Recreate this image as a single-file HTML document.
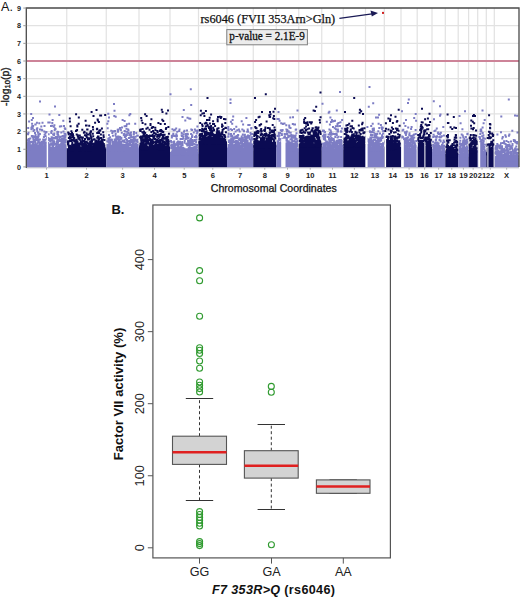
<!DOCTYPE html>
<html><head><meta charset="utf-8"><style>
html,body{margin:0;padding:0;background:#fff;}
svg{display:block;}
text{font-family:"Liberation Sans",sans-serif;}
.ty{font-size:7.2px;font-weight:bold;text-anchor:middle;fill:#222;}
.tx{font-size:7.6px;font-weight:bold;text-anchor:middle;fill:#222;}
.ser{font-family:"Liberation Serif",serif;}
</style></head><body>
<svg width="520" height="598" viewBox="0 0 520 598">
<rect width="520" height="598" fill="#fff"/>
<text x="1.0" y="10.9" style="font-size:12.6px;fill:#111">A.</text>
<text transform="translate(9,106) rotate(-90)" style="font-size:10.5px;fill:#222;stroke:#222;stroke-width:0.35">-log<tspan font-size="7.6px" dy="0.6">10</tspan><tspan dy="-0.6">(p)</tspan></text>
<path d="M26.3 149.25H519.0M26.3 131.60H519.0M26.3 113.95H519.0M26.3 96.30H519.0M26.3 78.65H519.0M26.3 61.00H519.0M26.3 43.35H519.0M26.3 25.70H519.0M66.75 8.0V166.9M106.25 8.0V166.9M139.00 8.0V166.9M170.00 8.0V166.9M198.50 8.0V166.9M227.00 8.0V166.9M253.25 8.0V166.9M276.25 8.0V166.9M298.75 8.0V166.9M321.75 8.0V166.9M343.25 8.0V166.9M365.50 8.0V166.9M384.30 8.0V166.9M401.00 8.0V166.9M417.20 8.0V166.9M432.00 8.0V166.9M445.30 8.0V166.9M458.20 8.0V166.9M468.60 8.0V166.9M477.70 8.0V166.9M486.30 8.0V166.9M494.30 8.0V166.9" stroke="#e2e2e2" stroke-width="1.2" fill="none"/>
<rect x="26.30" y="147.49" width="40.45" height="19.91" fill="#7d7dc4"/>
<rect x="66.75" y="148.37" width="39.50" height="19.03" fill="#0b0b53"/>
<rect x="106.25" y="148.37" width="32.75" height="19.03" fill="#7d7dc4"/>
<rect x="139.00" y="146.60" width="31.00" height="20.80" fill="#0b0b53"/>
<rect x="170.00" y="151.90" width="28.50" height="15.50" fill="#7d7dc4"/>
<rect x="198.50" y="141.31" width="28.50" height="26.09" fill="#0b0b53"/>
<rect x="227.00" y="148.37" width="26.25" height="19.03" fill="#7d7dc4"/>
<rect x="253.25" y="144.84" width="23.00" height="22.56" fill="#0b0b53"/>
<rect x="276.25" y="148.37" width="22.50" height="19.03" fill="#7d7dc4"/>
<rect x="298.75" y="143.96" width="23.00" height="23.44" fill="#0b0b53"/>
<rect x="321.75" y="148.37" width="21.50" height="19.03" fill="#7d7dc4"/>
<rect x="343.25" y="143.96" width="22.25" height="23.44" fill="#0b0b53"/>
<rect x="365.50" y="148.37" width="18.80" height="19.03" fill="#7d7dc4"/>
<rect x="384.30" y="146.60" width="16.70" height="20.80" fill="#0b0b53"/>
<rect x="401.00" y="150.13" width="16.20" height="17.27" fill="#7d7dc4"/>
<rect x="417.20" y="146.60" width="14.80" height="20.80" fill="#0b0b53"/>
<rect x="432.00" y="151.90" width="13.30" height="15.50" fill="#7d7dc4"/>
<rect x="445.30" y="153.66" width="12.90" height="13.74" fill="#0b0b53"/>
<rect x="458.20" y="153.66" width="10.40" height="13.74" fill="#7d7dc4"/>
<rect x="468.60" y="150.13" width="9.10" height="17.27" fill="#0b0b53"/>
<rect x="477.70" y="151.90" width="8.60" height="15.50" fill="#7d7dc4"/>
<rect x="486.30" y="151.90" width="8.00" height="15.50" fill="#0b0b53"/>
<rect x="494.30" y="158.08" width="24.70" height="9.32" fill="#7d7dc4"/>
<path d="M32.1 146.1h2v2h-2zM29.1 141.1h2v2h-2zM40.4 143.2h2v2h-2zM45.8 148.7h2v2h-2zM43.0 148.8h2v2h-2zM29.8 148.6h2v2h-2zM58.1 144.9h2v2h-2zM34.9 148.1h2v2h-2zM62.7 141.6h2v2h-2zM41.6 142.5h2v2h-2zM28.1 120.5h2v2h-2zM37.4 134.1h2v2h-2zM30.8 147.9h2v2h-2zM57.7 146.3h2v2h-2zM48.7 147.6h2v2h-2zM40.6 141.3h2v2h-2zM28.7 143.1h2v2h-2zM34.2 148.7h2v2h-2zM42.7 140.4h2v2h-2zM48.8 146.2h2v2h-2zM37.8 144.5h2v2h-2zM53.2 137.0h2v2h-2zM48.4 147.0h2v2h-2zM59.9 143.4h2v2h-2zM37.4 139.1h2v2h-2zM30.8 119.1h2v2h-2zM55.4 145.0h2v2h-2zM45.1 147.9h2v2h-2zM52.0 148.8h2v2h-2zM48.3 138.0h2v2h-2zM38.4 133.2h2v2h-2zM49.2 140.0h2v2h-2zM43.8 142.5h2v2h-2zM62.6 135.1h2v2h-2zM51.8 144.2h2v2h-2zM53.3 148.7h2v2h-2zM64.5 141.1h2v2h-2zM37.2 135.9h2v2h-2zM52.0 145.4h2v2h-2zM44.1 149.0h2v2h-2zM30.8 147.7h2v2h-2zM55.8 148.7h2v2h-2zM35.8 148.1h2v2h-2zM59.8 145.3h2v2h-2zM43.6 148.5h2v2h-2zM60.3 143.0h2v2h-2zM59.5 136.0h2v2h-2zM42.3 146.6h2v2h-2zM60.3 145.7h2v2h-2zM32.1 124.9h2v2h-2zM35.2 147.6h2v2h-2zM44.9 147.1h2v2h-2zM36.4 142.3h2v2h-2zM42.4 149.1h2v2h-2zM48.1 145.6h2v2h-2zM52.8 125.7h2v2h-2zM50.0 143.6h2v2h-2zM28.4 140.5h2v2h-2zM56.3 131.5h2v2h-2zM57.0 133.2h2v2h-2zM41.6 145.3h2v2h-2zM50.7 148.3h2v2h-2zM28.9 148.6h2v2h-2zM32.5 147.3h2v2h-2zM28.3 145.9h2v2h-2zM32.1 149.1h2v2h-2zM40.3 148.3h2v2h-2zM59.9 148.9h2v2h-2zM32.0 141.8h2v2h-2zM39.7 146.9h2v2h-2zM31.0 145.7h2v2h-2zM64.5 134.6h2v2h-2zM44.9 144.3h2v2h-2zM30.2 148.4h2v2h-2zM36.5 145.9h2v2h-2zM32.5 135.6h2v2h-2zM62.9 149.0h2v2h-2zM31.9 143.4h2v2h-2zM27.3 143.1h2v2h-2zM63.9 143.4h2v2h-2zM53.1 133.9h2v2h-2zM40.4 146.8h2v2h-2zM56.0 147.7h2v2h-2zM56.3 143.3h2v2h-2zM34.9 146.1h2v2h-2zM64.2 136.3h2v2h-2zM57.3 134.5h2v2h-2zM54.7 136.1h2v2h-2zM46.2 147.2h2v2h-2zM27.4 145.8h2v2h-2zM37.0 148.9h2v2h-2zM52.9 146.8h2v2h-2zM43.5 125.1h2v2h-2zM64.3 127.9h2v2h-2zM40.3 125.4h2v2h-2zM35.0 147.2h2v2h-2zM34.2 147.5h2v2h-2zM60.9 141.6h2v2h-2zM44.7 135.1h2v2h-2zM57.0 141.0h2v2h-2zM51.7 148.5h2v2h-2zM56.4 130.7h2v2h-2zM44.7 138.5h2v2h-2zM56.6 147.6h2v2h-2zM57.1 146.0h2v2h-2zM41.5 121.8h2v2h-2zM62.7 145.2h2v2h-2zM32.8 139.2h2v2h-2zM32.1 148.1h2v2h-2zM57.3 131.1h2v2h-2zM58.1 147.9h2v2h-2zM51.6 119.0h2v2h-2zM47.4 145.8h2v2h-2zM26.8 148.1h2v2h-2zM51.3 122.0h2v2h-2zM62.2 143.4h2v2h-2zM59.8 144.8h2v2h-2zM34.4 135.7h2v2h-2zM37.6 146.9h2v2h-2zM48.8 147.0h2v2h-2zM42.4 146.8h2v2h-2zM61.3 148.1h2v2h-2zM43.9 145.8h2v2h-2zM61.1 142.4h2v2h-2zM61.6 144.9h2v2h-2zM46.7 143.8h2v2h-2zM27.0 143.5h2v2h-2zM33.3 144.7h2v2h-2zM57.0 149.1h2v2h-2zM44.5 147.7h2v2h-2zM47.7 139.2h2v2h-2zM46.2 146.1h2v2h-2zM56.5 142.9h2v2h-2zM47.8 148.3h2v2h-2zM36.9 146.9h2v2h-2zM45.8 137.8h2v2h-2zM55.5 142.8h2v2h-2zM43.3 130.5h2v2h-2zM45.7 141.9h2v2h-2zM52.9 143.6h2v2h-2zM46.8 144.5h2v2h-2zM62.5 144.1h2v2h-2zM60.0 139.9h2v2h-2zM36.3 127.3h2v2h-2zM62.6 142.8h2v2h-2zM31.6 135.1h2v2h-2zM43.3 148.1h2v2h-2zM35.6 148.6h2v2h-2zM52.0 148.6h2v2h-2zM60.8 137.4h2v2h-2zM53.8 147.8h2v2h-2zM31.8 140.9h2v2h-2zM63.5 132.7h2v2h-2zM62.9 147.2h2v2h-2zM45.0 145.2h2v2h-2zM58.3 113.9h2v2h-2zM42.9 147.8h2v2h-2zM39.3 143.6h2v2h-2zM38.5 147.5h2v2h-2zM27.0 139.3h2v2h-2zM43.2 142.9h2v2h-2zM39.0 149.0h2v2h-2zM46.0 141.6h2v2h-2zM64.2 148.6h2v2h-2zM63.7 137.2h2v2h-2zM36.5 148.3h2v2h-2zM56.3 148.8h2v2h-2zM31.3 146.7h2v2h-2zM61.3 144.9h2v2h-2zM36.2 136.0h2v2h-2zM61.6 147.9h2v2h-2zM53.2 142.7h2v2h-2zM28.5 148.4h2v2h-2zM42.7 140.2h2v2h-2zM62.4 148.6h2v2h-2zM57.1 141.4h2v2h-2zM59.2 148.5h2v2h-2zM59.5 148.6h2v2h-2zM39.3 144.5h2v2h-2zM61.9 143.0h2v2h-2zM31.3 146.7h2v2h-2zM35.5 143.4h2v2h-2zM32.5 148.2h2v2h-2zM34.1 148.7h2v2h-2zM38.0 146.3h2v2h-2zM37.4 138.2h2v2h-2zM33.1 143.8h2v2h-2zM27.0 145.9h2v2h-2zM26.9 146.9h2v2h-2zM47.5 139.0h2v2h-2zM44.6 147.5h2v2h-2zM30.4 128.2h2v2h-2zM42.9 136.0h2v2h-2zM58.4 143.9h2v2h-2zM45.8 145.3h2v2h-2zM64.1 140.2h2v2h-2zM58.3 145.9h2v2h-2zM50.8 139.7h2v2h-2zM39.7 145.2h2v2h-2zM31.3 148.7h2v2h-2zM54.8 148.6h2v2h-2zM32.6 146.9h2v2h-2zM58.6 148.5h2v2h-2zM52.1 133.5h2v2h-2zM35.6 146.6h2v2h-2zM44.0 146.5h2v2h-2zM43.4 147.8h2v2h-2zM63.3 146.8h2v2h-2zM47.3 121.6h2v2h-2zM63.4 147.0h2v2h-2zM40.0 146.3h2v2h-2zM41.0 149.1h2v2h-2zM45.6 144.2h2v2h-2zM45.7 147.4h2v2h-2zM36.5 149.1h2v2h-2zM41.7 148.4h2v2h-2zM27.2 148.8h2v2h-2zM35.3 146.4h2v2h-2zM46.6 142.4h2v2h-2zM51.6 138.5h2v2h-2zM60.1 139.5h2v2h-2zM38.8 145.3h2v2h-2zM32.0 117.1h2v2h-2zM51.0 139.3h2v2h-2zM58.4 148.8h2v2h-2zM50.4 132.1h2v2h-2zM57.5 139.0h2v2h-2zM46.4 148.0h2v2h-2zM58.4 143.8h2v2h-2zM58.1 136.6h2v2h-2zM60.6 142.4h2v2h-2zM53.0 140.3h2v2h-2zM27.5 147.1h2v2h-2zM40.2 148.0h2v2h-2zM58.4 148.3h2v2h-2zM50.4 142.9h2v2h-2zM52.5 141.6h2v2h-2zM26.4 144.0h2v2h-2zM55.1 136.9h2v2h-2zM46.9 143.8h2v2h-2zM28.8 140.9h2v2h-2zM36.0 138.9h2v2h-2zM36.5 148.5h2v2h-2zM34.2 139.1h2v2h-2zM63.8 138.8h2v2h-2zM41.0 143.9h2v2h-2zM52.6 144.1h2v2h-2zM50.0 138.0h2v2h-2zM29.3 141.2h2v2h-2zM36.1 147.9h2v2h-2zM38.0 138.7h2v2h-2zM26.8 142.7h2v2h-2zM36.6 148.7h2v2h-2zM52.9 140.6h2v2h-2zM37.5 140.5h2v2h-2zM44.2 143.6h2v2h-2zM30.9 144.3h2v2h-2zM34.0 132.0h2v2h-2zM62.3 119.8h2v2h-2zM43.9 149.0h2v2h-2zM63.5 136.0h2v2h-2zM36.6 144.6h2v2h-2zM62.7 147.3h2v2h-2zM48.7 147.3h2v2h-2zM46.5 148.0h2v2h-2zM31.4 125.7h2v2h-2zM45.9 136.0h2v2h-2zM53.3 132.4h2v2h-2zM60.8 147.1h2v2h-2zM27.3 144.0h2v2h-2zM45.2 149.1h2v2h-2zM37.9 144.5h2v2h-2zM39.5 148.0h2v2h-2zM58.6 146.2h2v2h-2zM55.2 149.1h2v2h-2zM30.9 135.1h2v2h-2zM53.7 129.1h2v2h-2zM37.4 131.4h2v2h-2zM41.4 145.6h2v2h-2zM40.2 142.3h2v2h-2zM36.9 144.8h2v2h-2zM30.2 148.8h2v2h-2zM37.3 135.3h2v2h-2zM35.9 128.1h2v2h-2zM45.9 146.8h2v2h-2zM40.7 147.5h2v2h-2zM60.3 125.2h2v2h-2zM50.6 136.3h2v2h-2zM62.5 130.4h2v2h-2zM54.0 143.0h2v2h-2zM54.5 148.7h2v2h-2zM55.2 144.5h2v2h-2zM37.3 141.2h2v2h-2zM61.9 148.7h2v2h-2zM44.5 148.1h2v2h-2zM37.7 145.9h2v2h-2zM63.8 138.8h2v2h-2zM51.5 146.8h2v2h-2zM47.7 146.4h2v2h-2zM32.7 145.3h2v2h-2zM34.3 147.8h2v2h-2zM45.4 131.0h2v2h-2zM61.1 147.2h2v2h-2zM31.7 144.6h2v2h-2zM29.8 147.5h2v2h-2zM29.8 145.9h2v2h-2zM36.2 147.0h2v2h-2zM60.4 142.7h2v2h-2zM42.2 138.5h2v2h-2zM46.5 145.0h2v2h-2zM39.3 145.5h2v2h-2zM37.0 148.6h2v2h-2zM31.1 122.8h2v2h-2zM50.5 143.8h2v2h-2zM34.6 133.9h2v2h-2zM35.9 146.7h2v2h-2zM43.4 145.2h2v2h-2zM58.9 125.5h2v2h-2zM27.1 133.3h2v2h-2zM53.6 148.9h2v2h-2zM44.5 131.8h2v2h-2zM26.3 142.4h2v2h-2zM61.9 145.3h2v2h-2zM59.2 135.7h2v2h-2zM35.9 121.7h2v2h-2zM32.2 148.2h2v2h-2zM52.5 143.5h2v2h-2zM54.1 127.4h2v2h-2zM55.7 141.1h2v2h-2zM47.5 144.4h2v2h-2zM56.4 148.8h2v2h-2zM61.7 147.1h2v2h-2zM38.0 141.2h2v2h-2zM36.0 148.1h2v2h-2zM53.2 141.4h2v2h-2zM29.0 148.2h2v2h-2zM48.7 143.4h2v2h-2zM34.9 145.4h2v2h-2zM26.7 142.1h2v2h-2zM44.0 146.4h2v2h-2zM51.1 124.7h2v2h-2zM44.6 132.6h2v2h-2zM35.8 147.1h2v2h-2zM53.4 124.3h2v2h-2zM27.1 146.3h2v2h-2zM52.2 143.8h2v2h-2zM36.2 145.0h2v2h-2zM61.9 140.7h2v2h-2zM27.6 147.2h2v2h-2zM42.5 146.0h2v2h-2zM33.9 140.3h2v2h-2zM54.7 136.9h2v2h-2zM34.2 143.7h2v2h-2zM38.3 122.3h2v2h-2zM35.2 136.0h2v2h-2zM55.5 147.2h2v2h-2zM62.9 146.5h2v2h-2zM33.5 143.9h2v2h-2zM42.3 147.2h2v2h-2zM62.8 140.7h2v2h-2zM41.4 147.9h2v2h-2zM63.8 147.3h2v2h-2zM28.3 148.0h2v2h-2zM41.4 148.7h2v2h-2zM60.3 131.6h2v2h-2zM64.7 139.0h2v2h-2zM39.0 128.6h2v2h-2zM62.3 147.6h2v2h-2zM27.5 138.6h2v2h-2zM40.9 140.8h2v2h-2zM39.1 145.5h2v2h-2zM26.4 147.7h2v2h-2zM39.8 146.6h2v2h-2zM31.1 125.3h2v2h-2zM34.3 123.6h2v2h-2zM57.9 145.8h2v2h-2zM42.9 135.9h2v2h-2zM44.5 148.7h2v2h-2zM61.7 145.6h2v2h-2zM40.3 147.5h2v2h-2zM27.5 131.7h2v2h-2zM57.5 145.1h2v2h-2zM27.9 138.0h2v2h-2zM28.7 148.9h2v2h-2zM36.2 129.8h2v2h-2zM60.8 138.6h2v2h-2zM36.8 146.0h2v2h-2zM50.0 124.9h2v2h-2zM53.9 146.8h2v2h-2zM36.9 146.2h2v2h-2zM55.4 149.1h2v2h-2zM50.7 130.1h2v2h-2zM27.2 127.1h2v2h-2zM44.6 147.1h2v2h-2zM63.0 125.1h2v2h-2zM36.0 145.4h2v2h-2zM45.3 144.8h2v2h-2zM33.3 129.0h2v2h-2zM54.7 136.7h2v2h-2zM56.0 135.9h2v2h-2zM38.9 142.0h2v2h-2zM40.2 146.2h2v2h-2zM29.3 137.4h2v2h-2zM55.2 147.4h2v2h-2zM28.8 147.0h2v2h-2zM47.5 148.9h2v2h-2zM64.0 146.1h2v2h-2zM64.3 132.7h2v2h-2zM29.5 146.8h2v2h-2zM45.5 148.4h2v2h-2zM43.5 139.6h2v2h-2zM42.3 147.1h2v2h-2zM52.2 141.7h2v2h-2zM58.9 138.6h2v2h-2zM31.0 140.8h2v2h-2zM37.6 135.0h2v2h-2zM40.6 142.7h2v2h-2zM34.0 138.9h2v2h-2zM35.7 147.0h2v2h-2zM60.3 147.9h2v2h-2zM38.8 142.5h2v2h-2zM64.5 145.3h2v2h-2zM35.2 143.7h2v2h-2zM51.4 136.5h2v2h-2zM30.2 113.1h2v2h-2zM57.8 144.2h2v2h-2zM61.5 135.1h2v2h-2zM37.6 148.8h2v2h-2zM33.6 148.2h2v2h-2zM48.7 121.5h2v2h-2zM40.6 128.7h2v2h-2zM43.6 133.7h2v2h-2zM56.2 146.8h2v2h-2zM30.4 126.8h2v2h-2zM50.1 142.2h2v2h-2zM40.5 147.3h2v2h-2zM34.1 148.0h2v2h-2zM49.3 146.9h2v2h-2zM34.1 141.0h2v2h-2zM38.9 149.0h2v2h-2zM33.4 140.4h2v2h-2zM34.1 146.3h2v2h-2zM47.4 137.0h2v2h-2zM30.2 148.6h2v2h-2zM47.5 145.3h2v2h-2zM29.8 141.3h2v2h-2zM53.0 147.8h2v2h-2zM37.2 145.1h2v2h-2zM63.0 146.3h2v2h-2zM48.1 146.3h2v2h-2zM42.3 145.7h2v2h-2zM64.6 133.8h2v2h-2zM33.9 145.7h2v2h-2zM34.1 139.2h2v2h-2zM61.0 149.1h2v2h-2zM57.8 144.9h2v2h-2zM60.2 145.1h2v2h-2zM32.5 144.4h2v2h-2zM47.5 149.0h2v2h-2zM61.3 141.3h2v2h-2zM50.2 148.4h2v2h-2zM45.7 145.6h2v2h-2zM37.2 147.9h2v2h-2zM61.9 143.5h2v2h-2zM45.2 148.2h2v2h-2zM63.5 136.6h2v2h-2zM31.2 147.4h2v2h-2zM63.8 127.2h2v2h-2zM28.4 144.1h2v2h-2zM41.2 129.2h2v2h-2zM50.2 131.2h2v2h-2zM32.5 135.8h2v2h-2zM34.8 137.3h2v2h-2zM58.8 145.2h2v2h-2zM33.3 135.6h2v2h-2zM41.7 147.2h2v2h-2zM41.0 143.5h2v2h-2zM35.8 148.1h2v2h-2zM60.8 139.2h2v2h-2zM47.9 148.8h2v2h-2zM27.8 138.3h2v2h-2zM30.8 135.2h2v2h-2zM47.4 142.1h2v2h-2zM38.1 141.6h2v2h-2zM48.7 145.0h2v2h-2zM51.6 144.9h2v2h-2zM43.2 144.6h2v2h-2zM50.1 149.0h2v2h-2zM35.3 144.0h2v2h-2zM56.3 138.1h2v2h-2zM33.2 144.4h2v2h-2zM30.4 144.2h2v2h-2zM42.9 148.1h2v2h-2zM43.3 148.4h2v2h-2zM27.9 143.7h2v2h-2zM29.5 141.4h2v2h-2zM56.2 139.0h2v2h-2zM28.4 143.6h2v2h-2zM40.8 143.8h2v2h-2zM31.5 126.0h2v2h-2zM64.6 134.2h2v2h-2zM57.6 139.0h2v2h-2zM64.0 147.5h2v2h-2zM63.1 143.9h2v2h-2zM32.6 130.1h2v2h-2zM62.1 137.2h2v2h-2zM39.8 148.6h2v2h-2zM32.4 138.3h2v2h-2zM36.9 131.7h2v2h-2zM31.8 136.2h2v2h-2zM61.7 143.8h2v2h-2zM36.4 147.3h2v2h-2zM38.6 143.7h2v2h-2zM33.3 148.8h2v2h-2zM62.3 147.8h2v2h-2zM60.7 140.4h2v2h-2zM56.5 147.7h2v2h-2zM46.7 148.2h2v2h-2zM40.1 141.4h2v2h-2zM47.6 133.3h2v2h-2zM60.2 142.5h2v2h-2zM64.5 148.3h2v2h-2zM41.5 141.5h2v2h-2zM36.5 136.9h2v2h-2zM48.5 113.4h2v2h-2zM55.7 145.7h2v2h-2zM33.1 144.7h2v2h-2zM28.2 138.7h2v2h-2zM36.1 136.0h2v2h-2zM64.1 141.3h2v2h-2zM51.8 142.4h2v2h-2zM26.4 146.3h2v2h-2zM32.0 148.9h2v2h-2zM42.9 141.8h2v2h-2zM60.7 143.6h2v2h-2zM35.0 148.0h2v2h-2zM27.2 141.0h2v2h-2zM39.9 149.1h2v2h-2zM40.0 148.3h2v2h-2zM48.7 147.2h2v2h-2zM34.2 142.3h2v2h-2zM44.6 141.6h2v2h-2zM62.3 148.0h2v2h-2zM32.0 147.0h2v2h-2zM50.8 148.4h2v2h-2zM56.4 133.4h2v2h-2zM36.5 145.2h2v2h-2zM51.1 149.0h2v2h-2zM39.8 142.8h2v2h-2zM43.4 141.2h2v2h-2zM54.5 127.9h2v2h-2zM61.0 146.9h2v2h-2zM46.7 148.8h2v2h-2zM35.4 145.1h2v2h-2zM56.2 148.7h2v2h-2zM47.5 149.0h2v2h-2zM31.8 127.4h2v2h-2zM49.7 147.4h2v2h-2zM51.0 143.7h2v2h-2zM33.0 136.3h2v2h-2zM37.8 146.3h2v2h-2zM60.5 148.8h2v2h-2zM53.8 137.4h2v2h-2zM58.8 149.1h2v2h-2zM44.2 138.7h2v2h-2zM43.7 138.8h2v2h-2zM30.3 147.2h2v2h-2zM27.8 147.1h2v2h-2zM55.1 146.0h2v2h-2zM58.8 140.0h2v2h-2zM36.5 139.6h2v2h-2zM43.1 142.9h2v2h-2zM46.4 137.2h2v2h-2zM51.0 146.8h2v2h-2zM34.6 123.4h2v2h-2zM26.9 132.9h2v2h-2zM35.4 146.8h2v2h-2zM62.6 138.7h2v2h-2zM38.9 138.6h2v2h-2zM38.9 132.9h2v2h-2zM61.2 147.0h2v2h-2zM52.9 141.5h2v2h-2zM63.9 140.7h2v2h-2zM108.9 146.2h2v2h-2zM132.4 148.5h2v2h-2zM126.6 147.0h2v2h-2zM123.5 149.1h2v2h-2zM121.6 146.6h2v2h-2zM108.3 147.3h2v2h-2zM113.2 147.2h2v2h-2zM128.3 149.0h2v2h-2zM118.7 147.5h2v2h-2zM130.1 131.6h2v2h-2zM132.7 133.6h2v2h-2zM114.8 148.9h2v2h-2zM127.1 149.8h2v2h-2zM117.1 141.7h2v2h-2zM126.5 145.9h2v2h-2zM113.9 140.8h2v2h-2zM117.1 135.6h2v2h-2zM111.8 142.4h2v2h-2zM134.3 149.1h2v2h-2zM128.2 139.9h2v2h-2zM107.5 149.7h2v2h-2zM112.3 148.7h2v2h-2zM118.0 147.2h2v2h-2zM115.8 149.7h2v2h-2zM111.8 142.2h2v2h-2zM123.8 136.0h2v2h-2zM114.1 140.3h2v2h-2zM127.3 145.6h2v2h-2zM106.3 146.7h2v2h-2zM130.1 136.2h2v2h-2zM107.6 147.4h2v2h-2zM124.9 135.3h2v2h-2zM113.8 149.6h2v2h-2zM130.6 149.1h2v2h-2zM134.4 148.2h2v2h-2zM108.9 139.4h2v2h-2zM118.4 140.9h2v2h-2zM131.7 139.5h2v2h-2zM109.0 147.5h2v2h-2zM119.3 127.6h2v2h-2zM127.5 129.6h2v2h-2zM131.8 139.7h2v2h-2zM120.2 142.4h2v2h-2zM127.7 149.6h2v2h-2zM122.0 145.7h2v2h-2zM110.2 129.8h2v2h-2zM107.6 139.0h2v2h-2zM131.0 140.7h2v2h-2zM123.1 147.7h2v2h-2zM125.9 123.3h2v2h-2zM113.9 144.0h2v2h-2zM117.3 149.5h2v2h-2zM112.4 145.9h2v2h-2zM110.4 147.2h2v2h-2zM126.9 140.6h2v2h-2zM113.7 147.9h2v2h-2zM119.9 144.5h2v2h-2zM117.1 129.0h2v2h-2zM133.5 147.3h2v2h-2zM123.6 148.8h2v2h-2zM131.3 146.9h2v2h-2zM129.6 143.9h2v2h-2zM126.7 148.6h2v2h-2zM120.4 143.0h2v2h-2zM131.8 138.9h2v2h-2zM115.1 149.1h2v2h-2zM112.6 146.6h2v2h-2zM114.9 149.5h2v2h-2zM127.8 148.3h2v2h-2zM109.7 145.5h2v2h-2zM120.7 147.0h2v2h-2zM111.4 146.6h2v2h-2zM106.6 149.4h2v2h-2zM129.3 112.9h2v2h-2zM128.3 149.3h2v2h-2zM123.6 119.9h2v2h-2zM121.3 149.1h2v2h-2zM112.1 145.6h2v2h-2zM106.5 144.0h2v2h-2zM126.1 130.7h2v2h-2zM135.0 142.4h2v2h-2zM114.0 141.9h2v2h-2zM110.5 147.9h2v2h-2zM130.1 149.8h2v2h-2zM115.4 136.0h2v2h-2zM125.9 148.4h2v2h-2zM134.7 135.7h2v2h-2zM130.4 148.6h2v2h-2zM129.1 136.4h2v2h-2zM111.9 147.0h2v2h-2zM116.1 136.6h2v2h-2zM123.2 146.5h2v2h-2zM131.8 146.5h2v2h-2zM107.5 147.9h2v2h-2zM125.6 143.6h2v2h-2zM127.9 136.9h2v2h-2zM135.3 132.0h2v2h-2zM121.6 144.8h2v2h-2zM115.5 148.7h2v2h-2zM108.7 143.3h2v2h-2zM111.3 141.1h2v2h-2zM136.1 145.5h2v2h-2zM107.5 149.3h2v2h-2zM112.1 145.6h2v2h-2zM106.3 140.2h2v2h-2zM132.6 135.9h2v2h-2zM119.3 138.2h2v2h-2zM126.6 147.5h2v2h-2zM119.2 144.5h2v2h-2zM119.7 146.8h2v2h-2zM131.7 141.6h2v2h-2zM111.3 132.1h2v2h-2zM119.9 147.3h2v2h-2zM117.0 143.7h2v2h-2zM108.9 148.3h2v2h-2zM120.4 147.0h2v2h-2zM134.2 122.8h2v2h-2zM136.2 134.6h2v2h-2zM125.3 125.0h2v2h-2zM108.1 137.2h2v2h-2zM125.0 141.4h2v2h-2zM123.8 147.3h2v2h-2zM121.0 126.6h2v2h-2zM115.5 142.0h2v2h-2zM133.5 146.8h2v2h-2zM112.1 149.8h2v2h-2zM120.0 141.3h2v2h-2zM126.6 149.3h2v2h-2zM124.1 146.4h2v2h-2zM122.5 145.9h2v2h-2zM118.4 143.6h2v2h-2zM111.8 149.1h2v2h-2zM123.1 133.1h2v2h-2zM132.8 149.1h2v2h-2zM109.2 147.8h2v2h-2zM114.0 144.2h2v2h-2zM123.3 144.9h2v2h-2zM123.9 148.0h2v2h-2zM122.0 149.1h2v2h-2zM108.7 143.2h2v2h-2zM108.5 146.0h2v2h-2zM132.8 145.6h2v2h-2zM128.2 143.9h2v2h-2zM109.8 139.2h2v2h-2zM128.4 114.2h2v2h-2zM131.8 149.2h2v2h-2zM111.5 146.2h2v2h-2zM123.6 125.3h2v2h-2zM110.5 138.6h2v2h-2zM108.0 138.5h2v2h-2zM117.7 147.9h2v2h-2zM124.5 149.9h2v2h-2zM115.5 148.2h2v2h-2zM119.3 140.6h2v2h-2zM125.4 133.2h2v2h-2zM123.6 134.2h2v2h-2zM133.0 130.9h2v2h-2zM129.2 148.6h2v2h-2zM129.7 146.8h2v2h-2zM131.6 141.3h2v2h-2zM117.7 149.0h2v2h-2zM135.4 139.8h2v2h-2zM107.6 140.2h2v2h-2zM109.3 142.9h2v2h-2zM130.9 143.9h2v2h-2zM134.7 149.1h2v2h-2zM114.1 141.4h2v2h-2zM120.0 148.4h2v2h-2zM124.1 136.1h2v2h-2zM106.9 149.1h2v2h-2zM130.9 149.1h2v2h-2zM123.3 148.4h2v2h-2zM127.4 147.4h2v2h-2zM110.7 146.3h2v2h-2zM122.8 134.1h2v2h-2zM131.1 141.0h2v2h-2zM106.7 127.2h2v2h-2zM110.9 146.8h2v2h-2zM133.1 144.7h2v2h-2zM107.3 137.7h2v2h-2zM131.4 148.5h2v2h-2zM118.3 141.3h2v2h-2zM111.1 145.1h2v2h-2zM118.3 135.7h2v2h-2zM125.0 134.2h2v2h-2zM116.4 149.4h2v2h-2zM133.7 148.1h2v2h-2zM107.6 143.2h2v2h-2zM117.4 148.6h2v2h-2zM124.0 145.2h2v2h-2zM117.1 146.3h2v2h-2zM124.1 150.0h2v2h-2zM106.9 146.9h2v2h-2zM136.6 145.3h2v2h-2zM110.7 149.7h2v2h-2zM114.6 141.5h2v2h-2zM121.6 147.6h2v2h-2zM123.7 147.7h2v2h-2zM135.7 144.3h2v2h-2zM107.3 112.8h2v2h-2zM130.0 143.7h2v2h-2zM130.1 134.2h2v2h-2zM125.8 142.3h2v2h-2zM114.9 146.6h2v2h-2zM133.1 137.9h2v2h-2zM127.2 128.6h2v2h-2zM129.7 147.2h2v2h-2zM121.9 139.7h2v2h-2zM117.0 142.3h2v2h-2zM118.7 143.9h2v2h-2zM116.6 149.5h2v2h-2zM136.6 147.0h2v2h-2zM117.5 145.0h2v2h-2zM113.5 147.9h2v2h-2zM110.4 146.7h2v2h-2zM133.0 150.0h2v2h-2zM119.9 145.4h2v2h-2zM115.5 143.6h2v2h-2zM108.3 148.6h2v2h-2zM115.7 147.3h2v2h-2zM123.2 140.1h2v2h-2zM116.7 128.8h2v2h-2zM124.2 130.5h2v2h-2zM111.7 149.4h2v2h-2zM136.6 143.4h2v2h-2zM130.1 146.6h2v2h-2zM133.0 145.7h2v2h-2zM121.1 149.5h2v2h-2zM114.7 132.4h2v2h-2zM107.0 147.7h2v2h-2zM114.5 148.6h2v2h-2zM113.0 140.7h2v2h-2zM112.4 146.1h2v2h-2zM132.8 142.9h2v2h-2zM112.3 142.0h2v2h-2zM135.9 139.9h2v2h-2zM108.7 143.0h2v2h-2zM133.2 137.3h2v2h-2zM110.5 146.8h2v2h-2zM122.8 148.4h2v2h-2zM125.9 134.0h2v2h-2zM112.8 130.4h2v2h-2zM129.3 147.0h2v2h-2zM118.7 142.0h2v2h-2zM116.6 141.3h2v2h-2zM119.0 149.6h2v2h-2zM125.5 149.7h2v2h-2zM121.5 146.9h2v2h-2zM114.2 143.0h2v2h-2zM106.7 145.2h2v2h-2zM123.6 130.1h2v2h-2zM108.0 116.4h2v2h-2zM128.5 142.7h2v2h-2zM109.1 147.0h2v2h-2zM110.6 148.7h2v2h-2zM109.0 138.8h2v2h-2zM119.3 137.1h2v2h-2zM124.3 144.1h2v2h-2zM126.5 143.8h2v2h-2zM116.4 143.0h2v2h-2zM114.2 139.7h2v2h-2zM129.7 140.5h2v2h-2zM115.8 138.5h2v2h-2zM136.3 138.7h2v2h-2zM114.8 145.4h2v2h-2zM135.2 144.3h2v2h-2zM106.5 148.9h2v2h-2zM126.4 145.1h2v2h-2zM117.4 138.6h2v2h-2zM113.3 115.1h2v2h-2zM109.0 139.2h2v2h-2zM110.4 149.8h2v2h-2zM121.7 149.5h2v2h-2zM111.8 143.8h2v2h-2zM117.5 128.5h2v2h-2zM111.7 148.8h2v2h-2zM134.6 139.8h2v2h-2zM107.1 148.7h2v2h-2zM113.7 138.5h2v2h-2zM121.6 119.1h2v2h-2zM116.8 142.3h2v2h-2zM120.4 137.7h2v2h-2zM134.0 147.0h2v2h-2zM128.8 149.1h2v2h-2zM126.1 149.5h2v2h-2zM132.8 146.1h2v2h-2zM123.6 149.5h2v2h-2zM134.5 146.0h2v2h-2zM125.5 127.8h2v2h-2zM114.0 148.1h2v2h-2zM119.6 147.7h2v2h-2zM112.5 148.0h2v2h-2zM126.0 139.1h2v2h-2zM136.8 147.3h2v2h-2zM123.8 148.1h2v2h-2zM132.8 148.7h2v2h-2zM114.5 134.4h2v2h-2zM131.6 139.3h2v2h-2zM116.4 147.5h2v2h-2zM133.6 144.9h2v2h-2zM127.2 148.7h2v2h-2zM120.2 143.0h2v2h-2zM133.4 143.4h2v2h-2zM133.4 148.2h2v2h-2zM130.2 146.6h2v2h-2zM111.9 134.8h2v2h-2zM136.8 134.7h2v2h-2zM107.0 147.3h2v2h-2zM136.2 149.1h2v2h-2zM134.3 149.9h2v2h-2zM128.9 148.8h2v2h-2zM111.4 149.2h2v2h-2zM109.0 141.2h2v2h-2zM134.5 146.8h2v2h-2zM133.4 140.4h2v2h-2zM107.3 120.2h2v2h-2zM130.6 148.0h2v2h-2zM107.4 141.1h2v2h-2zM113.4 144.6h2v2h-2zM109.5 145.7h2v2h-2zM136.7 149.9h2v2h-2zM133.3 147.1h2v2h-2zM121.2 149.0h2v2h-2zM119.4 148.9h2v2h-2zM127.3 148.5h2v2h-2zM128.9 148.8h2v2h-2zM109.7 144.7h2v2h-2zM121.5 146.7h2v2h-2zM117.0 130.8h2v2h-2zM136.0 148.2h2v2h-2zM128.7 133.6h2v2h-2zM111.7 147.6h2v2h-2zM108.4 147.7h2v2h-2zM121.9 149.7h2v2h-2zM123.4 146.0h2v2h-2zM106.6 146.6h2v2h-2zM126.3 141.1h2v2h-2zM123.1 144.0h2v2h-2zM136.5 141.0h2v2h-2zM128.3 134.1h2v2h-2zM116.0 146.1h2v2h-2zM136.2 145.9h2v2h-2zM118.1 146.3h2v2h-2zM110.6 146.0h2v2h-2zM124.9 150.0h2v2h-2zM114.1 130.0h2v2h-2zM117.8 142.8h2v2h-2zM112.4 147.9h2v2h-2zM132.2 149.1h2v2h-2zM134.2 138.3h2v2h-2zM127.6 149.6h2v2h-2zM126.1 147.0h2v2h-2zM116.0 143.9h2v2h-2zM106.3 122.7h2v2h-2zM132.5 139.5h2v2h-2zM124.5 144.5h2v2h-2zM113.5 109.8h2v2h-2zM129.1 142.4h2v2h-2zM128.1 146.4h2v2h-2zM122.4 146.2h2v2h-2zM127.1 142.7h2v2h-2zM125.6 147.0h2v2h-2zM113.1 144.0h2v2h-2zM114.4 142.7h2v2h-2zM120.8 131.7h2v2h-2zM122.3 140.2h2v2h-2zM113.1 145.1h2v2h-2zM134.8 148.8h2v2h-2zM122.4 144.2h2v2h-2zM131.3 144.3h2v2h-2zM111.5 147.9h2v2h-2zM120.4 136.8h2v2h-2zM131.7 142.2h2v2h-2zM132.9 132.8h2v2h-2zM118.0 149.7h2v2h-2zM131.4 136.3h2v2h-2zM111.0 149.0h2v2h-2zM109.4 147.8h2v2h-2zM130.9 146.6h2v2h-2zM120.2 144.4h2v2h-2zM118.4 149.3h2v2h-2zM120.1 140.9h2v2h-2zM130.8 145.0h2v2h-2zM110.9 139.1h2v2h-2zM117.5 141.3h2v2h-2zM113.6 144.4h2v2h-2zM116.7 146.5h2v2h-2zM106.8 146.3h2v2h-2zM123.8 148.3h2v2h-2zM111.7 149.6h2v2h-2zM114.7 140.3h2v2h-2zM113.7 147.0h2v2h-2zM109.1 136.2h2v2h-2zM132.7 142.3h2v2h-2zM119.3 148.3h2v2h-2zM125.2 138.0h2v2h-2zM107.6 146.5h2v2h-2zM117.5 145.5h2v2h-2zM115.3 140.5h2v2h-2zM126.2 146.0h2v2h-2zM117.1 137.3h2v2h-2zM124.0 146.3h2v2h-2zM112.1 130.2h2v2h-2zM128.1 122.8h2v2h-2zM126.7 146.4h2v2h-2zM108.4 147.0h2v2h-2zM117.9 139.2h2v2h-2zM121.5 144.3h2v2h-2zM129.5 132.3h2v2h-2zM124.5 149.8h2v2h-2zM120.5 145.3h2v2h-2zM119.0 136.0h2v2h-2zM133.6 145.1h2v2h-2zM121.4 145.6h2v2h-2zM131.6 144.5h2v2h-2zM129.0 141.5h2v2h-2zM107.5 146.1h2v2h-2zM123.3 141.3h2v2h-2zM129.9 138.8h2v2h-2zM113.0 149.1h2v2h-2zM131.4 149.4h2v2h-2zM109.0 149.2h2v2h-2zM123.6 139.3h2v2h-2zM127.2 149.6h2v2h-2zM121.1 140.5h2v2h-2zM127.5 149.6h2v2h-2zM124.2 145.9h2v2h-2zM133.1 137.0h2v2h-2zM116.5 148.8h2v2h-2zM106.4 144.4h2v2h-2zM114.7 115.7h2v2h-2zM115.9 147.7h2v2h-2zM132.7 147.8h2v2h-2zM122.0 143.8h2v2h-2zM107.8 145.8h2v2h-2zM132.9 147.2h2v2h-2zM132.6 137.6h2v2h-2zM112.5 147.7h2v2h-2zM122.8 149.6h2v2h-2zM120.5 146.4h2v2h-2zM124.2 144.9h2v2h-2zM130.9 146.5h2v2h-2zM134.5 148.3h2v2h-2zM107.8 143.8h2v2h-2zM122.6 147.1h2v2h-2zM123.6 146.0h2v2h-2zM114.7 147.0h2v2h-2zM115.2 137.8h2v2h-2zM130.9 140.5h2v2h-2zM120.2 143.1h2v2h-2zM119.9 129.1h2v2h-2zM108.0 133.9h2v2h-2zM125.9 145.7h2v2h-2zM132.8 149.6h2v2h-2zM124.6 149.4h2v2h-2zM134.6 148.5h2v2h-2zM130.9 143.7h2v2h-2zM127.0 144.7h2v2h-2zM115.3 141.4h2v2h-2zM132.0 148.2h2v2h-2zM134.5 148.8h2v2h-2zM109.4 148.2h2v2h-2zM130.4 149.2h2v2h-2zM119.0 126.9h2v2h-2zM114.2 141.8h2v2h-2zM127.3 131.9h2v2h-2zM108.0 148.7h2v2h-2zM107.5 140.9h2v2h-2zM115.3 136.2h2v2h-2zM124.1 148.0h2v2h-2zM123.5 147.1h2v2h-2zM176.2 147.6h2v2h-2zM186.0 148.2h2v2h-2zM173.8 145.5h2v2h-2zM195.1 141.1h2v2h-2zM192.7 143.2h2v2h-2zM193.9 150.0h2v2h-2zM176.0 152.0h2v2h-2zM193.9 146.6h2v2h-2zM175.7 152.9h2v2h-2zM181.6 153.3h2v2h-2zM175.1 152.4h2v2h-2zM185.5 143.0h2v2h-2zM180.7 132.1h2v2h-2zM170.3 144.8h2v2h-2zM176.2 130.8h2v2h-2zM183.6 148.6h2v2h-2zM183.0 130.8h2v2h-2zM186.5 116.7h2v2h-2zM192.1 151.7h2v2h-2zM196.5 151.8h2v2h-2zM176.0 148.9h2v2h-2zM178.5 128.6h2v2h-2zM179.1 149.5h2v2h-2zM170.6 145.1h2v2h-2zM174.3 150.0h2v2h-2zM170.0 140.1h2v2h-2zM176.8 146.4h2v2h-2zM184.9 148.9h2v2h-2zM173.6 144.0h2v2h-2zM173.2 151.4h2v2h-2zM174.0 128.8h2v2h-2zM183.8 152.4h2v2h-2zM193.5 146.9h2v2h-2zM176.2 153.1h2v2h-2zM185.5 152.1h2v2h-2zM180.8 148.9h2v2h-2zM187.5 136.7h2v2h-2zM195.4 138.5h2v2h-2zM195.0 151.1h2v2h-2zM171.4 149.5h2v2h-2zM172.8 134.7h2v2h-2zM177.7 153.4h2v2h-2zM195.6 150.9h2v2h-2zM181.1 137.9h2v2h-2zM192.5 147.8h2v2h-2zM187.3 140.9h2v2h-2zM173.1 148.0h2v2h-2zM187.4 151.4h2v2h-2zM191.2 146.8h2v2h-2zM195.5 136.0h2v2h-2zM172.0 151.9h2v2h-2zM185.1 136.1h2v2h-2zM188.3 152.0h2v2h-2zM176.3 151.3h2v2h-2zM183.9 150.0h2v2h-2zM171.9 144.9h2v2h-2zM186.5 143.2h2v2h-2zM187.8 148.7h2v2h-2zM170.3 141.2h2v2h-2zM188.0 148.6h2v2h-2zM187.2 144.1h2v2h-2zM195.4 152.0h2v2h-2zM176.2 141.7h2v2h-2zM195.4 149.2h2v2h-2zM180.8 151.8h2v2h-2zM193.9 128.6h2v2h-2zM189.5 151.5h2v2h-2zM187.6 150.1h2v2h-2zM173.4 142.4h2v2h-2zM175.7 151.6h2v2h-2zM170.9 151.2h2v2h-2zM180.8 152.4h2v2h-2zM172.1 149.4h2v2h-2zM195.0 146.9h2v2h-2zM179.4 147.0h2v2h-2zM181.6 144.2h2v2h-2zM182.8 152.1h2v2h-2zM187.9 153.4h2v2h-2zM179.8 152.2h2v2h-2zM190.3 128.4h2v2h-2zM187.0 139.7h2v2h-2zM188.7 145.8h2v2h-2zM175.2 127.6h2v2h-2zM178.0 142.4h2v2h-2zM191.8 151.3h2v2h-2zM192.5 146.5h2v2h-2zM185.6 137.6h2v2h-2zM170.4 151.9h2v2h-2zM189.2 147.7h2v2h-2zM171.9 151.1h2v2h-2zM174.6 153.5h2v2h-2zM170.1 144.4h2v2h-2zM177.0 151.5h2v2h-2zM196.2 144.0h2v2h-2zM173.0 153.4h2v2h-2zM195.7 132.6h2v2h-2zM178.9 152.3h2v2h-2zM178.5 147.9h2v2h-2zM182.7 149.4h2v2h-2zM171.5 151.3h2v2h-2zM174.3 152.9h2v2h-2zM186.5 152.8h2v2h-2zM177.0 144.4h2v2h-2zM189.3 141.5h2v2h-2zM183.0 150.3h2v2h-2zM194.6 151.9h2v2h-2zM171.4 147.2h2v2h-2zM188.4 152.3h2v2h-2zM189.0 149.8h2v2h-2zM191.1 151.5h2v2h-2zM172.5 141.1h2v2h-2zM175.1 146.8h2v2h-2zM191.3 144.1h2v2h-2zM176.1 141.5h2v2h-2zM187.6 152.8h2v2h-2zM173.7 147.2h2v2h-2zM185.4 151.9h2v2h-2zM186.8 152.7h2v2h-2zM176.9 151.4h2v2h-2zM184.1 149.3h2v2h-2zM170.8 143.7h2v2h-2zM175.9 143.7h2v2h-2zM187.0 150.9h2v2h-2zM186.3 144.5h2v2h-2zM175.4 135.8h2v2h-2zM187.6 150.7h2v2h-2zM174.2 151.2h2v2h-2zM190.4 151.6h2v2h-2zM189.0 140.1h2v2h-2zM191.1 129.1h2v2h-2zM178.4 150.7h2v2h-2zM171.5 143.8h2v2h-2zM172.4 146.3h2v2h-2zM183.6 153.2h2v2h-2zM194.7 152.3h2v2h-2zM182.2 137.5h2v2h-2zM173.2 151.9h2v2h-2zM183.8 148.1h2v2h-2zM189.0 150.1h2v2h-2zM190.5 147.8h2v2h-2zM171.9 152.7h2v2h-2zM182.8 149.8h2v2h-2zM187.7 151.3h2v2h-2zM178.4 151.6h2v2h-2zM188.9 148.6h2v2h-2zM179.8 142.3h2v2h-2zM194.6 149.0h2v2h-2zM186.4 132.7h2v2h-2zM182.1 152.7h2v2h-2zM177.4 145.8h2v2h-2zM196.0 153.3h2v2h-2zM173.4 135.1h2v2h-2zM186.4 148.7h2v2h-2zM171.8 150.8h2v2h-2zM190.4 142.9h2v2h-2zM172.3 149.1h2v2h-2zM172.5 149.7h2v2h-2zM171.4 128.2h2v2h-2zM190.4 150.9h2v2h-2zM172.8 152.4h2v2h-2zM174.3 153.0h2v2h-2zM192.1 147.7h2v2h-2zM174.6 152.1h2v2h-2zM181.3 142.4h2v2h-2zM173.3 150.4h2v2h-2zM195.8 151.4h2v2h-2zM176.9 152.6h2v2h-2zM193.6 143.2h2v2h-2zM182.5 135.6h2v2h-2zM186.0 129.5h2v2h-2zM182.3 150.9h2v2h-2zM189.5 143.9h2v2h-2zM175.1 152.5h2v2h-2zM172.8 129.2h2v2h-2zM179.0 140.7h2v2h-2zM176.8 151.4h2v2h-2zM196.3 148.7h2v2h-2zM192.6 152.3h2v2h-2zM174.6 150.6h2v2h-2zM179.1 143.1h2v2h-2zM181.1 152.0h2v2h-2zM192.9 140.3h2v2h-2zM170.3 147.0h2v2h-2zM186.1 142.5h2v2h-2zM195.2 135.9h2v2h-2zM192.5 150.5h2v2h-2zM177.0 140.4h2v2h-2zM179.9 150.1h2v2h-2zM180.0 150.2h2v2h-2zM176.0 152.6h2v2h-2zM180.9 135.1h2v2h-2zM193.5 145.8h2v2h-2zM176.5 142.7h2v2h-2zM191.3 134.2h2v2h-2zM189.3 117.7h2v2h-2zM191.5 142.8h2v2h-2zM187.4 151.3h2v2h-2zM192.3 149.9h2v2h-2zM184.3 152.4h2v2h-2zM191.7 150.4h2v2h-2zM192.4 150.3h2v2h-2zM193.3 139.1h2v2h-2zM194.9 152.4h2v2h-2zM187.9 143.1h2v2h-2zM171.3 145.4h2v2h-2zM184.5 137.9h2v2h-2zM179.0 148.9h2v2h-2zM190.7 141.8h2v2h-2zM175.7 137.9h2v2h-2zM176.6 150.4h2v2h-2zM178.7 152.7h2v2h-2zM191.1 153.3h2v2h-2zM171.9 151.6h2v2h-2zM189.6 153.0h2v2h-2zM182.2 151.8h2v2h-2zM191.3 149.6h2v2h-2zM178.2 129.9h2v2h-2zM193.7 145.9h2v2h-2zM193.8 148.7h2v2h-2zM178.3 143.4h2v2h-2zM185.2 137.7h2v2h-2zM185.6 152.7h2v2h-2zM183.7 140.0h2v2h-2zM181.0 148.5h2v2h-2zM187.6 137.3h2v2h-2zM179.6 151.8h2v2h-2zM195.4 150.1h2v2h-2zM173.3 144.4h2v2h-2zM170.9 134.7h2v2h-2zM181.5 146.7h2v2h-2zM181.4 143.9h2v2h-2zM183.9 152.8h2v2h-2zM190.9 140.4h2v2h-2zM175.9 150.2h2v2h-2zM191.2 143.1h2v2h-2zM193.4 151.7h2v2h-2zM181.5 116.1h2v2h-2zM188.8 149.9h2v2h-2zM175.3 133.2h2v2h-2zM178.7 150.8h2v2h-2zM175.0 143.4h2v2h-2zM183.3 147.5h2v2h-2zM173.8 145.1h2v2h-2zM196.5 129.5h2v2h-2zM191.1 147.2h2v2h-2zM194.1 152.0h2v2h-2zM190.1 147.4h2v2h-2zM179.6 138.0h2v2h-2zM175.5 133.8h2v2h-2zM183.3 153.4h2v2h-2zM193.9 136.0h2v2h-2zM183.5 129.8h2v2h-2zM184.8 132.9h2v2h-2zM186.7 152.4h2v2h-2zM181.2 141.1h2v2h-2zM176.9 146.5h2v2h-2zM181.1 151.1h2v2h-2zM182.4 148.0h2v2h-2zM170.2 152.8h2v2h-2zM189.0 150.4h2v2h-2zM176.3 143.0h2v2h-2zM183.7 151.3h2v2h-2zM186.0 152.1h2v2h-2zM175.4 135.6h2v2h-2zM189.1 146.8h2v2h-2zM188.9 142.9h2v2h-2zM177.2 144.0h2v2h-2zM194.5 139.6h2v2h-2zM195.0 153.1h2v2h-2zM172.3 149.1h2v2h-2zM191.1 153.0h2v2h-2zM173.8 144.9h2v2h-2zM186.9 148.8h2v2h-2zM190.3 150.4h2v2h-2zM175.3 151.4h2v2h-2zM180.9 152.2h2v2h-2zM178.0 146.2h2v2h-2zM175.8 152.2h2v2h-2zM175.1 152.9h2v2h-2zM183.4 150.6h2v2h-2zM182.7 152.0h2v2h-2zM195.8 149.1h2v2h-2zM195.0 148.4h2v2h-2zM175.2 148.7h2v2h-2zM173.8 146.7h2v2h-2zM171.9 152.1h2v2h-2zM195.6 144.3h2v2h-2zM179.4 149.6h2v2h-2zM179.3 149.3h2v2h-2zM180.4 144.6h2v2h-2zM192.9 152.3h2v2h-2zM170.2 147.0h2v2h-2zM189.3 139.0h2v2h-2zM186.7 150.2h2v2h-2zM180.6 134.2h2v2h-2zM177.9 149.2h2v2h-2zM187.6 147.4h2v2h-2zM195.2 143.4h2v2h-2zM179.7 152.3h2v2h-2zM191.0 138.9h2v2h-2zM187.9 146.7h2v2h-2zM195.0 150.4h2v2h-2zM180.7 147.4h2v2h-2zM173.1 152.0h2v2h-2zM191.2 136.1h2v2h-2zM178.6 153.3h2v2h-2zM183.1 148.5h2v2h-2zM193.7 150.1h2v2h-2zM184.1 150.2h2v2h-2zM186.9 133.2h2v2h-2zM178.8 148.6h2v2h-2zM186.1 149.8h2v2h-2zM176.9 141.7h2v2h-2zM180.3 150.0h2v2h-2zM194.2 150.1h2v2h-2zM177.3 147.6h2v2h-2zM191.8 150.4h2v2h-2zM188.3 152.2h2v2h-2zM175.1 153.4h2v2h-2zM191.3 153.1h2v2h-2zM176.0 152.3h2v2h-2zM177.0 153.1h2v2h-2zM189.1 143.4h2v2h-2zM195.1 135.1h2v2h-2zM194.4 147.4h2v2h-2zM194.5 152.8h2v2h-2zM175.1 149.2h2v2h-2zM192.8 143.0h2v2h-2zM172.5 149.8h2v2h-2zM190.0 137.7h2v2h-2zM195.9 146.6h2v2h-2zM171.5 153.2h2v2h-2zM170.6 152.5h2v2h-2zM186.7 144.1h2v2h-2zM174.3 152.6h2v2h-2zM186.1 152.0h2v2h-2zM195.7 145.0h2v2h-2zM195.9 150.1h2v2h-2zM180.4 149.2h2v2h-2zM176.2 151.3h2v2h-2zM196.4 125.4h2v2h-2zM174.6 144.2h2v2h-2zM174.0 152.0h2v2h-2zM189.5 150.2h2v2h-2zM184.1 153.1h2v2h-2zM170.9 144.8h2v2h-2zM191.0 149.1h2v2h-2zM182.0 147.0h2v2h-2zM185.9 137.2h2v2h-2zM180.5 150.4h2v2h-2zM192.8 131.5h2v2h-2zM184.9 134.7h2v2h-2zM174.6 152.4h2v2h-2zM188.3 149.8h2v2h-2zM191.3 153.5h2v2h-2zM183.6 141.7h2v2h-2zM191.1 153.5h2v2h-2zM187.7 149.4h2v2h-2zM189.3 147.1h2v2h-2zM195.4 149.5h2v2h-2zM194.6 129.7h2v2h-2zM178.4 146.2h2v2h-2zM177.1 149.9h2v2h-2zM191.0 135.6h2v2h-2zM191.8 141.7h2v2h-2zM188.2 117.6h2v2h-2zM190.1 150.6h2v2h-2zM186.2 151.2h2v2h-2zM192.7 152.2h2v2h-2zM177.3 148.4h2v2h-2zM172.2 133.9h2v2h-2zM190.1 133.1h2v2h-2zM190.2 152.3h2v2h-2zM194.0 147.0h2v2h-2zM181.3 146.8h2v2h-2zM172.3 132.8h2v2h-2zM172.7 142.0h2v2h-2zM173.0 151.1h2v2h-2zM181.7 137.8h2v2h-2zM176.8 143.6h2v2h-2zM187.2 143.5h2v2h-2zM183.1 152.8h2v2h-2zM175.7 143.7h2v2h-2zM177.4 145.4h2v2h-2zM194.4 150.0h2v2h-2zM196.4 131.6h2v2h-2zM185.2 149.3h2v2h-2zM190.1 140.9h2v2h-2zM192.9 148.9h2v2h-2zM195.2 149.6h2v2h-2zM173.1 148.6h2v2h-2zM173.8 142.9h2v2h-2zM171.4 144.8h2v2h-2zM184.3 119.5h2v2h-2zM173.5 143.2h2v2h-2zM180.0 145.8h2v2h-2zM191.6 151.3h2v2h-2zM182.7 153.3h2v2h-2zM192.6 152.8h2v2h-2zM170.9 136.4h2v2h-2zM182.4 148.8h2v2h-2zM189.3 143.8h2v2h-2zM194.7 150.3h2v2h-2zM173.6 152.0h2v2h-2zM173.2 140.6h2v2h-2zM183.3 152.0h2v2h-2zM174.3 150.4h2v2h-2zM182.6 133.2h2v2h-2zM176.6 141.7h2v2h-2zM175.9 134.9h2v2h-2zM186.2 135.4h2v2h-2zM239.0 137.6h2v2h-2zM229.8 148.0h2v2h-2zM239.2 144.6h2v2h-2zM236.1 140.3h2v2h-2zM248.6 145.9h2v2h-2zM250.8 147.6h2v2h-2zM251.0 132.9h2v2h-2zM233.2 128.0h2v2h-2zM241.8 137.1h2v2h-2zM251.2 148.3h2v2h-2zM246.6 142.0h2v2h-2zM228.9 143.8h2v2h-2zM231.3 134.8h2v2h-2zM241.9 147.7h2v2h-2zM238.2 148.4h2v2h-2zM229.3 140.4h2v2h-2zM229.5 141.7h2v2h-2zM242.7 145.1h2v2h-2zM228.0 141.1h2v2h-2zM250.3 148.4h2v2h-2zM237.3 146.2h2v2h-2zM243.9 146.4h2v2h-2zM242.8 139.7h2v2h-2zM240.8 146.1h2v2h-2zM231.6 144.5h2v2h-2zM250.4 127.1h2v2h-2zM251.1 138.5h2v2h-2zM247.3 145.2h2v2h-2zM245.0 147.9h2v2h-2zM249.8 140.4h2v2h-2zM248.3 136.3h2v2h-2zM246.1 147.6h2v2h-2zM234.6 145.1h2v2h-2zM246.4 146.5h2v2h-2zM247.5 135.8h2v2h-2zM231.1 141.5h2v2h-2zM240.8 148.7h2v2h-2zM235.2 148.2h2v2h-2zM230.8 149.2h2v2h-2zM232.4 140.3h2v2h-2zM235.0 135.6h2v2h-2zM234.3 135.5h2v2h-2zM236.6 147.6h2v2h-2zM237.6 149.9h2v2h-2zM227.3 146.4h2v2h-2zM236.1 134.9h2v2h-2zM250.3 150.0h2v2h-2zM233.1 148.0h2v2h-2zM229.4 149.8h2v2h-2zM241.1 140.5h2v2h-2zM233.0 144.6h2v2h-2zM250.5 147.4h2v2h-2zM251.0 146.4h2v2h-2zM230.0 133.3h2v2h-2zM227.5 135.6h2v2h-2zM246.6 140.5h2v2h-2zM240.3 140.9h2v2h-2zM230.7 137.2h2v2h-2zM233.4 144.1h2v2h-2zM231.6 146.1h2v2h-2zM240.9 140.6h2v2h-2zM242.2 138.4h2v2h-2zM249.4 143.0h2v2h-2zM240.7 137.2h2v2h-2zM249.5 147.0h2v2h-2zM229.5 146.5h2v2h-2zM244.1 146.9h2v2h-2zM242.7 129.5h2v2h-2zM249.7 141.7h2v2h-2zM237.8 138.5h2v2h-2zM245.4 145.3h2v2h-2zM229.7 147.1h2v2h-2zM246.6 142.6h2v2h-2zM243.6 147.8h2v2h-2zM230.1 132.9h2v2h-2zM239.0 148.9h2v2h-2zM250.0 146.9h2v2h-2zM246.2 145.5h2v2h-2zM231.2 142.4h2v2h-2zM231.2 122.7h2v2h-2zM238.0 149.4h2v2h-2zM238.7 149.9h2v2h-2zM250.1 145.9h2v2h-2zM247.6 145.9h2v2h-2zM241.2 138.4h2v2h-2zM234.4 147.9h2v2h-2zM236.6 144.8h2v2h-2zM239.3 142.1h2v2h-2zM241.7 147.0h2v2h-2zM235.1 148.3h2v2h-2zM229.3 149.9h2v2h-2zM237.3 149.6h2v2h-2zM243.9 136.1h2v2h-2zM247.3 124.1h2v2h-2zM241.1 143.3h2v2h-2zM236.3 149.9h2v2h-2zM242.1 147.7h2v2h-2zM240.2 149.5h2v2h-2zM238.9 146.4h2v2h-2zM229.5 146.0h2v2h-2zM246.4 139.9h2v2h-2zM229.8 143.0h2v2h-2zM248.1 143.0h2v2h-2zM245.4 117.0h2v2h-2zM248.3 149.7h2v2h-2zM233.7 141.6h2v2h-2zM247.0 130.6h2v2h-2zM233.0 132.7h2v2h-2zM236.2 143.4h2v2h-2zM245.5 147.3h2v2h-2zM235.0 142.7h2v2h-2zM249.5 144.0h2v2h-2zM249.2 143.6h2v2h-2zM251.1 143.6h2v2h-2zM238.2 149.8h2v2h-2zM244.6 143.9h2v2h-2zM242.1 123.5h2v2h-2zM242.4 145.0h2v2h-2zM244.1 144.2h2v2h-2zM227.3 127.5h2v2h-2zM248.3 147.1h2v2h-2zM246.2 149.5h2v2h-2zM242.7 149.8h2v2h-2zM232.8 137.7h2v2h-2zM232.5 146.3h2v2h-2zM239.8 140.7h2v2h-2zM234.9 142.9h2v2h-2zM250.1 143.2h2v2h-2zM250.1 138.4h2v2h-2zM239.5 147.8h2v2h-2zM235.4 146.3h2v2h-2zM231.2 137.5h2v2h-2zM245.8 143.7h2v2h-2zM227.5 129.0h2v2h-2zM239.0 147.6h2v2h-2zM231.0 128.9h2v2h-2zM236.6 135.9h2v2h-2zM249.5 143.9h2v2h-2zM235.0 149.5h2v2h-2zM230.2 148.7h2v2h-2zM244.0 147.2h2v2h-2zM230.0 143.4h2v2h-2zM239.3 137.6h2v2h-2zM246.9 148.8h2v2h-2zM232.3 136.8h2v2h-2zM246.7 128.5h2v2h-2zM227.0 148.0h2v2h-2zM247.0 134.5h2v2h-2zM245.6 149.2h2v2h-2zM242.4 138.6h2v2h-2zM250.9 136.3h2v2h-2zM247.2 147.0h2v2h-2zM234.6 130.6h2v2h-2zM243.6 141.2h2v2h-2zM240.7 135.5h2v2h-2zM233.1 147.5h2v2h-2zM230.3 144.0h2v2h-2zM248.6 135.0h2v2h-2zM243.9 147.9h2v2h-2zM230.0 141.4h2v2h-2zM245.6 138.5h2v2h-2zM229.4 147.2h2v2h-2zM245.7 147.5h2v2h-2zM246.8 145.2h2v2h-2zM229.6 148.7h2v2h-2zM248.3 146.7h2v2h-2zM228.8 148.7h2v2h-2zM229.2 139.3h2v2h-2zM229.0 141.6h2v2h-2zM243.1 147.8h2v2h-2zM236.9 134.2h2v2h-2zM227.8 145.4h2v2h-2zM232.9 146.8h2v2h-2zM244.3 138.1h2v2h-2zM239.9 138.3h2v2h-2zM230.1 140.8h2v2h-2zM234.1 146.3h2v2h-2zM244.9 147.5h2v2h-2zM234.9 148.2h2v2h-2zM248.0 147.5h2v2h-2zM238.7 142.2h2v2h-2zM249.3 146.4h2v2h-2zM237.9 128.5h2v2h-2zM247.9 143.6h2v2h-2zM233.3 147.7h2v2h-2zM239.2 149.2h2v2h-2zM230.8 138.8h2v2h-2zM251.0 145.7h2v2h-2zM236.3 145.0h2v2h-2zM248.6 136.0h2v2h-2zM230.0 146.4h2v2h-2zM245.0 142.3h2v2h-2zM243.0 130.3h2v2h-2zM239.5 147.2h2v2h-2zM237.8 147.4h2v2h-2zM249.1 145.2h2v2h-2zM249.5 131.9h2v2h-2zM250.4 145.0h2v2h-2zM249.3 148.9h2v2h-2zM248.2 142.2h2v2h-2zM251.0 145.9h2v2h-2zM247.6 149.8h2v2h-2zM236.1 136.9h2v2h-2zM232.2 136.5h2v2h-2zM238.4 139.3h2v2h-2zM231.8 146.0h2v2h-2zM244.7 137.7h2v2h-2zM250.7 149.3h2v2h-2zM236.1 148.1h2v2h-2zM241.0 145.9h2v2h-2zM249.9 133.1h2v2h-2zM235.9 142.3h2v2h-2zM228.7 149.1h2v2h-2zM241.1 144.4h2v2h-2zM250.8 145.5h2v2h-2zM235.5 145.9h2v2h-2zM231.2 145.9h2v2h-2zM241.3 128.6h2v2h-2zM237.3 144.0h2v2h-2zM234.6 147.8h2v2h-2zM237.8 144.8h2v2h-2zM240.7 120.3h2v2h-2zM228.3 148.2h2v2h-2zM235.4 148.7h2v2h-2zM248.6 138.3h2v2h-2zM245.9 147.9h2v2h-2zM240.0 145.5h2v2h-2zM228.0 144.2h2v2h-2zM243.2 149.5h2v2h-2zM236.2 141.1h2v2h-2zM246.9 130.7h2v2h-2zM228.6 147.3h2v2h-2zM242.9 143.8h2v2h-2zM228.1 148.1h2v2h-2zM227.8 144.9h2v2h-2zM242.2 139.8h2v2h-2zM237.8 147.5h2v2h-2zM231.5 148.0h2v2h-2zM246.8 148.5h2v2h-2zM244.4 145.4h2v2h-2zM246.6 146.7h2v2h-2zM242.9 143.1h2v2h-2zM240.6 146.2h2v2h-2zM250.6 148.4h2v2h-2zM239.9 141.5h2v2h-2zM229.4 142.2h2v2h-2zM232.6 146.9h2v2h-2zM227.3 135.8h2v2h-2zM248.1 145.5h2v2h-2zM244.4 138.3h2v2h-2zM232.6 147.3h2v2h-2zM234.2 140.7h2v2h-2zM235.5 140.2h2v2h-2zM240.9 139.1h2v2h-2zM250.9 137.1h2v2h-2zM250.9 146.4h2v2h-2zM248.3 149.9h2v2h-2zM240.2 149.8h2v2h-2zM245.7 146.2h2v2h-2zM232.0 147.1h2v2h-2zM240.3 138.3h2v2h-2zM238.9 139.2h2v2h-2zM245.7 149.7h2v2h-2zM238.4 148.1h2v2h-2zM233.3 150.0h2v2h-2zM245.5 141.6h2v2h-2zM237.7 142.3h2v2h-2zM243.2 139.9h2v2h-2zM240.0 148.2h2v2h-2zM244.7 143.0h2v2h-2zM234.5 148.3h2v2h-2zM229.3 146.8h2v2h-2zM244.7 146.7h2v2h-2zM231.2 143.4h2v2h-2zM229.8 139.9h2v2h-2zM230.6 139.4h2v2h-2zM233.1 149.2h2v2h-2zM233.5 144.5h2v2h-2zM249.8 133.5h2v2h-2zM245.2 147.5h2v2h-2zM240.6 140.9h2v2h-2zM250.0 147.8h2v2h-2zM227.3 126.0h2v2h-2zM234.8 146.9h2v2h-2zM237.4 148.3h2v2h-2zM227.6 132.5h2v2h-2zM234.5 136.2h2v2h-2zM248.8 149.9h2v2h-2zM232.1 147.6h2v2h-2zM235.9 149.1h2v2h-2zM231.4 149.0h2v2h-2zM241.0 147.8h2v2h-2zM234.4 145.5h2v2h-2zM245.8 144.3h2v2h-2zM235.3 140.1h2v2h-2zM246.2 130.8h2v2h-2zM238.5 143.7h2v2h-2zM230.3 147.0h2v2h-2zM241.8 133.4h2v2h-2zM249.4 149.2h2v2h-2zM227.8 133.3h2v2h-2zM232.8 140.8h2v2h-2zM247.2 144.1h2v2h-2zM239.1 146.7h2v2h-2zM231.7 141.6h2v2h-2zM237.3 142.5h2v2h-2zM231.6 119.0h2v2h-2zM228.0 140.5h2v2h-2zM229.9 147.6h2v2h-2zM239.8 148.8h2v2h-2zM246.3 148.5h2v2h-2zM242.1 149.2h2v2h-2zM230.1 134.9h2v2h-2zM245.5 148.1h2v2h-2zM249.6 145.1h2v2h-2zM236.7 146.9h2v2h-2zM235.3 125.8h2v2h-2zM248.6 124.0h2v2h-2zM240.2 148.3h2v2h-2zM229.8 128.3h2v2h-2zM245.8 135.5h2v2h-2zM241.6 139.4h2v2h-2zM250.2 149.2h2v2h-2zM246.0 149.2h2v2h-2zM234.7 140.2h2v2h-2zM237.0 141.2h2v2h-2zM228.1 139.4h2v2h-2zM236.3 129.2h2v2h-2zM238.4 137.6h2v2h-2zM234.3 137.2h2v2h-2zM227.6 144.0h2v2h-2zM228.9 144.9h2v2h-2zM243.4 135.0h2v2h-2zM250.6 145.8h2v2h-2zM250.2 127.5h2v2h-2zM244.1 149.4h2v2h-2zM241.7 140.0h2v2h-2zM249.4 149.9h2v2h-2zM241.4 145.6h2v2h-2zM233.7 137.1h2v2h-2zM249.4 149.8h2v2h-2zM228.0 147.6h2v2h-2zM251.1 148.9h2v2h-2zM232.1 139.7h2v2h-2zM248.8 148.8h2v2h-2zM241.1 141.6h2v2h-2zM237.0 148.9h2v2h-2zM227.1 127.6h2v2h-2zM228.4 145.9h2v2h-2zM250.1 149.2h2v2h-2zM244.7 135.9h2v2h-2zM243.9 149.7h2v2h-2zM238.9 144.8h2v2h-2zM239.4 148.8h2v2h-2zM230.2 137.6h2v2h-2zM237.2 134.0h2v2h-2zM232.8 147.6h2v2h-2zM242.7 145.3h2v2h-2zM248.6 143.5h2v2h-2zM239.4 144.5h2v2h-2zM232.2 115.5h2v2h-2zM235.0 149.9h2v2h-2zM230.0 147.1h2v2h-2zM227.8 145.9h2v2h-2zM238.7 130.6h2v2h-2zM243.9 133.8h2v2h-2zM245.4 140.0h2v2h-2zM244.7 147.3h2v2h-2zM240.5 148.2h2v2h-2zM245.8 143.1h2v2h-2zM235.3 148.6h2v2h-2zM246.5 136.7h2v2h-2zM229.9 120.8h2v2h-2zM229.6 148.2h2v2h-2zM245.1 140.2h2v2h-2zM245.9 142.0h2v2h-2zM240.6 144.5h2v2h-2zM291.2 140.3h2v2h-2zM280.5 142.7h2v2h-2zM293.2 140.2h2v2h-2zM280.9 142.6h2v2h-2zM284.3 143.6h2v2h-2zM279.3 147.6h2v2h-2zM289.2 134.7h2v2h-2zM279.8 129.3h2v2h-2zM286.7 147.7h2v2h-2zM282.4 149.5h2v2h-2zM286.1 144.1h2v2h-2zM288.1 131.6h2v2h-2zM288.2 142.2h2v2h-2zM283.8 138.2h2v2h-2zM296.4 150.0h2v2h-2zM278.8 138.0h2v2h-2zM280.8 149.1h2v2h-2zM278.9 141.8h2v2h-2zM286.4 149.9h2v2h-2zM281.6 150.0h2v2h-2zM280.5 146.3h2v2h-2zM281.6 150.0h2v2h-2zM282.9 147.9h2v2h-2zM283.6 145.9h2v2h-2zM276.6 147.0h2v2h-2zM291.4 136.1h2v2h-2zM276.3 144.8h2v2h-2zM294.7 148.0h2v2h-2zM280.5 145.3h2v2h-2zM294.5 136.9h2v2h-2zM286.5 149.0h2v2h-2zM278.7 143.7h2v2h-2zM288.9 147.1h2v2h-2zM289.1 141.4h2v2h-2zM284.0 142.6h2v2h-2zM276.6 149.5h2v2h-2zM294.0 136.1h2v2h-2zM277.8 132.0h2v2h-2zM279.8 138.8h2v2h-2zM280.4 146.8h2v2h-2zM293.0 134.9h2v2h-2zM284.1 136.3h2v2h-2zM281.6 128.9h2v2h-2zM290.1 143.5h2v2h-2zM284.1 148.0h2v2h-2zM292.6 149.2h2v2h-2zM279.0 148.5h2v2h-2zM289.4 147.5h2v2h-2zM287.0 142.2h2v2h-2zM291.7 135.3h2v2h-2zM287.2 148.2h2v2h-2zM281.2 148.6h2v2h-2zM277.8 148.8h2v2h-2zM294.4 146.7h2v2h-2zM278.0 141.8h2v2h-2zM288.4 148.1h2v2h-2zM276.8 144.2h2v2h-2zM287.9 149.3h2v2h-2zM277.9 143.0h2v2h-2zM281.2 138.7h2v2h-2zM287.1 143.2h2v2h-2zM295.6 146.8h2v2h-2zM284.9 146.2h2v2h-2zM293.5 144.1h2v2h-2zM292.0 116.3h2v2h-2zM290.9 144.1h2v2h-2zM295.9 142.2h2v2h-2zM291.8 123.0h2v2h-2zM287.9 148.1h2v2h-2zM281.0 145.6h2v2h-2zM280.8 138.4h2v2h-2zM286.3 140.5h2v2h-2zM290.7 145.7h2v2h-2zM296.5 140.1h2v2h-2zM281.7 137.7h2v2h-2zM286.4 141.5h2v2h-2zM285.4 128.4h2v2h-2zM276.8 146.6h2v2h-2zM287.2 145.1h2v2h-2zM278.4 147.2h2v2h-2zM277.7 144.9h2v2h-2zM285.4 148.6h2v2h-2zM286.5 146.7h2v2h-2zM284.2 144.2h2v2h-2zM276.6 148.9h2v2h-2zM296.1 143.7h2v2h-2zM283.5 147.5h2v2h-2zM291.5 147.1h2v2h-2zM292.6 144.8h2v2h-2zM279.0 150.0h2v2h-2zM283.8 148.2h2v2h-2zM284.2 146.1h2v2h-2zM285.3 124.2h2v2h-2zM296.0 143.4h2v2h-2zM288.4 142.1h2v2h-2zM283.1 136.5h2v2h-2zM295.9 149.7h2v2h-2zM288.2 144.2h2v2h-2zM291.5 149.5h2v2h-2zM289.4 146.4h2v2h-2zM295.1 147.5h2v2h-2zM281.9 146.5h2v2h-2zM280.8 132.8h2v2h-2zM286.2 147.6h2v2h-2zM278.6 119.7h2v2h-2zM292.6 148.2h2v2h-2zM284.7 149.4h2v2h-2zM290.9 138.3h2v2h-2zM278.7 137.9h2v2h-2zM283.6 133.1h2v2h-2zM285.9 137.1h2v2h-2zM286.0 133.0h2v2h-2zM279.3 147.7h2v2h-2zM277.3 144.8h2v2h-2zM294.2 148.6h2v2h-2zM293.9 143.5h2v2h-2zM286.1 148.8h2v2h-2zM278.5 145.2h2v2h-2zM295.1 147.7h2v2h-2zM286.7 140.2h2v2h-2zM293.9 142.8h2v2h-2zM288.4 126.4h2v2h-2zM294.1 149.6h2v2h-2zM281.2 148.6h2v2h-2zM286.7 148.9h2v2h-2zM285.7 143.3h2v2h-2zM279.1 145.1h2v2h-2zM287.3 140.3h2v2h-2zM293.3 147.2h2v2h-2zM295.2 128.6h2v2h-2zM277.7 117.9h2v2h-2zM285.5 146.2h2v2h-2zM291.5 147.7h2v2h-2zM279.1 132.0h2v2h-2zM296.1 144.6h2v2h-2zM285.5 133.2h2v2h-2zM285.6 149.2h2v2h-2zM292.4 144.4h2v2h-2zM282.0 148.4h2v2h-2zM276.5 118.0h2v2h-2zM278.2 142.8h2v2h-2zM284.9 139.4h2v2h-2zM280.8 130.1h2v2h-2zM280.9 133.9h2v2h-2zM278.0 149.6h2v2h-2zM284.2 149.4h2v2h-2zM283.5 122.6h2v2h-2zM277.0 140.3h2v2h-2zM287.3 144.5h2v2h-2zM288.1 149.2h2v2h-2zM283.0 145.5h2v2h-2zM290.4 136.4h2v2h-2zM278.4 149.0h2v2h-2zM281.7 149.6h2v2h-2zM296.1 142.3h2v2h-2zM294.0 123.4h2v2h-2zM292.5 149.0h2v2h-2zM285.9 139.0h2v2h-2zM278.7 143.0h2v2h-2zM278.9 148.2h2v2h-2zM289.0 142.8h2v2h-2zM276.5 135.1h2v2h-2zM296.2 149.9h2v2h-2zM281.7 147.7h2v2h-2zM278.5 134.6h2v2h-2zM294.6 137.9h2v2h-2zM288.7 143.7h2v2h-2zM288.7 150.0h2v2h-2zM292.1 142.7h2v2h-2zM278.6 144.4h2v2h-2zM289.6 148.1h2v2h-2zM278.4 149.4h2v2h-2zM292.6 147.8h2v2h-2zM283.6 144.0h2v2h-2zM288.2 124.6h2v2h-2zM287.8 147.9h2v2h-2zM283.8 135.2h2v2h-2zM288.1 145.6h2v2h-2zM289.3 116.6h2v2h-2zM288.2 148.5h2v2h-2zM286.0 147.0h2v2h-2zM276.7 140.4h2v2h-2zM282.7 144.6h2v2h-2zM293.1 143.0h2v2h-2zM289.2 145.2h2v2h-2zM281.5 147.4h2v2h-2zM287.2 144.5h2v2h-2zM291.9 148.1h2v2h-2zM283.5 144.7h2v2h-2zM293.4 147.8h2v2h-2zM295.5 132.2h2v2h-2zM277.7 147.8h2v2h-2zM276.8 142.4h2v2h-2zM290.2 135.1h2v2h-2zM285.3 146.9h2v2h-2zM279.5 141.2h2v2h-2zM292.4 146.5h2v2h-2zM288.2 141.3h2v2h-2zM280.7 149.2h2v2h-2zM276.9 147.7h2v2h-2zM288.0 142.2h2v2h-2zM287.6 130.2h2v2h-2zM285.9 130.8h2v2h-2zM282.0 144.4h2v2h-2zM295.5 145.2h2v2h-2zM276.3 144.9h2v2h-2zM280.3 146.7h2v2h-2zM286.7 142.5h2v2h-2zM295.3 145.1h2v2h-2zM278.0 139.0h2v2h-2zM290.6 149.8h2v2h-2zM289.6 143.1h2v2h-2zM277.0 144.7h2v2h-2zM293.4 145.4h2v2h-2zM277.2 143.0h2v2h-2zM294.8 149.0h2v2h-2zM279.6 144.0h2v2h-2zM295.2 140.6h2v2h-2zM289.5 134.7h2v2h-2zM278.0 137.4h2v2h-2zM292.9 145.2h2v2h-2zM279.2 146.8h2v2h-2zM290.7 134.6h2v2h-2zM277.6 150.0h2v2h-2zM295.8 143.8h2v2h-2zM294.2 142.6h2v2h-2zM288.1 149.2h2v2h-2zM283.1 148.5h2v2h-2zM285.8 148.8h2v2h-2zM289.7 149.7h2v2h-2zM294.8 142.0h2v2h-2zM277.8 138.8h2v2h-2zM287.4 134.4h2v2h-2zM286.3 128.9h2v2h-2zM290.7 149.4h2v2h-2zM296.4 148.6h2v2h-2zM294.7 144.1h2v2h-2zM282.9 144.8h2v2h-2zM290.8 141.7h2v2h-2zM281.9 145.3h2v2h-2zM290.9 145.8h2v2h-2zM279.5 148.0h2v2h-2zM289.7 144.9h2v2h-2zM281.8 149.5h2v2h-2zM281.7 122.7h2v2h-2zM282.5 138.7h2v2h-2zM286.2 149.3h2v2h-2zM292.2 134.4h2v2h-2zM290.7 149.6h2v2h-2zM286.1 142.6h2v2h-2zM286.9 141.6h2v2h-2zM290.5 148.5h2v2h-2zM282.6 149.0h2v2h-2zM287.9 135.4h2v2h-2zM290.8 144.5h2v2h-2zM284.1 144.8h2v2h-2zM276.7 143.9h2v2h-2zM277.1 146.7h2v2h-2zM289.7 131.7h2v2h-2zM293.8 148.7h2v2h-2zM292.7 147.5h2v2h-2zM288.7 141.9h2v2h-2zM281.7 139.6h2v2h-2zM287.4 136.2h2v2h-2zM293.5 139.2h2v2h-2zM284.7 147.8h2v2h-2zM277.8 146.6h2v2h-2zM290.3 134.0h2v2h-2zM287.4 144.9h2v2h-2zM277.7 133.8h2v2h-2zM290.3 146.6h2v2h-2zM286.4 144.2h2v2h-2zM280.8 147.7h2v2h-2zM283.2 141.5h2v2h-2zM294.7 128.8h2v2h-2zM281.9 123.1h2v2h-2zM278.4 144.5h2v2h-2zM277.8 146.6h2v2h-2zM295.9 144.7h2v2h-2zM283.7 139.0h2v2h-2zM295.3 147.5h2v2h-2zM293.6 149.6h2v2h-2zM277.7 135.2h2v2h-2zM289.5 126.9h2v2h-2zM285.0 146.2h2v2h-2zM287.1 142.8h2v2h-2zM294.6 134.5h2v2h-2zM276.4 147.0h2v2h-2zM289.5 138.5h2v2h-2zM277.8 141.9h2v2h-2zM294.7 149.4h2v2h-2zM285.9 146.5h2v2h-2zM280.2 122.2h2v2h-2zM277.5 142.3h2v2h-2zM291.4 143.7h2v2h-2zM291.8 148.7h2v2h-2zM293.2 123.5h2v2h-2zM295.7 138.0h2v2h-2zM287.5 140.3h2v2h-2zM292.8 136.7h2v2h-2zM290.0 142.4h2v2h-2zM283.2 148.5h2v2h-2zM293.9 147.0h2v2h-2zM282.2 138.4h2v2h-2zM277.5 110.9h2v2h-2zM283.0 149.5h2v2h-2zM295.7 149.4h2v2h-2zM284.2 146.6h2v2h-2zM287.2 135.2h2v2h-2zM285.3 142.4h2v2h-2zM295.9 145.3h2v2h-2zM287.0 147.5h2v2h-2zM279.1 145.0h2v2h-2zM286.6 148.8h2v2h-2zM285.1 137.7h2v2h-2zM295.4 149.5h2v2h-2zM294.4 148.9h2v2h-2zM289.6 149.7h2v2h-2zM281.6 148.8h2v2h-2zM291.7 145.8h2v2h-2zM284.8 145.6h2v2h-2zM286.9 146.1h2v2h-2zM331.8 142.0h2v2h-2zM331.3 138.8h2v2h-2zM332.4 149.8h2v2h-2zM328.3 145.9h2v2h-2zM326.1 146.2h2v2h-2zM336.3 147.1h2v2h-2zM330.7 133.4h2v2h-2zM324.2 135.7h2v2h-2zM336.3 144.5h2v2h-2zM329.3 138.4h2v2h-2zM340.5 148.6h2v2h-2zM334.5 142.8h2v2h-2zM324.0 146.8h2v2h-2zM329.6 143.5h2v2h-2zM334.7 133.1h2v2h-2zM332.9 139.2h2v2h-2zM324.4 139.3h2v2h-2zM333.4 143.4h2v2h-2zM323.5 148.4h2v2h-2zM335.9 140.6h2v2h-2zM326.7 141.6h2v2h-2zM336.7 144.9h2v2h-2zM339.5 142.2h2v2h-2zM336.9 149.3h2v2h-2zM333.9 149.9h2v2h-2zM323.2 144.2h2v2h-2zM334.8 145.9h2v2h-2zM323.3 134.5h2v2h-2zM337.3 144.6h2v2h-2zM339.2 149.1h2v2h-2zM328.4 128.6h2v2h-2zM324.6 148.2h2v2h-2zM329.9 148.1h2v2h-2zM340.0 140.6h2v2h-2zM340.3 143.7h2v2h-2zM334.6 145.7h2v2h-2zM329.9 150.0h2v2h-2zM324.3 149.8h2v2h-2zM324.0 137.3h2v2h-2zM332.0 147.3h2v2h-2zM322.3 144.3h2v2h-2zM334.9 149.1h2v2h-2zM323.5 146.0h2v2h-2zM329.0 145.0h2v2h-2zM325.3 149.6h2v2h-2zM332.5 149.4h2v2h-2zM336.9 125.2h2v2h-2zM332.3 149.1h2v2h-2zM340.8 146.6h2v2h-2zM333.5 140.6h2v2h-2zM330.3 147.7h2v2h-2zM329.1 144.3h2v2h-2zM323.5 143.6h2v2h-2zM341.0 145.8h2v2h-2zM331.6 146.1h2v2h-2zM337.6 139.3h2v2h-2zM329.2 139.8h2v2h-2zM325.6 140.5h2v2h-2zM322.1 142.7h2v2h-2zM325.2 148.4h2v2h-2zM336.1 146.7h2v2h-2zM338.8 149.9h2v2h-2zM340.3 149.3h2v2h-2zM333.7 127.2h2v2h-2zM340.1 135.9h2v2h-2zM338.4 145.5h2v2h-2zM337.0 149.7h2v2h-2zM336.9 142.0h2v2h-2zM323.4 148.8h2v2h-2zM333.6 144.3h2v2h-2zM325.2 141.1h2v2h-2zM340.6 143.6h2v2h-2zM337.7 147.8h2v2h-2zM334.9 125.2h2v2h-2zM329.9 145.6h2v2h-2zM324.2 145.2h2v2h-2zM327.2 149.4h2v2h-2zM339.3 148.6h2v2h-2zM338.8 146.6h2v2h-2zM339.3 143.7h2v2h-2zM335.6 132.6h2v2h-2zM326.5 145.5h2v2h-2zM327.8 143.6h2v2h-2zM322.6 136.5h2v2h-2zM328.4 142.3h2v2h-2zM332.3 145.8h2v2h-2zM341.1 119.1h2v2h-2zM340.4 146.6h2v2h-2zM332.0 126.1h2v2h-2zM325.6 143.7h2v2h-2zM331.2 138.1h2v2h-2zM339.7 139.0h2v2h-2zM335.3 142.5h2v2h-2zM324.3 143.9h2v2h-2zM323.0 145.3h2v2h-2zM340.9 148.5h2v2h-2zM324.4 146.3h2v2h-2zM322.9 145.6h2v2h-2zM326.2 142.9h2v2h-2zM334.2 148.1h2v2h-2zM322.0 130.1h2v2h-2zM333.1 140.4h2v2h-2zM330.0 144.9h2v2h-2zM328.6 149.9h2v2h-2zM328.3 144.3h2v2h-2zM328.4 110.7h2v2h-2zM337.6 135.7h2v2h-2zM331.3 137.9h2v2h-2zM338.2 144.7h2v2h-2zM326.1 149.1h2v2h-2zM331.3 149.9h2v2h-2zM340.4 145.4h2v2h-2zM329.7 129.5h2v2h-2zM323.8 144.8h2v2h-2zM331.9 139.3h2v2h-2zM338.8 148.6h2v2h-2zM325.5 149.7h2v2h-2zM341.2 145.0h2v2h-2zM326.9 148.9h2v2h-2zM328.3 138.0h2v2h-2zM322.1 129.7h2v2h-2zM327.8 147.9h2v2h-2zM323.7 135.6h2v2h-2zM339.0 141.4h2v2h-2zM337.5 122.0h2v2h-2zM331.2 149.6h2v2h-2zM324.1 148.1h2v2h-2zM336.1 147.9h2v2h-2zM324.3 143.5h2v2h-2zM323.0 147.4h2v2h-2zM336.5 130.0h2v2h-2zM340.5 145.1h2v2h-2zM325.8 120.7h2v2h-2zM325.5 147.8h2v2h-2zM333.4 142.4h2v2h-2zM336.8 144.4h2v2h-2zM327.9 144.2h2v2h-2zM340.3 141.5h2v2h-2zM331.2 149.6h2v2h-2zM336.3 148.9h2v2h-2zM338.1 145.7h2v2h-2zM340.5 141.5h2v2h-2zM333.4 143.4h2v2h-2zM337.4 121.9h2v2h-2zM323.8 146.9h2v2h-2zM323.0 130.5h2v2h-2zM340.0 130.3h2v2h-2zM340.3 141.7h2v2h-2zM336.3 142.9h2v2h-2zM326.1 143.1h2v2h-2zM336.2 149.4h2v2h-2zM324.2 145.4h2v2h-2zM326.9 143.7h2v2h-2zM338.8 147.7h2v2h-2zM336.3 142.6h2v2h-2zM330.3 137.0h2v2h-2zM330.2 145.4h2v2h-2zM336.9 146.6h2v2h-2zM327.6 133.5h2v2h-2zM325.9 140.5h2v2h-2zM335.1 150.0h2v2h-2zM328.2 138.5h2v2h-2zM335.8 109.4h2v2h-2zM336.6 147.0h2v2h-2zM324.5 135.8h2v2h-2zM330.2 131.4h2v2h-2zM329.1 147.6h2v2h-2zM332.0 144.3h2v2h-2zM322.9 147.3h2v2h-2zM335.7 142.4h2v2h-2zM329.5 140.9h2v2h-2zM322.1 135.1h2v2h-2zM322.1 149.0h2v2h-2zM332.0 143.8h2v2h-2zM332.0 148.0h2v2h-2zM322.5 150.0h2v2h-2zM339.0 124.9h2v2h-2zM334.5 149.5h2v2h-2zM332.2 144.6h2v2h-2zM334.3 135.9h2v2h-2zM335.0 128.3h2v2h-2zM324.0 131.1h2v2h-2zM328.0 136.8h2v2h-2zM337.2 130.6h2v2h-2zM336.5 124.0h2v2h-2zM332.0 146.2h2v2h-2zM322.9 138.3h2v2h-2zM332.8 144.1h2v2h-2zM328.4 140.3h2v2h-2zM336.1 142.9h2v2h-2zM335.0 146.3h2v2h-2zM329.0 132.1h2v2h-2zM331.2 144.3h2v2h-2zM327.0 136.0h2v2h-2zM329.4 147.4h2v2h-2zM324.8 141.9h2v2h-2zM331.6 120.6h2v2h-2zM329.8 140.0h2v2h-2zM329.3 149.8h2v2h-2zM323.5 143.5h2v2h-2zM333.2 120.0h2v2h-2zM322.3 145.3h2v2h-2zM328.3 147.8h2v2h-2zM325.1 142.0h2v2h-2zM327.0 144.9h2v2h-2zM335.2 143.6h2v2h-2zM336.4 144.4h2v2h-2zM323.4 142.5h2v2h-2zM331.2 141.8h2v2h-2zM340.0 139.1h2v2h-2zM338.3 146.7h2v2h-2zM334.4 148.0h2v2h-2zM337.8 150.0h2v2h-2zM330.6 145.5h2v2h-2zM329.0 144.7h2v2h-2zM335.2 148.0h2v2h-2zM322.8 142.5h2v2h-2zM339.9 147.6h2v2h-2zM327.5 147.5h2v2h-2zM329.0 143.4h2v2h-2zM340.9 127.4h2v2h-2zM326.1 149.0h2v2h-2zM330.4 148.6h2v2h-2zM334.9 147.5h2v2h-2zM323.1 133.4h2v2h-2zM323.9 149.8h2v2h-2zM324.4 147.2h2v2h-2zM328.8 145.7h2v2h-2zM340.6 140.1h2v2h-2zM330.0 120.9h2v2h-2zM324.3 142.1h2v2h-2zM339.0 142.8h2v2h-2zM324.5 133.4h2v2h-2zM339.3 148.6h2v2h-2zM336.6 140.9h2v2h-2zM333.8 149.5h2v2h-2zM336.1 149.8h2v2h-2zM328.0 137.9h2v2h-2zM336.0 150.0h2v2h-2zM328.9 142.6h2v2h-2zM337.6 147.0h2v2h-2zM328.9 123.5h2v2h-2zM341.2 148.1h2v2h-2zM330.4 145.7h2v2h-2zM335.9 147.2h2v2h-2zM330.9 119.0h2v2h-2zM329.6 135.2h2v2h-2zM337.4 145.8h2v2h-2zM336.5 122.9h2v2h-2zM337.9 140.7h2v2h-2zM340.3 130.7h2v2h-2zM329.3 144.2h2v2h-2zM332.0 150.0h2v2h-2zM321.8 146.7h2v2h-2zM327.7 111.8h2v2h-2zM322.1 129.4h2v2h-2zM337.0 146.6h2v2h-2zM334.9 141.4h2v2h-2zM323.5 144.9h2v2h-2zM336.6 136.4h2v2h-2zM332.7 145.0h2v2h-2zM331.4 137.5h2v2h-2zM331.2 145.1h2v2h-2zM336.1 139.8h2v2h-2zM336.9 146.9h2v2h-2zM334.9 146.4h2v2h-2zM339.3 146.4h2v2h-2zM336.9 128.4h2v2h-2zM328.6 146.3h2v2h-2zM333.5 145.7h2v2h-2zM332.4 149.8h2v2h-2zM323.0 129.8h2v2h-2zM332.9 133.0h2v2h-2zM335.8 140.2h2v2h-2zM330.0 139.3h2v2h-2zM338.4 149.1h2v2h-2zM335.8 133.9h2v2h-2zM331.5 148.1h2v2h-2zM328.8 144.5h2v2h-2zM330.7 144.9h2v2h-2zM334.0 119.8h2v2h-2zM339.5 121.3h2v2h-2zM336.8 148.5h2v2h-2zM333.4 146.3h2v2h-2zM336.2 143.7h2v2h-2zM335.0 147.3h2v2h-2zM337.0 146.5h2v2h-2zM334.3 144.8h2v2h-2zM321.8 147.5h2v2h-2zM332.0 132.7h2v2h-2zM337.9 142.1h2v2h-2zM329.3 133.1h2v2h-2zM329.4 116.6h2v2h-2zM338.0 140.1h2v2h-2zM329.9 146.6h2v2h-2zM328.4 146.5h2v2h-2zM338.3 145.9h2v2h-2zM341.0 149.5h2v2h-2zM332.7 138.0h2v2h-2zM327.6 142.1h2v2h-2zM338.8 138.9h2v2h-2zM331.5 146.3h2v2h-2zM326.6 148.1h2v2h-2zM334.3 135.4h2v2h-2zM334.2 145.5h2v2h-2zM321.8 148.4h2v2h-2zM371.4 142.8h2v2h-2zM380.6 142.9h2v2h-2zM367.4 146.0h2v2h-2zM379.5 149.9h2v2h-2zM372.9 145.2h2v2h-2zM367.2 149.8h2v2h-2zM380.5 150.0h2v2h-2zM370.9 149.6h2v2h-2zM375.1 145.1h2v2h-2zM376.3 148.1h2v2h-2zM382.0 142.2h2v2h-2zM370.5 149.3h2v2h-2zM370.4 149.2h2v2h-2zM366.0 148.2h2v2h-2zM370.1 137.4h2v2h-2zM379.2 139.5h2v2h-2zM365.9 137.8h2v2h-2zM379.8 143.2h2v2h-2zM375.6 142.3h2v2h-2zM379.3 145.8h2v2h-2zM371.4 144.2h2v2h-2zM373.4 144.8h2v2h-2zM376.8 148.4h2v2h-2zM376.5 136.2h2v2h-2zM372.3 149.9h2v2h-2zM367.7 138.9h2v2h-2zM377.0 144.6h2v2h-2zM371.1 144.2h2v2h-2zM377.3 149.9h2v2h-2zM375.6 148.6h2v2h-2zM377.6 144.3h2v2h-2zM381.9 149.1h2v2h-2zM380.2 139.5h2v2h-2zM377.6 148.5h2v2h-2zM377.3 146.4h2v2h-2zM372.4 140.8h2v2h-2zM372.9 127.4h2v2h-2zM377.5 145.2h2v2h-2zM380.5 148.8h2v2h-2zM380.4 146.9h2v2h-2zM367.6 148.8h2v2h-2zM369.5 143.2h2v2h-2zM368.9 145.6h2v2h-2zM377.9 140.1h2v2h-2zM367.8 141.1h2v2h-2zM375.3 149.6h2v2h-2zM377.5 149.4h2v2h-2zM381.2 143.9h2v2h-2zM376.5 136.9h2v2h-2zM374.0 136.6h2v2h-2zM366.5 147.4h2v2h-2zM376.7 140.7h2v2h-2zM374.1 142.3h2v2h-2zM380.9 145.4h2v2h-2zM367.9 146.4h2v2h-2zM378.3 126.9h2v2h-2zM382.1 132.6h2v2h-2zM368.1 145.6h2v2h-2zM373.7 144.8h2v2h-2zM378.7 146.3h2v2h-2zM381.8 147.8h2v2h-2zM370.3 148.2h2v2h-2zM369.4 136.4h2v2h-2zM370.1 140.1h2v2h-2zM373.4 146.0h2v2h-2zM379.3 147.8h2v2h-2zM381.0 128.3h2v2h-2zM365.9 148.7h2v2h-2zM377.9 145.6h2v2h-2zM381.6 143.9h2v2h-2zM377.0 116.4h2v2h-2zM372.2 147.7h2v2h-2zM372.1 149.5h2v2h-2zM370.8 139.4h2v2h-2zM374.6 148.4h2v2h-2zM376.3 132.7h2v2h-2zM372.8 149.1h2v2h-2zM379.1 148.0h2v2h-2zM373.0 145.9h2v2h-2zM370.5 133.9h2v2h-2zM382.0 145.5h2v2h-2zM374.6 147.2h2v2h-2zM371.1 142.0h2v2h-2zM372.6 142.4h2v2h-2zM374.9 136.4h2v2h-2zM375.1 140.1h2v2h-2zM372.1 140.9h2v2h-2zM371.6 148.8h2v2h-2zM365.7 147.0h2v2h-2zM374.3 138.8h2v2h-2zM377.3 145.0h2v2h-2zM367.6 149.5h2v2h-2zM366.2 140.3h2v2h-2zM374.0 134.4h2v2h-2zM379.9 123.9h2v2h-2zM371.3 146.0h2v2h-2zM378.4 145.7h2v2h-2zM377.6 145.3h2v2h-2zM378.1 113.8h2v2h-2zM378.0 144.5h2v2h-2zM375.3 144.8h2v2h-2zM381.2 145.8h2v2h-2zM375.0 116.6h2v2h-2zM367.2 143.7h2v2h-2zM381.1 143.6h2v2h-2zM378.5 147.9h2v2h-2zM377.5 147.8h2v2h-2zM375.5 147.5h2v2h-2zM366.0 138.6h2v2h-2zM374.3 136.0h2v2h-2zM370.7 147.9h2v2h-2zM378.0 143.8h2v2h-2zM366.7 148.5h2v2h-2zM376.2 148.0h2v2h-2zM378.3 146.1h2v2h-2zM371.7 140.1h2v2h-2zM367.9 143.2h2v2h-2zM376.4 142.8h2v2h-2zM376.7 147.9h2v2h-2zM381.8 148.9h2v2h-2zM381.0 143.9h2v2h-2zM369.1 141.5h2v2h-2zM375.8 139.9h2v2h-2zM377.1 146.4h2v2h-2zM376.9 139.1h2v2h-2zM381.7 148.1h2v2h-2zM372.8 131.6h2v2h-2zM382.2 130.0h2v2h-2zM368.7 146.8h2v2h-2zM373.7 147.9h2v2h-2zM369.5 148.8h2v2h-2zM365.8 139.9h2v2h-2zM372.4 142.8h2v2h-2zM369.8 140.5h2v2h-2zM369.1 145.0h2v2h-2zM380.0 149.9h2v2h-2zM370.5 146.5h2v2h-2zM371.7 129.1h2v2h-2zM367.9 144.0h2v2h-2zM380.2 145.9h2v2h-2zM379.2 136.7h2v2h-2zM369.4 131.1h2v2h-2zM367.7 149.6h2v2h-2zM374.7 142.0h2v2h-2zM377.5 146.5h2v2h-2zM375.7 148.1h2v2h-2zM367.8 145.9h2v2h-2zM368.6 138.6h2v2h-2zM378.3 137.7h2v2h-2zM373.1 145.6h2v2h-2zM367.8 148.3h2v2h-2zM371.7 140.9h2v2h-2zM371.7 143.7h2v2h-2zM368.2 147.6h2v2h-2zM372.8 139.0h2v2h-2zM380.2 148.7h2v2h-2zM369.4 148.7h2v2h-2zM374.9 148.7h2v2h-2zM366.0 138.5h2v2h-2zM377.3 130.2h2v2h-2zM372.6 136.4h2v2h-2zM367.1 145.6h2v2h-2zM380.1 147.7h2v2h-2zM380.6 147.4h2v2h-2zM381.0 136.3h2v2h-2zM372.6 148.9h2v2h-2zM370.7 136.3h2v2h-2zM365.8 147.9h2v2h-2zM374.7 144.2h2v2h-2zM369.9 148.2h2v2h-2zM368.4 142.3h2v2h-2zM380.2 138.2h2v2h-2zM367.7 145.8h2v2h-2zM370.5 143.5h2v2h-2zM377.4 149.2h2v2h-2zM370.1 143.7h2v2h-2zM377.7 147.8h2v2h-2zM371.4 131.0h2v2h-2zM369.2 143.3h2v2h-2zM375.3 145.2h2v2h-2zM375.7 147.2h2v2h-2zM366.2 144.0h2v2h-2zM372.5 149.0h2v2h-2zM374.7 148.8h2v2h-2zM376.0 143.1h2v2h-2zM375.7 133.4h2v2h-2zM367.4 138.7h2v2h-2zM381.1 134.2h2v2h-2zM379.4 143.2h2v2h-2zM372.8 143.9h2v2h-2zM373.6 148.7h2v2h-2zM378.8 140.4h2v2h-2zM374.2 132.8h2v2h-2zM371.7 127.8h2v2h-2zM372.7 149.9h2v2h-2zM378.5 144.0h2v2h-2zM365.9 148.0h2v2h-2zM368.7 140.2h2v2h-2zM375.0 135.4h2v2h-2zM374.3 148.9h2v2h-2zM369.3 138.7h2v2h-2zM366.4 126.1h2v2h-2zM375.5 148.8h2v2h-2zM375.6 141.4h2v2h-2zM368.9 130.3h2v2h-2zM374.5 149.7h2v2h-2zM372.2 146.7h2v2h-2zM380.3 146.2h2v2h-2zM377.1 147.4h2v2h-2zM370.3 143.6h2v2h-2zM369.8 131.4h2v2h-2zM368.7 147.3h2v2h-2zM377.1 140.8h2v2h-2zM367.5 146.5h2v2h-2zM371.2 143.1h2v2h-2zM376.5 143.9h2v2h-2zM366.3 150.0h2v2h-2zM380.1 136.9h2v2h-2zM369.2 149.3h2v2h-2zM379.5 145.8h2v2h-2zM381.6 147.2h2v2h-2zM380.7 149.3h2v2h-2zM375.6 149.6h2v2h-2zM377.6 122.7h2v2h-2zM371.4 131.2h2v2h-2zM380.7 126.2h2v2h-2zM378.5 147.6h2v2h-2zM369.1 130.9h2v2h-2zM378.4 146.2h2v2h-2zM380.9 143.5h2v2h-2zM373.0 145.7h2v2h-2zM370.1 148.6h2v2h-2zM369.9 134.1h2v2h-2zM379.0 132.6h2v2h-2zM370.6 143.5h2v2h-2zM367.5 150.0h2v2h-2zM381.6 136.5h2v2h-2zM370.2 124.9h2v2h-2zM372.9 128.9h2v2h-2zM380.8 146.5h2v2h-2zM376.9 136.9h2v2h-2zM367.3 147.4h2v2h-2zM369.9 148.5h2v2h-2zM375.1 148.4h2v2h-2zM369.1 147.1h2v2h-2zM371.7 133.9h2v2h-2zM365.7 150.0h2v2h-2zM366.0 143.9h2v2h-2zM365.9 143.8h2v2h-2zM375.9 145.2h2v2h-2zM369.1 144.1h2v2h-2zM381.8 136.0h2v2h-2zM381.2 137.1h2v2h-2zM371.7 122.7h2v2h-2zM372.5 144.0h2v2h-2zM368.3 138.2h2v2h-2zM373.1 148.0h2v2h-2zM382.1 144.0h2v2h-2zM365.6 146.9h2v2h-2zM380.2 146.3h2v2h-2zM374.2 149.2h2v2h-2zM379.6 143.0h2v2h-2zM375.7 147.0h2v2h-2zM381.8 126.7h2v2h-2zM371.2 143.6h2v2h-2zM377.8 142.0h2v2h-2zM376.8 141.3h2v2h-2zM377.5 146.3h2v2h-2zM369.4 146.7h2v2h-2zM374.8 149.2h2v2h-2zM370.2 148.6h2v2h-2zM371.7 147.3h2v2h-2zM401.1 147.2h2v2h-2zM413.9 151.0h2v2h-2zM406.6 151.1h2v2h-2zM401.5 143.3h2v2h-2zM403.9 131.3h2v2h-2zM407.2 126.6h2v2h-2zM409.6 145.0h2v2h-2zM408.2 151.1h2v2h-2zM412.2 141.2h2v2h-2zM410.7 141.6h2v2h-2zM406.8 150.7h2v2h-2zM401.6 146.3h2v2h-2zM402.5 140.7h2v2h-2zM404.8 145.4h2v2h-2zM414.5 150.4h2v2h-2zM411.4 144.4h2v2h-2zM409.0 144.6h2v2h-2zM401.9 136.0h2v2h-2zM404.1 148.1h2v2h-2zM406.6 144.8h2v2h-2zM404.3 132.3h2v2h-2zM414.0 149.4h2v2h-2zM407.1 142.0h2v2h-2zM411.4 148.2h2v2h-2zM411.3 150.5h2v2h-2zM412.4 149.8h2v2h-2zM414.0 151.2h2v2h-2zM401.3 136.6h2v2h-2zM414.0 150.4h2v2h-2zM405.1 138.7h2v2h-2zM409.2 139.4h2v2h-2zM410.8 149.6h2v2h-2zM403.0 147.7h2v2h-2zM411.2 137.2h2v2h-2zM407.1 149.6h2v2h-2zM406.3 143.0h2v2h-2zM408.5 149.5h2v2h-2zM402.3 128.7h2v2h-2zM407.9 149.6h2v2h-2zM415.1 119.7h2v2h-2zM410.1 151.7h2v2h-2zM403.9 150.6h2v2h-2zM408.1 150.7h2v2h-2zM414.7 113.1h2v2h-2zM413.8 148.3h2v2h-2zM402.1 142.8h2v2h-2zM404.9 134.1h2v2h-2zM402.9 122.3h2v2h-2zM408.3 134.1h2v2h-2zM403.6 146.2h2v2h-2zM411.8 146.6h2v2h-2zM414.9 145.6h2v2h-2zM413.8 145.9h2v2h-2zM411.5 150.7h2v2h-2zM413.5 144.8h2v2h-2zM407.6 148.6h2v2h-2zM404.6 138.9h2v2h-2zM413.0 148.2h2v2h-2zM408.0 143.8h2v2h-2zM411.8 151.7h2v2h-2zM404.4 147.7h2v2h-2zM403.0 148.0h2v2h-2zM412.3 137.7h2v2h-2zM410.6 125.9h2v2h-2zM407.0 150.4h2v2h-2zM401.0 110.2h2v2h-2zM403.1 148.6h2v2h-2zM404.9 150.3h2v2h-2zM402.0 144.4h2v2h-2zM407.1 136.3h2v2h-2zM402.4 150.3h2v2h-2zM406.0 146.1h2v2h-2zM402.5 146.5h2v2h-2zM408.2 148.4h2v2h-2zM408.1 151.1h2v2h-2zM409.4 137.7h2v2h-2zM410.0 150.7h2v2h-2zM403.0 151.1h2v2h-2zM408.5 151.7h2v2h-2zM405.0 150.3h2v2h-2zM413.7 150.8h2v2h-2zM410.6 150.6h2v2h-2zM407.4 139.2h2v2h-2zM405.7 145.1h2v2h-2zM410.7 138.7h2v2h-2zM411.0 151.2h2v2h-2zM407.8 150.6h2v2h-2zM407.9 150.2h2v2h-2zM411.4 143.6h2v2h-2zM401.8 148.8h2v2h-2zM414.0 147.2h2v2h-2zM409.8 145.6h2v2h-2zM410.1 140.7h2v2h-2zM414.6 129.0h2v2h-2zM412.5 141.5h2v2h-2zM404.8 150.6h2v2h-2zM409.2 142.3h2v2h-2zM412.0 136.6h2v2h-2zM403.4 148.7h2v2h-2zM402.6 143.6h2v2h-2zM404.9 146.5h2v2h-2zM410.3 147.8h2v2h-2zM409.8 144.1h2v2h-2zM413.7 151.3h2v2h-2zM413.9 142.4h2v2h-2zM410.2 144.5h2v2h-2zM411.6 135.0h2v2h-2zM401.6 144.1h2v2h-2zM411.2 151.6h2v2h-2zM406.5 137.4h2v2h-2zM407.3 150.0h2v2h-2zM411.7 137.7h2v2h-2zM403.9 150.7h2v2h-2zM411.6 150.0h2v2h-2zM413.6 149.6h2v2h-2zM403.7 147.7h2v2h-2zM403.0 147.7h2v2h-2zM401.3 135.6h2v2h-2zM406.4 147.6h2v2h-2zM404.2 151.5h2v2h-2zM413.2 117.1h2v2h-2zM413.4 147.6h2v2h-2zM413.2 133.5h2v2h-2zM409.1 141.9h2v2h-2zM411.2 146.3h2v2h-2zM414.8 144.7h2v2h-2zM413.8 150.3h2v2h-2zM407.3 141.0h2v2h-2zM405.1 137.3h2v2h-2zM409.2 148.0h2v2h-2zM404.4 124.9h2v2h-2zM410.3 137.4h2v2h-2zM405.3 132.4h2v2h-2zM413.6 143.4h2v2h-2zM410.9 135.3h2v2h-2zM410.0 137.7h2v2h-2zM403.7 145.6h2v2h-2zM414.9 146.2h2v2h-2zM401.6 129.4h2v2h-2zM404.4 149.0h2v2h-2zM403.6 137.6h2v2h-2zM403.8 140.7h2v2h-2zM414.8 148.6h2v2h-2zM409.3 150.8h2v2h-2zM411.7 149.3h2v2h-2zM410.6 151.2h2v2h-2zM414.6 149.5h2v2h-2zM410.5 148.7h2v2h-2zM414.3 151.6h2v2h-2zM414.0 144.1h2v2h-2zM401.9 141.3h2v2h-2zM406.4 141.3h2v2h-2zM413.6 150.1h2v2h-2zM406.0 143.4h2v2h-2zM410.2 151.2h2v2h-2zM404.4 151.3h2v2h-2zM403.4 151.4h2v2h-2zM404.8 141.2h2v2h-2zM405.0 119.0h2v2h-2zM411.5 139.5h2v2h-2zM409.6 143.9h2v2h-2zM412.8 150.6h2v2h-2zM408.5 132.2h2v2h-2zM402.2 150.2h2v2h-2zM414.8 149.5h2v2h-2zM405.0 148.9h2v2h-2zM401.5 146.1h2v2h-2zM412.1 139.8h2v2h-2zM401.4 149.0h2v2h-2zM412.5 134.1h2v2h-2zM404.0 140.7h2v2h-2zM410.1 128.1h2v2h-2zM414.9 151.5h2v2h-2zM403.6 142.6h2v2h-2zM409.5 134.8h2v2h-2zM401.4 144.0h2v2h-2zM412.2 149.9h2v2h-2zM403.8 151.7h2v2h-2zM409.3 151.2h2v2h-2zM412.1 150.6h2v2h-2zM412.1 147.2h2v2h-2zM414.8 133.0h2v2h-2zM406.2 150.1h2v2h-2zM405.7 139.7h2v2h-2zM405.8 130.5h2v2h-2zM404.6 144.2h2v2h-2zM405.0 141.9h2v2h-2zM411.3 147.6h2v2h-2zM403.0 138.3h2v2h-2zM404.0 150.3h2v2h-2zM410.6 140.6h2v2h-2zM412.5 142.1h2v2h-2zM408.1 149.7h2v2h-2zM406.0 151.7h2v2h-2zM404.7 144.7h2v2h-2zM404.0 139.6h2v2h-2zM410.7 147.3h2v2h-2zM410.4 149.9h2v2h-2zM401.7 147.9h2v2h-2zM410.3 150.9h2v2h-2zM410.7 138.5h2v2h-2zM410.5 136.5h2v2h-2zM412.9 140.2h2v2h-2zM408.5 144.8h2v2h-2zM404.4 150.4h2v2h-2zM402.6 151.1h2v2h-2zM405.2 148.0h2v2h-2zM412.8 145.4h2v2h-2zM413.7 149.4h2v2h-2zM403.7 138.0h2v2h-2zM403.8 145.0h2v2h-2zM404.1 151.3h2v2h-2zM401.1 150.0h2v2h-2zM412.5 151.6h2v2h-2zM413.3 136.4h2v2h-2zM401.3 151.2h2v2h-2zM406.3 136.8h2v2h-2zM410.9 148.5h2v2h-2zM405.7 146.0h2v2h-2zM402.6 150.5h2v2h-2zM413.9 142.2h2v2h-2zM404.2 151.5h2v2h-2zM404.8 146.1h2v2h-2zM408.1 146.6h2v2h-2zM402.7 149.4h2v2h-2zM412.5 147.6h2v2h-2zM408.6 150.6h2v2h-2zM409.1 139.0h2v2h-2zM414.2 148.5h2v2h-2zM415.2 140.1h2v2h-2zM407.9 149.0h2v2h-2zM412.9 147.2h2v2h-2zM408.8 144.4h2v2h-2zM413.7 146.2h2v2h-2zM433.9 147.4h2v2h-2zM443.0 150.5h2v2h-2zM439.6 145.5h2v2h-2zM434.3 146.4h2v2h-2zM443.0 144.7h2v2h-2zM441.5 152.8h2v2h-2zM434.3 150.3h2v2h-2zM441.6 145.4h2v2h-2zM434.2 152.1h2v2h-2zM434.3 148.2h2v2h-2zM443.2 148.1h2v2h-2zM436.8 153.3h2v2h-2zM433.9 151.8h2v2h-2zM442.7 146.7h2v2h-2zM438.3 148.7h2v2h-2zM441.7 144.3h2v2h-2zM435.8 127.4h2v2h-2zM442.4 152.0h2v2h-2zM442.0 146.4h2v2h-2zM440.9 152.3h2v2h-2zM433.5 152.6h2v2h-2zM436.1 152.6h2v2h-2zM439.4 149.4h2v2h-2zM436.9 132.3h2v2h-2zM436.6 146.9h2v2h-2zM435.0 149.8h2v2h-2zM434.9 153.5h2v2h-2zM441.0 143.7h2v2h-2zM437.0 144.7h2v2h-2zM434.1 149.5h2v2h-2zM443.3 151.4h2v2h-2zM436.6 146.8h2v2h-2zM437.6 147.7h2v2h-2zM436.7 150.9h2v2h-2zM442.2 149.2h2v2h-2zM435.3 136.6h2v2h-2zM434.5 148.9h2v2h-2zM433.5 130.1h2v2h-2zM432.1 148.5h2v2h-2zM437.2 148.8h2v2h-2zM433.7 153.4h2v2h-2zM437.4 148.2h2v2h-2zM432.6 150.8h2v2h-2zM435.9 150.5h2v2h-2zM438.8 152.7h2v2h-2zM438.0 151.6h2v2h-2zM432.2 144.1h2v2h-2zM439.2 148.3h2v2h-2zM439.8 136.3h2v2h-2zM439.5 139.6h2v2h-2zM441.2 151.6h2v2h-2zM437.5 142.7h2v2h-2zM432.6 133.7h2v2h-2zM436.0 135.3h2v2h-2zM441.0 147.6h2v2h-2zM437.6 152.1h2v2h-2zM432.4 153.4h2v2h-2zM434.5 129.6h2v2h-2zM433.4 149.3h2v2h-2zM437.7 132.9h2v2h-2zM435.1 138.7h2v2h-2zM434.8 148.8h2v2h-2zM440.0 146.7h2v2h-2zM438.6 147.0h2v2h-2zM442.8 150.7h2v2h-2zM433.9 153.4h2v2h-2zM443.0 145.1h2v2h-2zM434.8 139.1h2v2h-2zM437.2 131.5h2v2h-2zM439.3 147.1h2v2h-2zM441.9 146.2h2v2h-2zM435.6 136.0h2v2h-2zM435.6 136.5h2v2h-2zM433.8 144.7h2v2h-2zM435.4 145.8h2v2h-2zM439.5 113.6h2v2h-2zM442.9 149.8h2v2h-2zM440.4 152.6h2v2h-2zM432.2 145.5h2v2h-2zM433.3 148.8h2v2h-2zM439.2 152.7h2v2h-2zM433.4 147.5h2v2h-2zM438.5 132.7h2v2h-2zM435.0 146.2h2v2h-2zM435.7 152.3h2v2h-2zM434.3 153.3h2v2h-2zM436.4 148.3h2v2h-2zM433.6 142.6h2v2h-2zM437.9 151.8h2v2h-2zM435.6 144.6h2v2h-2zM433.4 151.8h2v2h-2zM436.3 150.1h2v2h-2zM434.7 141.3h2v2h-2zM440.4 150.4h2v2h-2zM432.4 151.8h2v2h-2zM442.3 126.1h2v2h-2zM435.2 150.6h2v2h-2zM434.4 148.8h2v2h-2zM442.0 141.7h2v2h-2zM436.5 144.0h2v2h-2zM442.6 139.5h2v2h-2zM439.6 152.0h2v2h-2zM443.1 152.1h2v2h-2zM436.6 141.4h2v2h-2zM435.3 143.2h2v2h-2zM437.8 153.0h2v2h-2zM437.2 152.9h2v2h-2zM438.5 138.9h2v2h-2zM434.4 151.2h2v2h-2zM437.8 147.3h2v2h-2zM433.9 135.6h2v2h-2zM437.1 148.7h2v2h-2zM434.1 149.9h2v2h-2zM438.1 149.8h2v2h-2zM435.6 151.9h2v2h-2zM442.6 147.8h2v2h-2zM435.9 148.5h2v2h-2zM437.9 153.3h2v2h-2zM433.3 150.3h2v2h-2zM439.0 148.6h2v2h-2zM440.3 150.2h2v2h-2zM432.7 145.9h2v2h-2zM437.9 153.2h2v2h-2zM438.3 146.4h2v2h-2zM435.9 151.5h2v2h-2zM436.5 143.8h2v2h-2zM434.6 147.8h2v2h-2zM437.4 145.9h2v2h-2zM440.5 153.5h2v2h-2zM443.2 141.1h2v2h-2zM439.9 131.7h2v2h-2zM435.0 148.7h2v2h-2zM436.7 144.2h2v2h-2zM433.3 150.6h2v2h-2zM440.0 146.4h2v2h-2zM433.7 142.3h2v2h-2zM439.2 151.8h2v2h-2zM442.0 152.5h2v2h-2zM439.1 133.4h2v2h-2zM438.4 151.2h2v2h-2zM435.9 142.4h2v2h-2zM438.8 145.5h2v2h-2zM440.8 135.2h2v2h-2zM438.2 145.1h2v2h-2zM438.8 136.6h2v2h-2zM435.5 144.6h2v2h-2zM438.3 152.7h2v2h-2zM443.0 151.6h2v2h-2zM442.1 151.6h2v2h-2zM434.2 150.4h2v2h-2zM435.6 146.9h2v2h-2zM439.0 114.7h2v2h-2zM435.5 152.7h2v2h-2zM437.6 152.6h2v2h-2zM435.6 147.8h2v2h-2zM437.0 145.0h2v2h-2zM439.7 140.4h2v2h-2zM441.4 151.3h2v2h-2zM434.7 153.3h2v2h-2zM442.8 153.3h2v2h-2zM441.5 147.7h2v2h-2zM433.0 118.2h2v2h-2zM432.2 135.9h2v2h-2zM441.0 144.3h2v2h-2zM442.1 149.8h2v2h-2zM437.6 142.4h2v2h-2zM433.8 151.0h2v2h-2zM438.1 152.9h2v2h-2zM434.1 147.8h2v2h-2zM432.9 147.8h2v2h-2zM439.6 150.8h2v2h-2zM437.9 152.3h2v2h-2zM442.0 152.4h2v2h-2zM442.5 151.7h2v2h-2zM442.9 134.4h2v2h-2zM439.7 151.0h2v2h-2zM443.0 153.0h2v2h-2zM432.4 144.5h2v2h-2zM433.2 152.4h2v2h-2zM442.6 150.3h2v2h-2zM435.7 141.6h2v2h-2zM432.1 140.8h2v2h-2zM436.4 147.5h2v2h-2zM442.4 152.9h2v2h-2zM443.3 145.3h2v2h-2zM439.0 145.7h2v2h-2zM437.4 152.5h2v2h-2zM438.3 136.1h2v2h-2zM437.2 145.8h2v2h-2zM432.1 150.1h2v2h-2zM434.1 151.7h2v2h-2zM463.4 142.7h2v2h-2zM461.8 134.6h2v2h-2zM462.2 153.3h2v2h-2zM461.4 152.6h2v2h-2zM460.9 143.6h2v2h-2zM463.2 145.7h2v2h-2zM462.5 155.1h2v2h-2zM463.6 139.8h2v2h-2zM463.6 140.7h2v2h-2zM458.5 115.1h2v2h-2zM459.9 151.1h2v2h-2zM460.7 144.5h2v2h-2zM463.7 146.9h2v2h-2zM463.4 155.2h2v2h-2zM460.3 152.3h2v2h-2zM463.5 147.4h2v2h-2zM464.2 153.5h2v2h-2zM458.7 154.7h2v2h-2zM466.0 138.6h2v2h-2zM466.6 132.8h2v2h-2zM463.0 145.0h2v2h-2zM462.7 149.5h2v2h-2zM466.3 133.3h2v2h-2zM459.9 150.9h2v2h-2zM461.8 149.4h2v2h-2zM465.9 142.6h2v2h-2zM458.9 147.9h2v2h-2zM459.3 149.5h2v2h-2zM465.1 149.4h2v2h-2zM462.1 146.7h2v2h-2zM466.0 154.0h2v2h-2zM462.3 139.6h2v2h-2zM463.9 154.9h2v2h-2zM461.5 151.4h2v2h-2zM460.5 151.7h2v2h-2zM463.7 154.1h2v2h-2zM461.8 149.7h2v2h-2zM462.4 144.7h2v2h-2zM460.5 154.0h2v2h-2zM463.8 149.0h2v2h-2zM464.5 147.6h2v2h-2zM464.6 151.9h2v2h-2zM460.3 148.6h2v2h-2zM463.5 154.3h2v2h-2zM466.2 140.9h2v2h-2zM465.1 142.3h2v2h-2zM460.3 148.5h2v2h-2zM465.4 152.6h2v2h-2zM462.3 152.9h2v2h-2zM458.3 149.2h2v2h-2zM459.9 154.4h2v2h-2zM464.8 143.1h2v2h-2zM459.6 154.6h2v2h-2zM459.6 122.3h2v2h-2zM463.1 143.0h2v2h-2zM464.4 139.6h2v2h-2zM464.7 154.5h2v2h-2zM458.6 145.7h2v2h-2zM460.7 133.5h2v2h-2zM462.6 150.5h2v2h-2zM463.0 149.1h2v2h-2zM465.4 154.8h2v2h-2zM459.0 149.6h2v2h-2zM459.8 150.0h2v2h-2zM464.2 151.0h2v2h-2zM459.6 144.6h2v2h-2zM466.3 152.7h2v2h-2zM459.8 147.7h2v2h-2zM460.3 148.1h2v2h-2zM463.7 154.7h2v2h-2zM459.4 154.4h2v2h-2zM466.3 146.6h2v2h-2zM464.5 154.8h2v2h-2zM458.7 154.1h2v2h-2zM458.4 155.2h2v2h-2zM465.8 145.2h2v2h-2zM459.5 155.2h2v2h-2zM461.6 154.9h2v2h-2zM459.8 152.3h2v2h-2zM459.1 142.4h2v2h-2zM459.4 147.6h2v2h-2zM459.3 147.2h2v2h-2zM466.5 153.6h2v2h-2zM462.0 152.9h2v2h-2zM466.6 147.0h2v2h-2zM459.2 149.2h2v2h-2zM463.9 146.8h2v2h-2zM461.4 148.6h2v2h-2zM458.7 142.2h2v2h-2zM462.8 149.3h2v2h-2zM464.7 136.1h2v2h-2zM461.4 153.2h2v2h-2zM461.4 148.4h2v2h-2zM466.5 154.8h2v2h-2zM459.4 150.7h2v2h-2zM458.3 154.0h2v2h-2zM459.4 136.8h2v2h-2zM466.1 149.0h2v2h-2zM463.2 144.1h2v2h-2zM463.9 152.7h2v2h-2zM459.9 142.7h2v2h-2zM461.7 153.3h2v2h-2zM465.7 148.3h2v2h-2zM460.4 148.5h2v2h-2zM459.5 145.4h2v2h-2zM458.3 154.4h2v2h-2zM463.1 148.7h2v2h-2zM462.9 150.5h2v2h-2zM460.0 153.7h2v2h-2zM461.6 148.6h2v2h-2zM465.9 150.0h2v2h-2zM464.4 150.5h2v2h-2zM462.3 154.8h2v2h-2zM459.9 154.9h2v2h-2zM461.4 153.7h2v2h-2zM466.0 154.0h2v2h-2zM460.8 152.6h2v2h-2zM461.3 154.7h2v2h-2zM462.8 143.6h2v2h-2zM463.4 138.1h2v2h-2zM461.8 147.4h2v2h-2zM462.0 141.5h2v2h-2zM460.1 154.2h2v2h-2zM458.7 143.1h2v2h-2zM463.5 153.8h2v2h-2zM462.1 146.5h2v2h-2zM461.7 147.2h2v2h-2zM458.5 148.5h2v2h-2zM466.4 151.2h2v2h-2zM461.1 148.7h2v2h-2zM466.4 147.8h2v2h-2zM461.7 150.5h2v2h-2zM465.3 142.1h2v2h-2zM463.8 153.3h2v2h-2zM461.2 152.6h2v2h-2zM461.2 142.9h2v2h-2zM462.3 136.5h2v2h-2zM459.3 139.8h2v2h-2zM458.5 151.3h2v2h-2zM465.7 140.3h2v2h-2zM462.1 150.2h2v2h-2zM461.4 128.3h2v2h-2zM459.4 152.5h2v2h-2zM464.9 136.0h2v2h-2zM464.3 149.6h2v2h-2zM463.8 141.5h2v2h-2zM463.6 154.4h2v2h-2zM462.2 139.6h2v2h-2zM463.6 151.0h2v2h-2zM460.1 153.7h2v2h-2zM480.4 145.0h2v2h-2zM478.9 147.9h2v2h-2zM480.4 150.0h2v2h-2zM478.7 143.1h2v2h-2zM481.9 151.9h2v2h-2zM483.5 148.6h2v2h-2zM480.6 153.4h2v2h-2zM482.7 139.9h2v2h-2zM481.1 150.2h2v2h-2zM477.7 149.7h2v2h-2zM479.2 152.9h2v2h-2zM479.0 137.8h2v2h-2zM481.4 151.0h2v2h-2zM482.0 144.4h2v2h-2zM480.0 150.7h2v2h-2zM482.9 153.4h2v2h-2zM479.6 149.9h2v2h-2zM481.0 151.8h2v2h-2zM479.8 152.3h2v2h-2zM479.0 152.7h2v2h-2zM479.9 147.8h2v2h-2zM483.5 152.7h2v2h-2zM480.4 153.1h2v2h-2zM478.1 150.9h2v2h-2zM480.6 150.9h2v2h-2zM479.4 144.6h2v2h-2zM483.6 149.9h2v2h-2zM480.6 145.8h2v2h-2zM482.9 151.7h2v2h-2zM479.3 133.1h2v2h-2zM480.2 139.0h2v2h-2zM477.9 148.6h2v2h-2zM479.3 151.4h2v2h-2zM483.2 151.8h2v2h-2zM479.8 130.4h2v2h-2zM479.7 141.1h2v2h-2zM479.0 146.9h2v2h-2zM481.1 135.2h2v2h-2zM482.9 146.7h2v2h-2zM480.9 147.9h2v2h-2zM480.8 144.0h2v2h-2zM479.7 147.0h2v2h-2zM479.2 152.3h2v2h-2zM481.6 126.4h2v2h-2zM478.9 153.4h2v2h-2zM481.1 146.8h2v2h-2zM483.7 118.9h2v2h-2zM483.0 153.0h2v2h-2zM482.6 122.3h2v2h-2zM480.2 130.1h2v2h-2zM482.2 145.9h2v2h-2zM482.4 141.3h2v2h-2zM479.9 140.4h2v2h-2zM481.6 141.4h2v2h-2zM479.8 128.6h2v2h-2zM483.4 146.1h2v2h-2zM482.3 142.6h2v2h-2zM478.7 152.3h2v2h-2zM482.0 150.6h2v2h-2zM482.1 153.3h2v2h-2zM479.0 152.6h2v2h-2zM481.3 151.1h2v2h-2zM483.9 143.8h2v2h-2zM478.3 151.6h2v2h-2zM481.6 138.6h2v2h-2zM482.4 134.3h2v2h-2zM480.1 152.5h2v2h-2zM480.7 151.6h2v2h-2zM483.4 151.0h2v2h-2zM478.9 136.2h2v2h-2zM480.2 128.4h2v2h-2zM483.9 137.7h2v2h-2zM480.1 143.4h2v2h-2zM482.8 145.9h2v2h-2zM480.8 150.4h2v2h-2zM478.7 152.8h2v2h-2zM479.7 141.4h2v2h-2zM480.5 144.3h2v2h-2zM479.6 144.0h2v2h-2zM482.1 152.8h2v2h-2zM479.0 151.3h2v2h-2zM481.0 148.8h2v2h-2zM482.3 136.6h2v2h-2zM480.6 149.2h2v2h-2zM478.6 146.5h2v2h-2zM481.7 150.8h2v2h-2zM481.7 132.0h2v2h-2zM484.1 151.7h2v2h-2zM479.2 141.4h2v2h-2zM477.9 150.0h2v2h-2zM479.1 142.5h2v2h-2zM482.4 140.1h2v2h-2zM481.4 142.1h2v2h-2zM477.9 151.4h2v2h-2zM477.8 146.6h2v2h-2zM482.8 147.9h2v2h-2zM480.6 152.4h2v2h-2zM478.7 147.6h2v2h-2zM481.7 151.8h2v2h-2zM478.7 152.1h2v2h-2zM483.9 151.6h2v2h-2zM478.4 136.1h2v2h-2zM480.4 147.0h2v2h-2zM479.4 153.3h2v2h-2zM477.8 145.5h2v2h-2zM479.6 129.2h2v2h-2zM484.0 150.3h2v2h-2zM478.6 152.4h2v2h-2zM479.8 148.6h2v2h-2zM481.5 150.6h2v2h-2zM480.4 130.6h2v2h-2zM480.2 153.2h2v2h-2zM480.6 138.9h2v2h-2zM479.3 153.1h2v2h-2zM480.0 151.6h2v2h-2zM482.1 150.6h2v2h-2zM478.0 143.8h2v2h-2zM483.1 152.3h2v2h-2zM482.9 137.6h2v2h-2zM482.3 152.0h2v2h-2zM482.2 152.9h2v2h-2zM483.2 151.6h2v2h-2zM480.8 139.3h2v2h-2zM497.5 151.2h2v2h-2zM495.8 159.6h2v2h-2zM510.2 147.6h2v2h-2zM501.8 158.4h2v2h-2zM515.3 156.9h2v2h-2zM510.5 155.6h2v2h-2zM495.2 159.0h2v2h-2zM508.9 157.8h2v2h-2zM514.1 155.2h2v2h-2zM509.4 146.5h2v2h-2zM516.1 114.8h2v2h-2zM496.3 143.3h2v2h-2zM497.6 155.8h2v2h-2zM505.8 152.5h2v2h-2zM496.1 159.0h2v2h-2zM508.5 154.9h2v2h-2zM505.0 155.7h2v2h-2zM510.1 152.0h2v2h-2zM503.7 150.3h2v2h-2zM514.0 158.3h2v2h-2zM499.0 159.4h2v2h-2zM507.8 158.1h2v2h-2zM496.6 152.3h2v2h-2zM507.3 154.2h2v2h-2zM496.0 150.8h2v2h-2zM500.4 149.8h2v2h-2zM497.1 156.0h2v2h-2zM508.3 145.6h2v2h-2zM506.0 146.9h2v2h-2zM503.4 158.8h2v2h-2zM496.5 159.1h2v2h-2zM494.3 147.1h2v2h-2zM495.2 155.9h2v2h-2zM516.8 148.6h2v2h-2zM502.6 159.5h2v2h-2zM500.0 131.2h2v2h-2zM516.7 156.9h2v2h-2zM503.1 140.2h2v2h-2zM512.3 151.2h2v2h-2zM494.4 156.4h2v2h-2zM510.0 156.1h2v2h-2zM504.3 134.2h2v2h-2zM502.9 155.7h2v2h-2zM494.8 152.6h2v2h-2zM516.0 141.0h2v2h-2zM494.4 159.5h2v2h-2zM497.6 156.8h2v2h-2zM514.0 148.5h2v2h-2zM515.7 153.7h2v2h-2zM498.7 157.7h2v2h-2zM504.5 156.0h2v2h-2zM515.2 158.0h2v2h-2zM500.8 149.1h2v2h-2zM500.7 157.8h2v2h-2zM509.2 155.9h2v2h-2zM515.9 148.2h2v2h-2zM498.7 159.1h2v2h-2zM515.9 156.1h2v2h-2zM510.6 155.0h2v2h-2zM504.8 146.2h2v2h-2zM511.9 156.1h2v2h-2zM516.8 151.9h2v2h-2zM515.9 157.3h2v2h-2zM514.0 154.6h2v2h-2zM507.1 151.9h2v2h-2zM496.1 144.9h2v2h-2zM505.4 157.2h2v2h-2zM498.5 146.6h2v2h-2zM496.3 148.1h2v2h-2zM504.8 156.4h2v2h-2zM506.2 150.1h2v2h-2zM510.0 145.2h2v2h-2zM506.1 156.0h2v2h-2zM514.1 155.9h2v2h-2zM498.4 156.9h2v2h-2zM500.0 157.6h2v2h-2zM509.9 147.0h2v2h-2zM503.8 157.6h2v2h-2zM516.1 142.5h2v2h-2zM515.7 157.8h2v2h-2zM517.0 159.3h2v2h-2zM516.0 156.8h2v2h-2zM509.9 159.5h2v2h-2zM512.9 139.9h2v2h-2zM497.8 153.2h2v2h-2zM515.7 157.6h2v2h-2zM499.3 144.3h2v2h-2zM508.2 156.5h2v2h-2zM499.1 157.0h2v2h-2zM496.8 144.1h2v2h-2zM503.5 152.0h2v2h-2zM514.1 154.9h2v2h-2zM511.9 149.2h2v2h-2zM512.7 159.6h2v2h-2zM494.3 147.7h2v2h-2zM510.9 157.8h2v2h-2zM506.5 144.1h2v2h-2zM496.3 142.9h2v2h-2zM512.9 157.4h2v2h-2zM499.4 147.6h2v2h-2zM504.2 153.3h2v2h-2zM503.3 149.4h2v2h-2zM511.6 156.8h2v2h-2zM502.5 150.6h2v2h-2zM500.3 150.1h2v2h-2zM498.6 154.4h2v2h-2zM503.8 156.5h2v2h-2zM501.4 159.0h2v2h-2zM501.7 156.4h2v2h-2zM514.7 154.3h2v2h-2zM501.0 145.2h2v2h-2zM496.3 158.6h2v2h-2zM511.5 143.1h2v2h-2zM514.9 149.4h2v2h-2zM498.2 155.8h2v2h-2zM503.4 159.0h2v2h-2zM496.2 148.5h2v2h-2zM496.1 155.3h2v2h-2zM506.9 157.9h2v2h-2zM515.7 151.7h2v2h-2zM499.6 156.8h2v2h-2zM498.6 159.2h2v2h-2zM494.3 159.4h2v2h-2zM506.5 158.8h2v2h-2zM514.9 155.0h2v2h-2zM496.3 154.6h2v2h-2zM510.2 158.5h2v2h-2zM511.3 129.7h2v2h-2zM502.1 157.7h2v2h-2zM504.1 155.3h2v2h-2zM497.8 157.2h2v2h-2zM514.3 159.5h2v2h-2zM516.5 131.4h2v2h-2zM509.9 156.1h2v2h-2zM496.9 157.9h2v2h-2zM501.9 159.7h2v2h-2zM506.3 147.5h2v2h-2zM505.2 157.7h2v2h-2zM498.7 153.8h2v2h-2zM515.4 155.2h2v2h-2zM516.8 155.2h2v2h-2zM497.2 149.9h2v2h-2zM510.0 140.5h2v2h-2zM498.6 155.2h2v2h-2zM498.6 151.5h2v2h-2zM497.7 155.0h2v2h-2zM516.3 155.6h2v2h-2zM505.9 152.7h2v2h-2zM509.2 152.3h2v2h-2zM500.8 152.7h2v2h-2zM508.1 157.9h2v2h-2zM514.1 139.4h2v2h-2zM501.0 154.6h2v2h-2zM495.4 152.9h2v2h-2zM512.1 154.5h2v2h-2zM496.4 133.5h2v2h-2zM505.2 158.0h2v2h-2zM516.2 152.5h2v2h-2zM497.2 158.9h2v2h-2zM512.3 154.6h2v2h-2zM502.9 159.5h2v2h-2zM503.8 150.2h2v2h-2zM495.9 158.2h2v2h-2zM505.9 148.8h2v2h-2zM509.8 153.8h2v2h-2zM503.4 148.7h2v2h-2zM515.2 156.2h2v2h-2zM511.9 159.1h2v2h-2zM506.4 155.0h2v2h-2zM515.7 157.5h2v2h-2zM501.6 156.9h2v2h-2zM514.5 159.3h2v2h-2zM495.4 146.2h2v2h-2zM500.8 158.5h2v2h-2zM505.6 159.5h2v2h-2zM510.6 145.3h2v2h-2zM516.5 154.4h2v2h-2zM501.5 156.9h2v2h-2zM508.0 157.4h2v2h-2zM497.1 154.9h2v2h-2zM516.2 154.5h2v2h-2zM508.5 143.6h2v2h-2zM505.3 144.5h2v2h-2zM510.1 154.5h2v2h-2zM507.8 158.0h2v2h-2zM501.1 154.4h2v2h-2zM498.3 154.5h2v2h-2zM496.9 151.8h2v2h-2zM495.6 155.2h2v2h-2zM496.5 153.8h2v2h-2zM494.7 146.4h2v2h-2zM501.1 147.1h2v2h-2zM501.8 136.1h2v2h-2zM509.5 158.5h2v2h-2zM512.8 157.6h2v2h-2zM500.4 154.7h2v2h-2zM499.4 152.9h2v2h-2zM496.2 157.4h2v2h-2zM499.3 157.6h2v2h-2zM503.7 158.4h2v2h-2zM507.8 155.1h2v2h-2zM509.8 153.6h2v2h-2zM505.0 152.4h2v2h-2zM497.5 144.9h2v2h-2zM494.6 157.3h2v2h-2zM514.3 141.3h2v2h-2zM513.4 155.7h2v2h-2zM515.4 153.4h2v2h-2zM501.8 142.0h2v2h-2zM503.7 157.2h2v2h-2zM504.9 135.8h2v2h-2zM494.8 156.3h2v2h-2zM515.3 156.0h2v2h-2zM512.3 155.6h2v2h-2zM515.6 142.3h2v2h-2zM505.6 149.6h2v2h-2zM515.6 157.0h2v2h-2zM511.2 147.2h2v2h-2zM509.0 159.3h2v2h-2zM497.4 150.7h2v2h-2zM504.6 156.7h2v2h-2zM496.7 157.5h2v2h-2zM504.7 158.5h2v2h-2zM512.3 159.6h2v2h-2zM500.6 155.6h2v2h-2zM501.5 157.5h2v2h-2zM510.5 152.7h2v2h-2zM510.5 155.4h2v2h-2zM512.7 153.2h2v2h-2zM511.7 149.7h2v2h-2zM502.3 159.5h2v2h-2zM513.1 158.8h2v2h-2zM515.3 158.3h2v2h-2zM497.8 156.5h2v2h-2zM498.5 150.6h2v2h-2zM504.3 156.3h2v2h-2zM506.1 152.0h2v2h-2zM512.3 151.4h2v2h-2zM508.4 133.5h2v2h-2zM505.6 155.5h2v2h-2zM513.2 156.4h2v2h-2zM510.1 153.7h2v2h-2zM510.1 146.6h2v2h-2zM504.6 143.0h2v2h-2zM514.4 150.6h2v2h-2zM512.9 154.6h2v2h-2zM497.9 157.2h2v2h-2zM506.8 145.1h2v2h-2zM507.9 134.7h2v2h-2zM497.1 157.4h2v2h-2zM500.0 142.2h2v2h-2zM506.3 158.3h2v2h-2zM507.3 150.0h2v2h-2zM512.0 159.3h2v2h-2zM501.7 151.1h2v2h-2zM505.5 140.1h2v2h-2zM496.4 148.5h2v2h-2zM511.5 156.9h2v2h-2zM510.2 150.9h2v2h-2zM494.9 150.7h2v2h-2zM495.2 144.9h2v2h-2zM501.2 157.6h2v2h-2zM496.5 154.4h2v2h-2zM497.5 155.4h2v2h-2zM502.1 156.6h2v2h-2zM512.5 158.8h2v2h-2zM498.9 159.5h2v2h-2zM503.5 142.6h2v2h-2zM501.3 137.4h2v2h-2zM506.3 154.1h2v2h-2zM516.8 155.7h2v2h-2zM512.4 155.8h2v2h-2zM502.2 154.3h2v2h-2zM515.3 145.4h2v2h-2zM507.9 159.6h2v2h-2zM505.8 149.0h2v2h-2zM510.6 155.8h2v2h-2zM505.1 158.4h2v2h-2zM513.9 158.0h2v2h-2zM503.3 147.9h2v2h-2zM506.6 147.9h2v2h-2zM499.7 151.6h2v2h-2zM509.0 148.4h2v2h-2zM500.3 115.6h2v2h-2zM512.0 155.8h2v2h-2zM511.7 157.4h2v2h-2zM498.1 145.2h2v2h-2zM500.9 149.7h2v2h-2zM502.3 157.3h2v2h-2zM508.8 148.2h2v2h-2zM509.8 156.0h2v2h-2zM498.8 146.9h2v2h-2zM506.1 144.4h2v2h-2zM513.8 152.0h2v2h-2zM504.9 157.9h2v2h-2zM494.7 150.2h2v2h-2zM506.6 155.9h2v2h-2zM505.8 155.2h2v2h-2zM496.9 145.8h2v2h-2zM500.7 150.0h2v2h-2zM504.8 159.1h2v2h-2zM504.7 158.7h2v2h-2zM504.4 158.3h2v2h-2zM516.9 158.6h2v2h-2zM504.4 157.9h2v2h-2zM509.6 152.6h2v2h-2zM513.5 158.7h2v2h-2zM496.2 156.2h2v2h-2zM508.4 155.4h2v2h-2zM510.8 156.3h2v2h-2zM512.8 156.9h2v2h-2zM512.8 139.0h2v2h-2zM503.8 159.2h2v2h-2zM503.0 153.9h2v2h-2zM507.7 158.1h2v2h-2zM498.1 158.8h2v2h-2zM516.9 155.6h2v2h-2zM516.2 156.0h2v2h-2zM509.0 151.2h2v2h-2zM507.5 140.9h2v2h-2zM505.0 149.4h2v2h-2zM514.2 147.5h2v2h-2zM515.5 159.7h2v2h-2zM508.8 159.5h2v2h-2zM511.5 159.1h2v2h-2zM497.4 155.4h2v2h-2zM499.9 145.5h2v2h-2zM503.0 142.0h2v2h-2zM504.4 153.5h2v2h-2zM502.3 148.7h2v2h-2zM499.5 154.2h2v2h-2zM496.8 156.6h2v2h-2zM500.6 157.4h2v2h-2zM497.6 150.8h2v2h-2zM516.4 158.4h2v2h-2zM496.2 151.9h2v2h-2zM511.5 144.4h2v2h-2zM516.1 152.5h2v2h-2zM497.5 153.9h2v2h-2zM496.3 159.6h2v2h-2zM506.9 154.9h2v2h-2zM495.9 146.0h2v2h-2zM496.5 159.2h2v2h-2zM515.5 156.3h2v2h-2zM495.3 148.1h2v2h-2zM498.4 152.9h2v2h-2zM501.6 157.8h2v2h-2zM501.0 157.6h2v2h-2zM502.1 157.8h2v2h-2zM507.1 152.9h2v2h-2zM500.6 149.7h2v2h-2zM507.3 159.5h2v2h-2zM499.1 156.8h2v2h-2zM515.8 155.7h2v2h-2zM510.6 152.7h2v2h-2zM506.6 159.4h2v2h-2zM513.9 150.5h2v2h-2zM39.0 100.5h2v2h-2zM54.0 105.5h2v2h-2zM113.0 103.0h2v2h-2zM169.5 93.2h2v2h-2zM189.8 88.2h2v2h-2zM229.5 98.5h2v2h-2zM229.5 102.0h2v2h-2zM182.8 109.0h2v2h-2zM190.2 104.0h2v2h-2zM339.0 91.0h2v2h-2zM368.5 86.0h2v2h-2zM321.5 102.8h2v2h-2zM372.2 102.2h2v2h-2zM367.8 105.8h2v2h-2zM296.5 109.5h2v2h-2zM407.8 98.5h2v2h-2zM407.0 102.0h2v2h-2zM432.8 100.2h2v2h-2zM439.0 105.2h2v2h-2zM507.8 98.5h2v2h-2zM514.0 114.5h2v2h-2zM464.0 110.2h2v2h-2zM481.5 109.5h2v2h-2z" fill="#7d7dc4"/>
<path d="M98.2 145.2h2v2h-2zM98.9 140.8h2v2h-2zM93.9 145.6h2v2h-2zM78.3 143.5h2v2h-2zM90.1 148.2h2v2h-2zM100.9 149.4h2v2h-2zM67.8 148.8h2v2h-2zM101.6 149.2h2v2h-2zM72.1 146.8h2v2h-2zM68.3 149.8h2v2h-2zM90.5 141.0h2v2h-2zM94.4 140.9h2v2h-2zM88.9 149.5h2v2h-2zM97.4 146.6h2v2h-2zM100.2 136.9h2v2h-2zM99.3 149.5h2v2h-2zM102.2 131.2h2v2h-2zM74.5 149.1h2v2h-2zM68.0 149.1h2v2h-2zM97.2 135.6h2v2h-2zM97.7 142.3h2v2h-2zM77.5 142.4h2v2h-2zM70.4 149.2h2v2h-2zM74.4 139.2h2v2h-2zM82.6 147.1h2v2h-2zM76.4 149.9h2v2h-2zM93.6 147.5h2v2h-2zM78.8 146.5h2v2h-2zM85.6 124.5h2v2h-2zM89.9 135.4h2v2h-2zM82.2 149.8h2v2h-2zM95.7 145.6h2v2h-2zM93.2 146.8h2v2h-2zM74.9 144.1h2v2h-2zM70.2 134.8h2v2h-2zM73.1 136.9h2v2h-2zM74.3 150.0h2v2h-2zM103.4 139.0h2v2h-2zM85.2 150.0h2v2h-2zM96.6 144.8h2v2h-2zM85.3 148.5h2v2h-2zM97.9 146.7h2v2h-2zM102.1 147.7h2v2h-2zM74.8 147.5h2v2h-2zM85.4 140.8h2v2h-2zM90.6 149.1h2v2h-2zM96.3 149.4h2v2h-2zM96.3 140.9h2v2h-2zM80.1 142.4h2v2h-2zM81.5 146.1h2v2h-2zM70.0 133.1h2v2h-2zM67.7 133.2h2v2h-2zM76.6 148.2h2v2h-2zM85.5 132.3h2v2h-2zM99.9 146.4h2v2h-2zM84.0 148.0h2v2h-2zM95.0 144.2h2v2h-2zM91.0 139.3h2v2h-2zM79.0 146.7h2v2h-2zM98.4 148.7h2v2h-2zM94.6 141.7h2v2h-2zM83.2 148.6h2v2h-2zM88.5 138.6h2v2h-2zM84.1 149.0h2v2h-2zM75.7 133.4h2v2h-2zM78.1 148.4h2v2h-2zM98.4 140.7h2v2h-2zM72.6 148.7h2v2h-2zM79.0 147.8h2v2h-2zM72.8 144.4h2v2h-2zM73.8 147.0h2v2h-2zM94.1 121.7h2v2h-2zM102.8 149.2h2v2h-2zM81.2 149.2h2v2h-2zM96.6 118.4h2v2h-2zM83.1 139.9h2v2h-2zM90.7 148.3h2v2h-2zM74.5 149.1h2v2h-2zM68.0 146.2h2v2h-2zM96.4 146.1h2v2h-2zM85.5 141.0h2v2h-2zM84.1 142.3h2v2h-2zM89.4 148.8h2v2h-2zM94.5 146.0h2v2h-2zM82.9 131.7h2v2h-2zM94.8 143.5h2v2h-2zM75.3 145.8h2v2h-2zM99.8 140.2h2v2h-2zM93.0 138.6h2v2h-2zM92.2 135.3h2v2h-2zM83.8 142.2h2v2h-2zM90.3 147.1h2v2h-2zM82.5 149.2h2v2h-2zM93.5 138.3h2v2h-2zM76.1 142.4h2v2h-2zM83.8 145.8h2v2h-2zM82.1 142.6h2v2h-2zM101.6 141.4h2v2h-2zM91.3 148.5h2v2h-2zM81.3 138.5h2v2h-2zM103.3 144.9h2v2h-2zM87.1 149.7h2v2h-2zM96.1 148.7h2v2h-2zM86.2 128.4h2v2h-2zM88.3 149.2h2v2h-2zM93.6 144.0h2v2h-2zM90.7 144.5h2v2h-2zM86.3 136.5h2v2h-2zM102.3 146.0h2v2h-2zM92.4 148.2h2v2h-2zM95.4 146.2h2v2h-2zM103.7 149.0h2v2h-2zM68.9 146.6h2v2h-2zM81.7 147.6h2v2h-2zM82.4 149.9h2v2h-2zM92.9 145.8h2v2h-2zM76.7 146.7h2v2h-2zM94.6 148.1h2v2h-2zM86.5 128.5h2v2h-2zM96.8 148.1h2v2h-2zM74.7 146.2h2v2h-2zM95.9 149.0h2v2h-2zM90.5 137.3h2v2h-2zM87.8 145.2h2v2h-2zM102.9 148.1h2v2h-2zM90.7 146.7h2v2h-2zM97.4 136.9h2v2h-2zM77.8 145.2h2v2h-2zM71.4 143.9h2v2h-2zM80.1 136.3h2v2h-2zM76.8 135.4h2v2h-2zM76.3 146.4h2v2h-2zM73.7 145.8h2v2h-2zM93.8 150.0h2v2h-2zM75.9 147.5h2v2h-2zM84.7 147.3h2v2h-2zM90.6 145.7h2v2h-2zM80.3 141.8h2v2h-2zM98.8 129.8h2v2h-2zM97.8 149.6h2v2h-2zM96.2 131.9h2v2h-2zM97.9 148.9h2v2h-2zM67.3 142.3h2v2h-2zM102.4 149.9h2v2h-2zM76.1 141.8h2v2h-2zM72.1 149.2h2v2h-2zM95.9 148.0h2v2h-2zM72.5 146.8h2v2h-2zM96.4 132.0h2v2h-2zM100.2 148.6h2v2h-2zM96.0 142.8h2v2h-2zM100.3 141.6h2v2h-2zM98.2 138.1h2v2h-2zM92.7 148.3h2v2h-2zM94.6 144.2h2v2h-2zM99.9 145.6h2v2h-2zM76.7 143.8h2v2h-2zM72.0 148.0h2v2h-2zM68.9 144.8h2v2h-2zM72.2 145.2h2v2h-2zM85.4 144.8h2v2h-2zM99.1 144.1h2v2h-2zM98.3 150.0h2v2h-2zM87.8 145.2h2v2h-2zM98.3 141.6h2v2h-2zM82.5 146.4h2v2h-2zM69.6 125.2h2v2h-2zM90.6 142.2h2v2h-2zM89.6 149.8h2v2h-2zM101.7 141.2h2v2h-2zM103.6 146.9h2v2h-2zM84.9 144.5h2v2h-2zM68.0 132.5h2v2h-2zM90.2 140.3h2v2h-2zM99.1 146.8h2v2h-2zM84.5 146.5h2v2h-2zM95.6 144.3h2v2h-2zM83.1 148.2h2v2h-2zM87.5 145.8h2v2h-2zM77.7 136.6h2v2h-2zM81.9 136.5h2v2h-2zM76.9 144.6h2v2h-2zM103.3 144.6h2v2h-2zM96.4 141.9h2v2h-2zM78.6 146.9h2v2h-2zM88.7 147.3h2v2h-2zM96.2 142.3h2v2h-2zM93.9 149.7h2v2h-2zM87.2 133.4h2v2h-2zM78.0 149.6h2v2h-2zM73.9 150.0h2v2h-2zM89.6 130.5h2v2h-2zM96.3 141.8h2v2h-2zM89.7 131.6h2v2h-2zM90.3 142.7h2v2h-2zM89.1 140.9h2v2h-2zM74.7 141.3h2v2h-2zM83.9 141.6h2v2h-2zM70.6 139.0h2v2h-2zM68.1 148.5h2v2h-2zM101.0 138.6h2v2h-2zM80.6 141.8h2v2h-2zM96.2 136.8h2v2h-2zM76.4 143.7h2v2h-2zM82.6 147.3h2v2h-2zM82.9 147.1h2v2h-2zM101.8 142.1h2v2h-2zM88.0 149.6h2v2h-2zM71.2 149.7h2v2h-2zM88.3 137.3h2v2h-2zM83.5 130.8h2v2h-2zM81.3 149.9h2v2h-2zM101.9 143.1h2v2h-2zM84.6 119.7h2v2h-2zM70.6 145.9h2v2h-2zM74.7 142.1h2v2h-2zM67.3 148.8h2v2h-2zM92.4 150.0h2v2h-2zM103.0 149.0h2v2h-2zM99.4 149.3h2v2h-2zM67.4 149.0h2v2h-2zM75.8 140.3h2v2h-2zM73.8 139.9h2v2h-2zM95.8 149.6h2v2h-2zM98.8 140.4h2v2h-2zM69.9 140.0h2v2h-2zM93.3 142.4h2v2h-2zM101.7 145.3h2v2h-2zM102.9 147.8h2v2h-2zM67.2 140.3h2v2h-2zM91.2 149.9h2v2h-2zM69.7 137.0h2v2h-2zM94.1 147.2h2v2h-2zM99.0 148.6h2v2h-2zM69.0 144.9h2v2h-2zM88.3 146.5h2v2h-2zM92.1 145.6h2v2h-2zM96.7 148.8h2v2h-2zM90.9 146.6h2v2h-2zM82.4 142.4h2v2h-2zM96.2 146.3h2v2h-2zM96.2 127.8h2v2h-2zM77.7 143.6h2v2h-2zM103.3 149.5h2v2h-2zM97.8 140.7h2v2h-2zM89.5 146.9h2v2h-2zM97.9 120.9h2v2h-2zM78.3 143.0h2v2h-2zM100.1 145.7h2v2h-2zM92.4 146.4h2v2h-2zM100.4 143.0h2v2h-2zM77.4 137.4h2v2h-2zM76.6 150.0h2v2h-2zM88.7 145.8h2v2h-2zM100.0 137.0h2v2h-2zM98.0 149.7h2v2h-2zM99.3 137.2h2v2h-2zM77.0 143.5h2v2h-2zM97.0 135.4h2v2h-2zM101.0 141.2h2v2h-2zM69.9 146.7h2v2h-2zM96.7 143.8h2v2h-2zM94.9 148.3h2v2h-2zM75.5 129.4h2v2h-2zM92.2 142.9h2v2h-2zM74.5 145.2h2v2h-2zM94.9 147.8h2v2h-2zM84.0 138.0h2v2h-2zM97.0 149.3h2v2h-2zM75.5 138.7h2v2h-2zM100.4 143.4h2v2h-2zM86.3 133.4h2v2h-2zM88.8 145.1h2v2h-2zM74.0 148.4h2v2h-2zM93.0 148.5h2v2h-2zM87.9 146.6h2v2h-2zM86.1 146.1h2v2h-2zM68.4 148.8h2v2h-2zM70.7 146.4h2v2h-2zM96.3 142.3h2v2h-2zM89.1 148.7h2v2h-2zM86.2 146.8h2v2h-2zM68.0 149.9h2v2h-2zM99.2 114.4h2v2h-2zM88.0 144.9h2v2h-2zM96.0 147.7h2v2h-2zM102.2 145.8h2v2h-2zM97.5 138.8h2v2h-2zM76.3 124.6h2v2h-2zM74.3 149.7h2v2h-2zM69.9 148.5h2v2h-2zM87.7 149.6h2v2h-2zM83.9 134.3h2v2h-2zM100.9 127.5h2v2h-2zM89.2 149.5h2v2h-2zM71.2 146.1h2v2h-2zM76.4 125.5h2v2h-2zM90.8 143.6h2v2h-2zM91.9 126.0h2v2h-2zM83.6 146.2h2v2h-2zM103.0 148.7h2v2h-2zM75.1 113.3h2v2h-2zM76.3 149.7h2v2h-2zM100.6 146.7h2v2h-2zM98.1 132.0h2v2h-2zM96.2 149.6h2v2h-2zM91.0 140.5h2v2h-2zM68.8 117.6h2v2h-2zM95.1 148.8h2v2h-2zM92.1 128.5h2v2h-2zM88.9 147.3h2v2h-2zM70.7 139.1h2v2h-2zM76.4 147.0h2v2h-2zM84.8 149.0h2v2h-2zM75.7 148.6h2v2h-2zM92.2 148.8h2v2h-2zM93.6 149.9h2v2h-2zM68.1 148.4h2v2h-2zM75.0 129.9h2v2h-2zM99.3 129.2h2v2h-2zM72.0 133.2h2v2h-2zM70.4 145.5h2v2h-2zM98.3 129.8h2v2h-2zM83.7 142.4h2v2h-2zM97.6 146.8h2v2h-2zM90.3 145.0h2v2h-2zM75.1 148.8h2v2h-2zM93.5 149.6h2v2h-2zM72.2 143.8h2v2h-2zM76.7 134.3h2v2h-2zM72.6 145.9h2v2h-2zM98.2 147.6h2v2h-2zM73.0 146.9h2v2h-2zM78.7 144.8h2v2h-2zM71.0 132.1h2v2h-2zM68.9 120.5h2v2h-2zM91.8 132.7h2v2h-2zM84.7 148.2h2v2h-2zM76.4 147.4h2v2h-2zM80.4 148.3h2v2h-2zM104.2 113.9h2v2h-2zM70.4 130.2h2v2h-2zM100.4 147.4h2v2h-2zM94.0 149.6h2v2h-2zM103.4 147.4h2v2h-2zM97.0 149.9h2v2h-2zM72.0 146.8h2v2h-2zM98.0 150.0h2v2h-2zM73.7 144.3h2v2h-2zM100.9 145.6h2v2h-2zM88.2 148.1h2v2h-2zM73.5 148.9h2v2h-2zM93.4 138.7h2v2h-2zM69.7 148.3h2v2h-2zM89.6 149.3h2v2h-2zM77.0 144.8h2v2h-2zM89.7 148.2h2v2h-2zM97.2 140.6h2v2h-2zM74.3 143.3h2v2h-2zM94.2 149.5h2v2h-2zM93.8 146.0h2v2h-2zM97.1 149.6h2v2h-2zM98.3 146.9h2v2h-2zM85.2 134.7h2v2h-2zM100.9 149.9h2v2h-2zM99.5 145.1h2v2h-2zM73.7 147.6h2v2h-2zM80.5 136.4h2v2h-2zM80.7 148.6h2v2h-2zM66.9 143.1h2v2h-2zM83.5 144.4h2v2h-2zM71.3 144.5h2v2h-2zM97.4 140.4h2v2h-2zM78.8 134.6h2v2h-2zM81.1 140.5h2v2h-2zM69.0 139.3h2v2h-2zM102.5 134.2h2v2h-2zM86.0 144.8h2v2h-2zM86.9 144.2h2v2h-2zM103.0 149.9h2v2h-2zM73.6 148.1h2v2h-2zM76.1 149.2h2v2h-2zM67.9 137.0h2v2h-2zM93.0 149.2h2v2h-2zM67.4 148.4h2v2h-2zM88.4 143.0h2v2h-2zM93.1 144.3h2v2h-2zM99.4 149.2h2v2h-2zM68.4 140.3h2v2h-2zM85.3 149.0h2v2h-2zM77.2 144.7h2v2h-2zM82.0 149.0h2v2h-2zM88.9 148.9h2v2h-2zM72.3 134.9h2v2h-2zM94.7 143.5h2v2h-2zM97.7 148.6h2v2h-2zM81.3 128.8h2v2h-2zM98.2 145.8h2v2h-2zM81.6 144.3h2v2h-2zM95.9 128.3h2v2h-2zM75.8 146.8h2v2h-2zM83.1 146.9h2v2h-2zM96.9 119.5h2v2h-2zM97.3 131.3h2v2h-2zM68.8 135.6h2v2h-2zM102.7 144.4h2v2h-2zM76.1 129.1h2v2h-2zM90.5 145.8h2v2h-2zM86.7 146.5h2v2h-2zM83.0 149.5h2v2h-2zM67.5 144.6h2v2h-2zM103.1 148.9h2v2h-2zM101.9 138.5h2v2h-2zM97.1 142.3h2v2h-2zM99.9 133.5h2v2h-2zM90.8 149.7h2v2h-2zM92.2 147.6h2v2h-2zM87.1 147.6h2v2h-2zM90.0 130.2h2v2h-2zM86.3 147.8h2v2h-2zM102.4 145.7h2v2h-2zM78.2 147.4h2v2h-2zM71.3 142.0h2v2h-2zM102.6 143.1h2v2h-2zM76.8 144.5h2v2h-2zM86.8 145.2h2v2h-2zM71.4 148.8h2v2h-2zM77.8 148.9h2v2h-2zM77.6 146.0h2v2h-2zM70.0 147.9h2v2h-2zM98.2 144.0h2v2h-2zM88.1 142.8h2v2h-2zM74.3 142.0h2v2h-2zM84.0 140.5h2v2h-2zM89.7 143.9h2v2h-2zM78.4 145.2h2v2h-2zM75.1 147.9h2v2h-2zM81.1 144.5h2v2h-2zM67.2 143.3h2v2h-2zM99.1 146.7h2v2h-2zM87.6 147.9h2v2h-2zM77.4 144.8h2v2h-2zM77.8 116.4h2v2h-2zM72.7 138.7h2v2h-2zM99.4 149.5h2v2h-2zM69.1 145.6h2v2h-2zM83.2 146.3h2v2h-2zM70.8 139.8h2v2h-2zM102.7 148.1h2v2h-2zM72.5 139.7h2v2h-2zM80.0 146.9h2v2h-2zM89.9 141.4h2v2h-2zM97.5 135.5h2v2h-2zM94.5 144.4h2v2h-2zM95.2 139.6h2v2h-2zM96.2 145.1h2v2h-2zM101.1 140.6h2v2h-2zM99.4 149.0h2v2h-2zM95.5 150.0h2v2h-2zM85.4 143.3h2v2h-2zM88.2 124.8h2v2h-2zM96.1 145.9h2v2h-2zM89.5 134.2h2v2h-2zM83.7 146.4h2v2h-2zM93.9 145.3h2v2h-2zM81.4 147.4h2v2h-2zM81.2 143.8h2v2h-2zM96.3 147.0h2v2h-2zM85.5 135.5h2v2h-2zM73.7 145.5h2v2h-2zM72.2 147.2h2v2h-2zM88.6 143.4h2v2h-2zM101.3 149.3h2v2h-2zM98.4 147.0h2v2h-2zM102.7 136.1h2v2h-2zM82.7 148.3h2v2h-2zM67.2 131.5h2v2h-2zM87.9 149.6h2v2h-2zM101.3 144.7h2v2h-2zM86.9 138.6h2v2h-2zM86.1 144.4h2v2h-2zM81.4 141.2h2v2h-2zM89.1 146.6h2v2h-2zM102.3 146.7h2v2h-2zM86.4 141.4h2v2h-2zM80.8 149.2h2v2h-2zM87.8 146.1h2v2h-2zM99.7 143.5h2v2h-2zM85.0 124.4h2v2h-2zM90.2 145.6h2v2h-2zM86.6 146.8h2v2h-2zM73.2 137.0h2v2h-2zM103.4 147.1h2v2h-2zM86.0 136.6h2v2h-2zM100.3 149.1h2v2h-2zM97.5 141.0h2v2h-2zM100.1 114.5h2v2h-2zM72.6 145.8h2v2h-2zM85.9 147.4h2v2h-2zM73.8 144.6h2v2h-2zM90.4 148.5h2v2h-2zM80.0 142.9h2v2h-2zM90.6 111.1h2v2h-2zM82.2 149.7h2v2h-2zM78.3 138.1h2v2h-2zM66.9 141.0h2v2h-2zM98.3 147.2h2v2h-2zM91.8 143.3h2v2h-2zM85.4 148.3h2v2h-2zM76.7 143.8h2v2h-2zM86.7 142.0h2v2h-2zM82.2 143.5h2v2h-2zM72.6 149.0h2v2h-2zM70.7 139.1h2v2h-2zM73.1 149.2h2v2h-2zM97.6 144.3h2v2h-2zM97.0 142.7h2v2h-2zM67.2 149.5h2v2h-2zM78.9 138.7h2v2h-2zM80.0 140.4h2v2h-2zM76.7 148.6h2v2h-2zM100.6 149.2h2v2h-2zM79.8 143.3h2v2h-2zM81.2 145.4h2v2h-2zM100.1 149.6h2v2h-2zM102.7 143.3h2v2h-2zM90.0 145.6h2v2h-2zM68.4 147.8h2v2h-2zM98.8 129.5h2v2h-2zM100.5 147.1h2v2h-2zM78.1 137.0h2v2h-2zM102.8 142.9h2v2h-2zM102.4 144.8h2v2h-2zM81.4 147.9h2v2h-2zM75.1 140.3h2v2h-2zM99.6 147.2h2v2h-2zM96.5 144.9h2v2h-2zM73.3 147.9h2v2h-2zM73.7 146.6h2v2h-2zM77.7 122.7h2v2h-2zM71.1 143.7h2v2h-2zM81.2 144.2h2v2h-2zM69.2 146.1h2v2h-2zM97.7 149.0h2v2h-2zM75.9 146.7h2v2h-2zM77.4 148.4h2v2h-2zM68.1 147.9h2v2h-2zM79.6 141.6h2v2h-2zM93.2 148.7h2v2h-2zM76.9 149.3h2v2h-2zM71.5 136.2h2v2h-2zM98.1 145.5h2v2h-2zM72.7 137.5h2v2h-2zM93.8 146.7h2v2h-2zM102.7 146.4h2v2h-2zM102.4 148.2h2v2h-2zM75.3 144.6h2v2h-2zM71.7 145.4h2v2h-2zM76.5 140.6h2v2h-2zM88.8 132.4h2v2h-2zM76.0 146.5h2v2h-2zM74.7 142.8h2v2h-2zM71.4 134.2h2v2h-2zM87.1 144.5h2v2h-2zM95.7 147.6h2v2h-2zM91.4 146.3h2v2h-2zM78.4 143.6h2v2h-2zM165.4 147.0h2v2h-2zM163.4 145.2h2v2h-2zM162.2 147.0h2v2h-2zM150.4 118.2h2v2h-2zM150.0 148.0h2v2h-2zM145.5 140.4h2v2h-2zM141.7 142.2h2v2h-2zM160.1 143.5h2v2h-2zM158.7 143.9h2v2h-2zM163.0 147.3h2v2h-2zM165.8 147.3h2v2h-2zM154.3 126.8h2v2h-2zM149.1 145.6h2v2h-2zM153.4 137.6h2v2h-2zM141.7 127.9h2v2h-2zM164.1 143.2h2v2h-2zM154.7 141.3h2v2h-2zM143.1 147.5h2v2h-2zM164.9 145.8h2v2h-2zM145.6 133.9h2v2h-2zM139.9 128.4h2v2h-2zM167.1 141.2h2v2h-2zM166.4 145.0h2v2h-2zM140.5 140.1h2v2h-2zM152.0 145.1h2v2h-2zM160.5 146.1h2v2h-2zM161.8 146.7h2v2h-2zM141.0 145.5h2v2h-2zM141.8 142.0h2v2h-2zM161.9 142.1h2v2h-2zM152.4 141.3h2v2h-2zM153.9 148.0h2v2h-2zM157.8 147.5h2v2h-2zM155.8 147.2h2v2h-2zM149.9 144.9h2v2h-2zM143.8 139.9h2v2h-2zM166.3 146.8h2v2h-2zM163.4 145.2h2v2h-2zM152.9 132.4h2v2h-2zM141.7 147.0h2v2h-2zM142.4 132.1h2v2h-2zM154.5 143.0h2v2h-2zM152.6 147.3h2v2h-2zM154.5 146.9h2v2h-2zM149.6 142.8h2v2h-2zM150.7 146.6h2v2h-2zM142.7 146.5h2v2h-2zM164.3 146.1h2v2h-2zM164.8 142.9h2v2h-2zM166.4 148.1h2v2h-2zM161.9 143.1h2v2h-2zM159.0 141.8h2v2h-2zM160.8 146.3h2v2h-2zM146.7 147.0h2v2h-2zM150.4 148.0h2v2h-2zM147.5 142.7h2v2h-2zM141.4 131.3h2v2h-2zM145.8 141.6h2v2h-2zM161.7 141.3h2v2h-2zM140.8 138.7h2v2h-2zM156.4 146.1h2v2h-2zM140.2 117.0h2v2h-2zM159.1 140.9h2v2h-2zM148.9 135.3h2v2h-2zM152.4 135.5h2v2h-2zM139.3 128.8h2v2h-2zM150.9 126.6h2v2h-2zM141.6 144.2h2v2h-2zM160.3 146.1h2v2h-2zM143.4 139.5h2v2h-2zM143.1 145.0h2v2h-2zM145.4 146.6h2v2h-2zM167.3 145.2h2v2h-2zM152.9 136.2h2v2h-2zM161.6 143.0h2v2h-2zM160.8 130.0h2v2h-2zM144.8 140.5h2v2h-2zM163.5 140.7h2v2h-2zM141.7 136.4h2v2h-2zM149.1 138.6h2v2h-2zM167.0 146.9h2v2h-2zM160.6 139.7h2v2h-2zM163.0 147.1h2v2h-2zM165.2 127.0h2v2h-2zM163.1 137.8h2v2h-2zM156.1 135.8h2v2h-2zM162.9 143.9h2v2h-2zM164.3 136.5h2v2h-2zM166.9 145.5h2v2h-2zM166.4 142.4h2v2h-2zM167.1 147.3h2v2h-2zM146.3 136.4h2v2h-2zM145.7 134.3h2v2h-2zM152.3 146.6h2v2h-2zM153.3 146.2h2v2h-2zM158.9 130.0h2v2h-2zM150.4 138.8h2v2h-2zM162.0 136.5h2v2h-2zM166.3 139.4h2v2h-2zM150.8 134.9h2v2h-2zM157.9 147.6h2v2h-2zM148.8 134.4h2v2h-2zM163.3 141.3h2v2h-2zM139.1 136.2h2v2h-2zM139.5 143.1h2v2h-2zM162.6 147.4h2v2h-2zM156.5 144.1h2v2h-2zM148.7 143.6h2v2h-2zM149.3 146.4h2v2h-2zM157.0 134.0h2v2h-2zM141.6 145.6h2v2h-2zM159.3 145.8h2v2h-2zM158.2 143.8h2v2h-2zM142.5 135.6h2v2h-2zM140.2 139.4h2v2h-2zM144.3 135.0h2v2h-2zM166.8 145.8h2v2h-2zM145.5 144.8h2v2h-2zM156.7 131.3h2v2h-2zM150.4 131.1h2v2h-2zM166.7 142.9h2v2h-2zM167.7 142.8h2v2h-2zM163.1 146.6h2v2h-2zM154.3 146.9h2v2h-2zM144.1 148.2h2v2h-2zM152.2 126.0h2v2h-2zM146.3 135.5h2v2h-2zM141.9 144.9h2v2h-2zM164.0 142.1h2v2h-2zM149.9 142.7h2v2h-2zM164.9 128.0h2v2h-2zM141.2 139.8h2v2h-2zM151.9 140.8h2v2h-2zM149.5 124.0h2v2h-2zM157.3 140.0h2v2h-2zM154.1 144.6h2v2h-2zM165.3 139.6h2v2h-2zM149.5 143.0h2v2h-2zM140.7 119.6h2v2h-2zM158.8 134.4h2v2h-2zM152.0 142.0h2v2h-2zM164.8 137.6h2v2h-2zM160.7 138.2h2v2h-2zM148.4 148.0h2v2h-2zM166.6 147.1h2v2h-2zM143.2 131.2h2v2h-2zM155.7 141.5h2v2h-2zM150.4 147.9h2v2h-2zM157.6 137.7h2v2h-2zM161.1 145.7h2v2h-2zM154.8 145.6h2v2h-2zM167.4 144.1h2v2h-2zM162.3 140.2h2v2h-2zM150.0 139.6h2v2h-2zM159.6 123.0h2v2h-2zM147.0 139.3h2v2h-2zM155.7 146.9h2v2h-2zM162.0 134.9h2v2h-2zM143.1 145.0h2v2h-2zM164.4 142.7h2v2h-2zM160.4 146.9h2v2h-2zM148.0 146.8h2v2h-2zM147.6 147.8h2v2h-2zM167.0 144.5h2v2h-2zM144.4 123.2h2v2h-2zM166.4 145.4h2v2h-2zM148.3 146.6h2v2h-2zM142.1 143.8h2v2h-2zM150.4 145.9h2v2h-2zM166.9 144.5h2v2h-2zM144.9 145.9h2v2h-2zM152.1 129.9h2v2h-2zM157.5 134.3h2v2h-2zM148.1 136.7h2v2h-2zM161.0 147.0h2v2h-2zM155.2 143.4h2v2h-2zM160.8 139.7h2v2h-2zM149.5 145.8h2v2h-2zM154.4 129.1h2v2h-2zM157.3 145.6h2v2h-2zM161.4 145.9h2v2h-2zM163.0 147.9h2v2h-2zM149.3 141.8h2v2h-2zM146.7 126.7h2v2h-2zM141.0 146.1h2v2h-2zM160.9 142.2h2v2h-2zM151.0 139.6h2v2h-2zM142.2 135.6h2v2h-2zM157.7 145.4h2v2h-2zM157.4 122.0h2v2h-2zM161.5 139.2h2v2h-2zM166.3 144.4h2v2h-2zM148.9 137.9h2v2h-2zM162.4 144.4h2v2h-2zM144.4 145.0h2v2h-2zM154.4 132.5h2v2h-2zM158.4 142.6h2v2h-2zM142.9 130.5h2v2h-2zM140.9 145.1h2v2h-2zM153.6 144.2h2v2h-2zM158.4 133.6h2v2h-2zM150.7 141.6h2v2h-2zM146.9 141.7h2v2h-2zM161.9 134.0h2v2h-2zM143.4 134.3h2v2h-2zM160.9 139.7h2v2h-2zM165.1 142.9h2v2h-2zM160.5 130.7h2v2h-2zM157.8 135.1h2v2h-2zM142.8 132.1h2v2h-2zM159.4 138.9h2v2h-2zM147.0 141.0h2v2h-2zM156.5 147.7h2v2h-2zM146.9 134.9h2v2h-2zM145.5 146.4h2v2h-2zM158.6 147.5h2v2h-2zM162.3 120.0h2v2h-2zM159.3 144.8h2v2h-2zM163.3 147.7h2v2h-2zM139.1 145.2h2v2h-2zM143.0 140.6h2v2h-2zM140.7 145.8h2v2h-2zM155.1 143.7h2v2h-2zM140.1 135.6h2v2h-2zM142.2 134.8h2v2h-2zM157.3 146.3h2v2h-2zM148.6 145.1h2v2h-2zM145.3 141.8h2v2h-2zM145.1 136.2h2v2h-2zM162.5 134.2h2v2h-2zM139.9 142.3h2v2h-2zM139.8 136.7h2v2h-2zM151.3 142.9h2v2h-2zM157.3 147.8h2v2h-2zM156.0 138.4h2v2h-2zM153.9 144.3h2v2h-2zM145.6 141.4h2v2h-2zM167.9 132.7h2v2h-2zM166.9 135.8h2v2h-2zM167.6 145.2h2v2h-2zM152.9 147.7h2v2h-2zM152.2 147.1h2v2h-2zM159.5 139.5h2v2h-2zM148.9 143.6h2v2h-2zM150.7 146.6h2v2h-2zM144.6 145.7h2v2h-2zM154.0 138.0h2v2h-2zM144.7 143.8h2v2h-2zM144.7 138.9h2v2h-2zM155.2 145.9h2v2h-2zM167.2 139.0h2v2h-2zM166.5 137.7h2v2h-2zM160.0 128.9h2v2h-2zM140.8 138.5h2v2h-2zM139.4 146.5h2v2h-2zM159.9 133.0h2v2h-2zM146.6 140.6h2v2h-2zM143.7 144.9h2v2h-2zM167.8 140.6h2v2h-2zM140.3 145.5h2v2h-2zM149.3 146.8h2v2h-2zM162.3 130.7h2v2h-2zM142.0 143.6h2v2h-2zM143.5 147.4h2v2h-2zM152.7 136.7h2v2h-2zM165.4 112.5h2v2h-2zM152.8 136.1h2v2h-2zM142.7 135.0h2v2h-2zM155.3 147.4h2v2h-2zM145.1 142.8h2v2h-2zM139.6 146.0h2v2h-2zM159.6 129.9h2v2h-2zM167.4 126.0h2v2h-2zM160.2 143.8h2v2h-2zM162.5 144.5h2v2h-2zM142.9 134.1h2v2h-2zM145.2 148.2h2v2h-2zM150.0 141.5h2v2h-2zM163.1 148.2h2v2h-2zM152.4 136.4h2v2h-2zM164.8 147.9h2v2h-2zM141.1 142.4h2v2h-2zM157.1 145.3h2v2h-2zM153.1 131.7h2v2h-2zM145.0 140.4h2v2h-2zM165.3 146.1h2v2h-2zM142.0 144.6h2v2h-2zM142.7 141.4h2v2h-2zM152.2 146.5h2v2h-2zM157.5 141.5h2v2h-2zM151.7 138.8h2v2h-2zM160.0 147.7h2v2h-2zM152.6 147.8h2v2h-2zM158.5 144.3h2v2h-2zM146.0 138.7h2v2h-2zM159.1 140.2h2v2h-2zM143.1 143.4h2v2h-2zM156.4 129.9h2v2h-2zM145.9 147.8h2v2h-2zM145.6 115.1h2v2h-2zM161.9 144.4h2v2h-2zM157.4 134.9h2v2h-2zM140.1 137.9h2v2h-2zM167.3 147.5h2v2h-2zM140.1 135.8h2v2h-2zM146.0 147.9h2v2h-2zM145.4 127.8h2v2h-2zM166.0 139.7h2v2h-2zM165.7 140.4h2v2h-2zM143.4 145.9h2v2h-2zM161.0 148.1h2v2h-2zM167.2 147.4h2v2h-2zM144.4 138.8h2v2h-2zM143.7 135.6h2v2h-2zM142.1 142.7h2v2h-2zM164.8 136.4h2v2h-2zM139.1 129.2h2v2h-2zM155.1 133.6h2v2h-2zM153.6 135.0h2v2h-2zM156.2 140.8h2v2h-2zM141.3 135.9h2v2h-2zM154.8 147.8h2v2h-2zM150.5 145.6h2v2h-2zM160.6 148.2h2v2h-2zM163.1 148.1h2v2h-2zM152.3 135.5h2v2h-2zM157.9 147.3h2v2h-2zM151.4 146.5h2v2h-2zM167.3 147.4h2v2h-2zM149.2 142.2h2v2h-2zM160.2 147.5h2v2h-2zM163.6 133.7h2v2h-2zM149.7 147.4h2v2h-2zM161.1 145.5h2v2h-2zM156.6 147.0h2v2h-2zM161.3 118.8h2v2h-2zM141.2 148.2h2v2h-2zM159.1 147.3h2v2h-2zM154.1 141.2h2v2h-2zM150.8 143.6h2v2h-2zM157.8 141.0h2v2h-2zM160.2 129.2h2v2h-2zM165.5 136.0h2v2h-2zM159.8 134.3h2v2h-2zM158.7 148.0h2v2h-2zM151.5 133.7h2v2h-2zM144.2 132.1h2v2h-2zM151.8 126.3h2v2h-2zM146.3 138.9h2v2h-2zM149.1 145.5h2v2h-2zM141.7 145.2h2v2h-2zM167.4 143.8h2v2h-2zM166.0 140.1h2v2h-2zM163.3 137.2h2v2h-2zM160.8 108.7h2v2h-2zM146.2 145.8h2v2h-2zM139.6 144.2h2v2h-2zM164.7 146.2h2v2h-2zM148.5 128.8h2v2h-2zM161.5 137.0h2v2h-2zM162.0 131.3h2v2h-2zM142.0 142.4h2v2h-2zM148.1 134.9h2v2h-2zM149.6 140.7h2v2h-2zM167.0 142.3h2v2h-2zM154.4 146.9h2v2h-2zM154.6 140.2h2v2h-2zM150.8 126.9h2v2h-2zM159.0 129.5h2v2h-2zM141.6 122.0h2v2h-2zM147.3 146.4h2v2h-2zM139.4 130.1h2v2h-2zM159.8 145.9h2v2h-2zM144.1 113.2h2v2h-2zM158.9 143.8h2v2h-2zM160.6 139.3h2v2h-2zM146.2 137.5h2v2h-2zM139.8 146.0h2v2h-2zM145.1 139.2h2v2h-2zM167.0 145.9h2v2h-2zM156.1 140.3h2v2h-2zM156.3 140.1h2v2h-2zM147.8 139.1h2v2h-2zM140.9 147.7h2v2h-2zM149.5 148.1h2v2h-2zM142.3 147.1h2v2h-2zM167.1 143.0h2v2h-2zM146.9 139.3h2v2h-2zM144.2 137.0h2v2h-2zM147.8 147.4h2v2h-2zM159.0 144.2h2v2h-2zM160.1 143.7h2v2h-2zM166.0 147.5h2v2h-2zM163.1 145.0h2v2h-2zM163.0 148.0h2v2h-2zM163.8 146.3h2v2h-2zM158.5 135.8h2v2h-2zM139.3 145.8h2v2h-2zM165.2 146.6h2v2h-2zM158.1 146.9h2v2h-2zM158.2 141.5h2v2h-2zM143.2 146.7h2v2h-2zM167.5 147.5h2v2h-2zM157.9 144.5h2v2h-2zM145.5 141.8h2v2h-2zM139.4 147.7h2v2h-2zM142.8 133.6h2v2h-2zM149.5 123.0h2v2h-2zM143.0 138.4h2v2h-2zM146.3 136.4h2v2h-2zM154.2 144.8h2v2h-2zM146.2 147.3h2v2h-2zM147.3 136.1h2v2h-2zM161.2 144.6h2v2h-2zM144.6 146.3h2v2h-2zM150.1 146.4h2v2h-2zM157.6 144.8h2v2h-2zM164.2 143.4h2v2h-2zM158.2 147.9h2v2h-2zM145.8 134.4h2v2h-2zM151.7 148.0h2v2h-2zM152.3 147.3h2v2h-2zM141.7 138.7h2v2h-2zM152.9 147.3h2v2h-2zM145.7 146.8h2v2h-2zM142.4 143.8h2v2h-2zM149.5 147.7h2v2h-2zM166.2 143.4h2v2h-2zM141.1 142.0h2v2h-2zM160.6 146.3h2v2h-2zM164.2 141.9h2v2h-2zM163.9 123.1h2v2h-2zM166.4 147.4h2v2h-2zM146.0 142.5h2v2h-2zM164.1 146.8h2v2h-2zM141.4 146.4h2v2h-2zM165.8 145.9h2v2h-2zM160.2 143.5h2v2h-2zM152.1 147.7h2v2h-2zM145.0 145.3h2v2h-2zM149.5 139.9h2v2h-2zM167.5 147.3h2v2h-2zM144.2 143.2h2v2h-2zM157.9 148.2h2v2h-2zM139.7 142.7h2v2h-2zM160.5 143.4h2v2h-2zM218.9 115.8h2v2h-2zM212.6 135.3h2v2h-2zM210.3 128.2h2v2h-2zM222.7 142.2h2v2h-2zM216.6 130.4h2v2h-2zM204.6 132.5h2v2h-2zM220.3 138.2h2v2h-2zM223.0 117.9h2v2h-2zM216.6 141.6h2v2h-2zM209.2 136.8h2v2h-2zM202.1 141.5h2v2h-2zM211.6 138.1h2v2h-2zM208.2 140.6h2v2h-2zM218.7 136.8h2v2h-2zM202.8 136.1h2v2h-2zM208.2 126.3h2v2h-2zM224.5 118.3h2v2h-2zM213.9 141.8h2v2h-2zM208.7 116.8h2v2h-2zM206.8 136.9h2v2h-2zM203.9 142.7h2v2h-2zM206.0 141.9h2v2h-2zM213.4 135.3h2v2h-2zM216.7 120.3h2v2h-2zM223.7 139.5h2v2h-2zM212.9 135.3h2v2h-2zM216.3 127.7h2v2h-2zM214.5 139.5h2v2h-2zM224.2 140.2h2v2h-2zM224.3 140.8h2v2h-2zM198.8 142.4h2v2h-2zM204.0 136.8h2v2h-2zM201.6 137.5h2v2h-2zM216.2 129.1h2v2h-2zM223.1 134.1h2v2h-2zM217.4 134.3h2v2h-2zM199.8 142.9h2v2h-2zM224.2 138.7h2v2h-2zM213.6 140.1h2v2h-2zM209.5 142.9h2v2h-2zM214.1 125.1h2v2h-2zM198.8 129.6h2v2h-2zM203.2 141.2h2v2h-2zM201.2 129.3h2v2h-2zM205.6 122.3h2v2h-2zM212.2 126.7h2v2h-2zM224.1 140.0h2v2h-2zM217.0 139.0h2v2h-2zM220.5 142.4h2v2h-2zM201.4 112.5h2v2h-2zM205.7 132.4h2v2h-2zM208.2 141.7h2v2h-2zM223.8 134.6h2v2h-2zM215.8 135.5h2v2h-2zM217.7 141.6h2v2h-2zM208.0 136.8h2v2h-2zM205.3 125.3h2v2h-2zM202.7 141.8h2v2h-2zM214.1 141.7h2v2h-2zM202.7 130.6h2v2h-2zM213.7 137.6h2v2h-2zM209.4 136.7h2v2h-2zM198.9 136.9h2v2h-2zM209.7 142.5h2v2h-2zM218.6 140.9h2v2h-2zM220.3 140.8h2v2h-2zM201.0 140.8h2v2h-2zM208.8 138.0h2v2h-2zM218.8 139.8h2v2h-2zM216.3 141.0h2v2h-2zM210.5 129.2h2v2h-2zM223.0 137.6h2v2h-2zM203.3 135.9h2v2h-2zM200.7 142.4h2v2h-2zM200.9 139.9h2v2h-2zM209.7 134.9h2v2h-2zM212.1 140.1h2v2h-2zM205.0 121.8h2v2h-2zM206.6 141.7h2v2h-2zM222.6 140.0h2v2h-2zM209.9 133.6h2v2h-2zM199.7 141.6h2v2h-2zM221.0 142.0h2v2h-2zM202.6 135.0h2v2h-2zM200.0 135.4h2v2h-2zM207.4 137.5h2v2h-2zM218.2 142.1h2v2h-2zM212.0 133.3h2v2h-2zM216.2 141.5h2v2h-2zM216.0 138.6h2v2h-2zM222.4 142.2h2v2h-2zM204.4 142.9h2v2h-2zM203.8 139.1h2v2h-2zM216.7 142.3h2v2h-2zM205.6 139.8h2v2h-2zM204.4 134.4h2v2h-2zM216.7 139.0h2v2h-2zM202.6 138.6h2v2h-2zM212.9 142.4h2v2h-2zM201.1 123.6h2v2h-2zM211.4 137.6h2v2h-2zM216.3 141.3h2v2h-2zM219.9 137.7h2v2h-2zM223.2 140.3h2v2h-2zM211.0 130.0h2v2h-2zM211.3 141.8h2v2h-2zM216.7 141.9h2v2h-2zM213.8 133.8h2v2h-2zM199.7 114.3h2v2h-2zM219.7 133.3h2v2h-2zM207.0 142.0h2v2h-2zM213.9 142.5h2v2h-2zM207.7 133.1h2v2h-2zM208.2 133.8h2v2h-2zM205.8 133.4h2v2h-2zM210.1 113.6h2v2h-2zM200.9 142.9h2v2h-2zM221.4 133.0h2v2h-2zM202.6 135.2h2v2h-2zM217.5 127.2h2v2h-2zM208.6 142.0h2v2h-2zM198.6 134.4h2v2h-2zM207.9 142.6h2v2h-2zM224.9 127.0h2v2h-2zM222.6 140.0h2v2h-2zM221.4 131.1h2v2h-2zM224.2 136.2h2v2h-2zM223.6 135.0h2v2h-2zM203.7 136.6h2v2h-2zM211.3 137.3h2v2h-2zM208.4 139.8h2v2h-2zM214.1 137.5h2v2h-2zM205.9 141.0h2v2h-2zM211.9 137.6h2v2h-2zM216.1 138.8h2v2h-2zM212.6 141.4h2v2h-2zM218.9 140.5h2v2h-2zM219.2 133.6h2v2h-2zM205.1 137.4h2v2h-2zM212.0 123.0h2v2h-2zM206.2 139.4h2v2h-2zM217.3 139.0h2v2h-2zM211.3 129.9h2v2h-2zM204.1 132.9h2v2h-2zM208.0 138.3h2v2h-2zM208.0 140.2h2v2h-2zM217.9 132.2h2v2h-2zM204.7 141.2h2v2h-2zM215.8 131.2h2v2h-2zM215.3 134.3h2v2h-2zM205.7 133.9h2v2h-2zM208.1 142.5h2v2h-2zM224.0 142.7h2v2h-2zM216.3 137.3h2v2h-2zM219.8 116.9h2v2h-2zM207.4 141.0h2v2h-2zM219.6 142.1h2v2h-2zM211.4 132.7h2v2h-2zM205.7 139.4h2v2h-2zM217.4 137.8h2v2h-2zM221.0 125.7h2v2h-2zM210.1 127.5h2v2h-2zM206.8 138.8h2v2h-2zM203.4 114.9h2v2h-2zM205.9 141.6h2v2h-2zM221.1 123.4h2v2h-2zM221.1 139.9h2v2h-2zM209.8 126.0h2v2h-2zM219.0 141.3h2v2h-2zM201.7 139.4h2v2h-2zM210.1 125.1h2v2h-2zM214.3 139.1h2v2h-2zM199.0 140.7h2v2h-2zM208.6 139.2h2v2h-2zM208.4 142.9h2v2h-2zM207.3 132.0h2v2h-2zM215.1 134.2h2v2h-2zM199.0 141.4h2v2h-2zM214.7 134.4h2v2h-2zM203.8 140.3h2v2h-2zM222.6 128.1h2v2h-2zM214.0 140.9h2v2h-2zM207.0 136.4h2v2h-2zM207.1 142.7h2v2h-2zM214.5 135.0h2v2h-2zM201.7 137.5h2v2h-2zM206.8 141.1h2v2h-2zM208.1 138.8h2v2h-2zM201.6 125.1h2v2h-2zM204.9 110.0h2v2h-2zM205.0 128.1h2v2h-2zM208.5 136.2h2v2h-2zM219.6 142.7h2v2h-2zM205.6 130.2h2v2h-2zM211.2 131.5h2v2h-2zM199.9 109.7h2v2h-2zM204.5 139.3h2v2h-2zM219.1 135.4h2v2h-2zM213.0 128.8h2v2h-2zM219.7 139.2h2v2h-2zM205.4 142.1h2v2h-2zM210.2 132.2h2v2h-2zM210.7 142.2h2v2h-2zM198.6 141.1h2v2h-2zM200.9 142.2h2v2h-2zM210.0 139.4h2v2h-2zM206.2 137.5h2v2h-2zM212.2 133.7h2v2h-2zM203.0 112.2h2v2h-2zM211.6 137.5h2v2h-2zM221.3 139.4h2v2h-2zM221.8 141.2h2v2h-2zM207.4 139.6h2v2h-2zM213.4 135.6h2v2h-2zM200.7 140.4h2v2h-2zM208.3 119.1h2v2h-2zM215.9 142.0h2v2h-2zM207.2 137.1h2v2h-2zM220.9 139.9h2v2h-2zM209.6 139.8h2v2h-2zM208.1 118.9h2v2h-2zM202.8 139.0h2v2h-2zM216.1 134.6h2v2h-2zM209.3 138.4h2v2h-2zM219.4 140.9h2v2h-2zM220.5 138.3h2v2h-2zM217.9 139.4h2v2h-2zM204.3 142.7h2v2h-2zM216.6 118.2h2v2h-2zM211.7 134.3h2v2h-2zM203.7 138.1h2v2h-2zM215.6 141.5h2v2h-2zM205.4 133.9h2v2h-2zM202.1 135.0h2v2h-2zM203.0 135.7h2v2h-2zM206.8 137.5h2v2h-2zM202.1 136.8h2v2h-2zM214.8 137.9h2v2h-2zM206.7 141.8h2v2h-2zM213.0 134.3h2v2h-2zM219.2 135.6h2v2h-2zM204.4 136.5h2v2h-2zM220.5 138.5h2v2h-2zM218.5 136.5h2v2h-2zM210.4 139.5h2v2h-2zM220.3 116.1h2v2h-2zM201.3 134.8h2v2h-2zM199.4 135.7h2v2h-2zM224.3 122.1h2v2h-2zM205.6 133.0h2v2h-2zM203.2 128.6h2v2h-2zM212.3 129.5h2v2h-2zM222.1 142.8h2v2h-2zM220.5 138.5h2v2h-2zM212.6 134.0h2v2h-2zM203.9 127.7h2v2h-2zM207.5 125.4h2v2h-2zM207.4 142.8h2v2h-2zM200.4 142.4h2v2h-2zM201.7 135.5h2v2h-2zM206.3 141.6h2v2h-2zM222.9 140.5h2v2h-2zM221.6 124.9h2v2h-2zM219.6 138.5h2v2h-2zM223.1 140.4h2v2h-2zM217.9 130.2h2v2h-2zM200.9 141.0h2v2h-2zM213.1 123.1h2v2h-2zM221.3 135.7h2v2h-2zM217.0 141.8h2v2h-2zM219.3 138.2h2v2h-2zM203.7 138.3h2v2h-2zM206.0 119.0h2v2h-2zM220.5 132.5h2v2h-2zM216.9 140.8h2v2h-2zM204.4 139.1h2v2h-2zM223.8 141.1h2v2h-2zM212.0 139.4h2v2h-2zM199.2 137.6h2v2h-2zM218.2 132.2h2v2h-2zM208.0 127.0h2v2h-2zM207.7 141.2h2v2h-2zM215.9 132.9h2v2h-2zM212.4 139.0h2v2h-2zM222.8 141.7h2v2h-2zM211.9 138.1h2v2h-2zM203.7 131.1h2v2h-2zM207.9 133.1h2v2h-2zM201.0 130.1h2v2h-2zM215.3 140.5h2v2h-2zM208.5 137.9h2v2h-2zM204.3 136.3h2v2h-2zM198.6 138.5h2v2h-2zM205.2 130.7h2v2h-2zM213.1 129.3h2v2h-2zM215.1 135.9h2v2h-2zM219.1 141.9h2v2h-2zM221.4 140.3h2v2h-2zM216.5 131.1h2v2h-2zM210.1 130.0h2v2h-2zM223.7 134.4h2v2h-2zM201.2 141.3h2v2h-2zM212.0 138.9h2v2h-2zM204.4 141.7h2v2h-2zM208.8 127.5h2v2h-2zM203.3 141.7h2v2h-2zM203.5 136.4h2v2h-2zM212.7 138.0h2v2h-2zM211.8 138.5h2v2h-2zM198.9 129.1h2v2h-2zM203.8 122.6h2v2h-2zM218.8 142.7h2v2h-2zM212.8 136.5h2v2h-2zM219.2 141.1h2v2h-2zM217.8 140.2h2v2h-2zM213.7 141.0h2v2h-2zM208.3 134.9h2v2h-2zM200.2 137.9h2v2h-2zM216.8 135.1h2v2h-2zM213.1 141.7h2v2h-2zM201.2 132.8h2v2h-2zM221.6 129.0h2v2h-2zM205.1 142.6h2v2h-2zM205.2 142.3h2v2h-2zM211.5 142.3h2v2h-2zM206.5 140.7h2v2h-2zM208.3 138.2h2v2h-2zM217.7 131.0h2v2h-2zM204.4 142.0h2v2h-2zM207.2 142.9h2v2h-2zM217.0 142.1h2v2h-2zM224.9 131.3h2v2h-2zM199.5 141.2h2v2h-2zM209.4 132.1h2v2h-2zM208.9 122.5h2v2h-2zM200.4 140.1h2v2h-2zM212.1 120.3h2v2h-2zM210.1 138.5h2v2h-2zM220.5 131.7h2v2h-2zM203.2 138.0h2v2h-2zM222.1 139.0h2v2h-2zM216.0 138.9h2v2h-2zM210.7 136.7h2v2h-2zM205.0 136.4h2v2h-2zM221.4 136.7h2v2h-2zM208.3 142.3h2v2h-2zM224.4 126.7h2v2h-2zM215.1 142.9h2v2h-2zM220.8 135.3h2v2h-2zM202.0 138.1h2v2h-2zM217.4 140.2h2v2h-2zM203.9 133.0h2v2h-2zM215.9 135.1h2v2h-2zM199.1 134.7h2v2h-2zM207.1 138.5h2v2h-2zM207.4 136.0h2v2h-2zM216.3 141.9h2v2h-2zM219.5 140.4h2v2h-2zM213.0 140.2h2v2h-2zM201.6 130.3h2v2h-2zM200.3 132.9h2v2h-2zM199.2 121.9h2v2h-2zM208.3 133.1h2v2h-2zM209.0 141.4h2v2h-2zM209.5 137.6h2v2h-2zM212.4 142.0h2v2h-2zM224.1 140.2h2v2h-2zM210.0 139.3h2v2h-2zM224.2 141.0h2v2h-2zM215.6 140.0h2v2h-2zM208.9 129.3h2v2h-2zM205.9 132.2h2v2h-2zM199.6 142.1h2v2h-2zM221.7 138.4h2v2h-2zM210.2 141.2h2v2h-2zM205.8 131.9h2v2h-2zM212.3 141.7h2v2h-2zM223.4 138.7h2v2h-2zM204.8 125.5h2v2h-2zM209.5 136.6h2v2h-2zM210.3 142.7h2v2h-2zM206.5 124.0h2v2h-2zM217.3 136.2h2v2h-2zM223.0 142.5h2v2h-2zM206.5 142.1h2v2h-2zM199.0 133.3h2v2h-2zM201.9 139.3h2v2h-2zM198.9 138.0h2v2h-2zM204.4 141.7h2v2h-2zM200.9 142.3h2v2h-2zM212.2 141.3h2v2h-2zM220.3 141.8h2v2h-2zM205.2 138.8h2v2h-2zM220.7 140.8h2v2h-2zM218.2 142.6h2v2h-2zM223.5 142.2h2v2h-2zM214.3 138.9h2v2h-2zM201.2 127.7h2v2h-2zM216.9 142.4h2v2h-2zM217.6 136.2h2v2h-2zM211.7 140.5h2v2h-2zM210.1 141.4h2v2h-2zM214.0 140.4h2v2h-2zM205.8 140.2h2v2h-2zM200.8 135.1h2v2h-2zM266.9 127.0h2v2h-2zM265.6 138.3h2v2h-2zM269.1 141.3h2v2h-2zM256.0 140.0h2v2h-2zM262.1 142.2h2v2h-2zM265.0 142.1h2v2h-2zM261.5 143.0h2v2h-2zM261.1 142.2h2v2h-2zM255.1 119.1h2v2h-2zM268.4 146.4h2v2h-2zM262.7 142.6h2v2h-2zM261.0 139.6h2v2h-2zM253.6 144.4h2v2h-2zM273.0 130.6h2v2h-2zM263.0 143.9h2v2h-2zM254.5 143.5h2v2h-2zM270.8 129.4h2v2h-2zM258.6 144.4h2v2h-2zM270.0 137.3h2v2h-2zM261.4 141.6h2v2h-2zM270.0 144.4h2v2h-2zM271.3 131.2h2v2h-2zM265.7 145.6h2v2h-2zM268.3 114.2h2v2h-2zM256.3 141.8h2v2h-2zM268.6 146.0h2v2h-2zM270.2 145.9h2v2h-2zM263.2 138.1h2v2h-2zM272.8 129.5h2v2h-2zM255.3 139.1h2v2h-2zM262.1 139.7h2v2h-2zM272.8 144.3h2v2h-2zM255.8 136.4h2v2h-2zM260.4 144.5h2v2h-2zM260.1 140.0h2v2h-2zM270.3 142.0h2v2h-2zM268.4 144.9h2v2h-2zM273.1 143.4h2v2h-2zM260.1 123.2h2v2h-2zM255.6 139.3h2v2h-2zM266.3 142.4h2v2h-2zM260.4 138.7h2v2h-2zM255.9 146.2h2v2h-2zM256.8 140.2h2v2h-2zM266.2 143.7h2v2h-2zM264.1 128.8h2v2h-2zM265.6 144.2h2v2h-2zM269.7 144.0h2v2h-2zM258.8 145.2h2v2h-2zM272.3 142.1h2v2h-2zM257.3 145.1h2v2h-2zM257.7 145.4h2v2h-2zM261.5 143.4h2v2h-2zM261.7 135.6h2v2h-2zM261.6 141.5h2v2h-2zM272.2 135.1h2v2h-2zM272.6 142.2h2v2h-2zM273.8 144.3h2v2h-2zM267.6 140.8h2v2h-2zM259.0 142.8h2v2h-2zM271.8 145.4h2v2h-2zM267.9 143.1h2v2h-2zM264.3 141.8h2v2h-2zM257.0 144.7h2v2h-2zM267.6 143.3h2v2h-2zM253.3 140.5h2v2h-2zM262.3 137.0h2v2h-2zM258.7 145.9h2v2h-2zM270.5 144.7h2v2h-2zM260.1 140.4h2v2h-2zM259.4 144.3h2v2h-2zM260.5 144.0h2v2h-2zM269.8 134.5h2v2h-2zM271.8 137.3h2v2h-2zM255.6 138.4h2v2h-2zM256.7 146.1h2v2h-2zM264.3 144.2h2v2h-2zM265.6 133.3h2v2h-2zM258.3 142.2h2v2h-2zM269.1 115.8h2v2h-2zM254.2 143.3h2v2h-2zM258.6 115.7h2v2h-2zM255.7 132.1h2v2h-2zM260.7 138.4h2v2h-2zM259.5 129.6h2v2h-2zM257.4 145.7h2v2h-2zM273.8 133.9h2v2h-2zM267.6 138.6h2v2h-2zM259.0 143.9h2v2h-2zM273.9 145.8h2v2h-2zM266.1 146.1h2v2h-2zM257.2 143.2h2v2h-2zM272.8 142.1h2v2h-2zM256.7 144.3h2v2h-2zM267.0 138.9h2v2h-2zM257.0 141.0h2v2h-2zM255.6 130.6h2v2h-2zM258.3 145.0h2v2h-2zM263.3 141.0h2v2h-2zM268.5 140.3h2v2h-2zM263.1 129.3h2v2h-2zM270.7 146.2h2v2h-2zM259.9 146.3h2v2h-2zM265.9 145.3h2v2h-2zM256.0 134.8h2v2h-2zM271.1 143.8h2v2h-2zM255.5 137.5h2v2h-2zM269.9 137.6h2v2h-2zM256.5 142.5h2v2h-2zM260.0 138.2h2v2h-2zM256.7 145.4h2v2h-2zM255.9 142.5h2v2h-2zM264.8 142.8h2v2h-2zM261.7 140.3h2v2h-2zM255.1 134.1h2v2h-2zM272.9 143.4h2v2h-2zM272.6 131.2h2v2h-2zM264.5 135.4h2v2h-2zM265.3 134.6h2v2h-2zM258.6 145.5h2v2h-2zM271.6 145.7h2v2h-2zM261.8 143.5h2v2h-2zM255.4 140.6h2v2h-2zM270.0 137.1h2v2h-2zM271.8 134.3h2v2h-2zM256.3 143.6h2v2h-2zM267.8 135.5h2v2h-2zM260.5 142.9h2v2h-2zM270.7 145.2h2v2h-2zM270.3 141.8h2v2h-2zM260.0 143.3h2v2h-2zM268.9 141.0h2v2h-2zM260.7 130.1h2v2h-2zM261.7 137.4h2v2h-2zM269.2 131.3h2v2h-2zM260.9 140.3h2v2h-2zM271.8 144.0h2v2h-2zM259.7 134.1h2v2h-2zM257.3 145.8h2v2h-2zM254.1 121.0h2v2h-2zM264.4 133.8h2v2h-2zM264.6 140.3h2v2h-2zM265.0 142.4h2v2h-2zM272.6 145.8h2v2h-2zM256.2 145.7h2v2h-2zM266.7 137.9h2v2h-2zM267.8 133.9h2v2h-2zM254.3 126.0h2v2h-2zM258.2 146.4h2v2h-2zM256.5 134.9h2v2h-2zM269.4 140.7h2v2h-2zM264.3 145.2h2v2h-2zM268.9 128.8h2v2h-2zM263.3 142.6h2v2h-2zM273.4 144.0h2v2h-2zM267.5 134.8h2v2h-2zM268.6 143.7h2v2h-2zM270.0 141.4h2v2h-2zM271.8 143.0h2v2h-2zM262.7 137.6h2v2h-2zM270.2 140.1h2v2h-2zM273.4 140.7h2v2h-2zM272.1 146.4h2v2h-2zM263.5 136.9h2v2h-2zM256.4 131.9h2v2h-2zM268.2 143.3h2v2h-2zM261.1 133.2h2v2h-2zM254.2 138.5h2v2h-2zM254.9 145.5h2v2h-2zM260.0 140.0h2v2h-2zM262.6 144.2h2v2h-2zM272.3 145.9h2v2h-2zM265.0 132.5h2v2h-2zM259.7 142.0h2v2h-2zM260.5 139.4h2v2h-2zM273.3 118.1h2v2h-2zM270.6 136.5h2v2h-2zM255.8 145.9h2v2h-2zM255.9 143.2h2v2h-2zM274.0 142.3h2v2h-2zM273.4 132.7h2v2h-2zM257.9 144.6h2v2h-2zM259.0 146.3h2v2h-2zM264.3 146.0h2v2h-2zM267.4 143.7h2v2h-2zM265.8 140.2h2v2h-2zM268.7 143.8h2v2h-2zM268.2 137.5h2v2h-2zM263.0 141.6h2v2h-2zM254.1 143.9h2v2h-2zM266.2 141.7h2v2h-2zM271.3 144.9h2v2h-2zM271.2 130.3h2v2h-2zM263.5 133.5h2v2h-2zM258.9 145.0h2v2h-2zM273.9 136.2h2v2h-2zM253.4 145.6h2v2h-2zM260.6 143.1h2v2h-2zM255.6 139.5h2v2h-2zM260.3 132.3h2v2h-2zM260.2 128.1h2v2h-2zM256.9 143.7h2v2h-2zM265.6 120.6h2v2h-2zM254.6 133.1h2v2h-2zM268.6 140.5h2v2h-2zM272.9 114.9h2v2h-2zM261.1 145.6h2v2h-2zM273.3 140.6h2v2h-2zM253.8 144.2h2v2h-2zM258.8 124.1h2v2h-2zM260.8 140.2h2v2h-2zM272.9 139.9h2v2h-2zM271.7 124.0h2v2h-2zM270.5 144.2h2v2h-2zM262.0 146.3h2v2h-2zM258.6 124.4h2v2h-2zM265.5 143.0h2v2h-2zM268.1 144.4h2v2h-2zM255.2 138.4h2v2h-2zM254.8 127.1h2v2h-2zM260.6 137.3h2v2h-2zM254.9 145.3h2v2h-2zM262.9 134.2h2v2h-2zM273.6 134.4h2v2h-2zM264.4 126.5h2v2h-2zM264.1 144.0h2v2h-2zM268.6 116.0h2v2h-2zM271.0 138.0h2v2h-2zM265.0 142.5h2v2h-2zM257.4 132.0h2v2h-2zM253.8 131.5h2v2h-2zM265.3 140.6h2v2h-2zM272.6 145.3h2v2h-2zM257.1 142.0h2v2h-2zM265.7 142.4h2v2h-2zM253.3 142.2h2v2h-2zM268.2 145.7h2v2h-2zM258.6 145.4h2v2h-2zM271.3 133.9h2v2h-2zM256.9 130.1h2v2h-2zM269.1 146.4h2v2h-2zM260.9 139.5h2v2h-2zM262.3 146.3h2v2h-2zM265.6 144.4h2v2h-2zM257.6 116.2h2v2h-2zM267.8 145.9h2v2h-2zM257.9 145.6h2v2h-2zM274.0 142.1h2v2h-2zM259.9 143.5h2v2h-2zM256.7 141.5h2v2h-2zM268.0 142.5h2v2h-2zM270.0 143.5h2v2h-2zM255.4 144.9h2v2h-2zM262.8 138.9h2v2h-2zM255.5 127.3h2v2h-2zM267.3 136.0h2v2h-2zM255.9 142.9h2v2h-2zM269.2 139.2h2v2h-2zM263.2 141.6h2v2h-2zM266.0 137.6h2v2h-2zM257.2 142.3h2v2h-2zM264.8 141.7h2v2h-2zM274.1 129.1h2v2h-2zM260.1 140.2h2v2h-2zM266.5 144.6h2v2h-2zM258.5 136.2h2v2h-2zM274.2 137.5h2v2h-2zM273.0 142.7h2v2h-2zM266.9 142.1h2v2h-2zM257.5 131.0h2v2h-2zM273.9 143.2h2v2h-2zM259.7 146.0h2v2h-2zM268.9 141.5h2v2h-2zM272.8 138.9h2v2h-2zM253.3 138.0h2v2h-2zM254.0 145.9h2v2h-2zM253.8 142.2h2v2h-2zM266.5 140.8h2v2h-2zM271.2 144.8h2v2h-2zM273.4 142.4h2v2h-2zM266.3 143.1h2v2h-2zM258.8 140.5h2v2h-2zM253.3 134.9h2v2h-2zM260.0 144.3h2v2h-2zM263.8 130.1h2v2h-2zM259.5 146.2h2v2h-2zM270.2 139.3h2v2h-2zM269.6 145.6h2v2h-2zM264.3 142.7h2v2h-2zM262.5 142.3h2v2h-2zM272.5 110.8h2v2h-2zM268.7 127.3h2v2h-2zM256.2 137.3h2v2h-2zM270.7 146.2h2v2h-2zM266.5 137.9h2v2h-2zM258.9 143.6h2v2h-2zM264.4 127.0h2v2h-2zM260.4 146.3h2v2h-2zM254.7 143.2h2v2h-2zM272.2 117.2h2v2h-2zM253.3 133.6h2v2h-2zM255.6 142.3h2v2h-2zM270.2 136.6h2v2h-2zM269.9 134.5h2v2h-2zM253.5 145.5h2v2h-2zM270.9 145.7h2v2h-2zM264.1 132.9h2v2h-2zM271.2 144.4h2v2h-2zM260.1 145.5h2v2h-2zM273.9 146.5h2v2h-2zM269.4 142.4h2v2h-2zM265.5 134.1h2v2h-2zM269.5 113.2h2v2h-2zM273.5 126.4h2v2h-2zM269.0 145.8h2v2h-2zM260.1 144.5h2v2h-2zM274.0 143.3h2v2h-2zM262.4 146.0h2v2h-2zM274.2 145.4h2v2h-2zM268.0 141.2h2v2h-2zM269.4 140.9h2v2h-2zM261.9 143.3h2v2h-2zM268.0 136.0h2v2h-2zM259.7 129.7h2v2h-2zM268.7 132.0h2v2h-2zM261.8 140.0h2v2h-2zM254.9 140.1h2v2h-2zM259.8 145.7h2v2h-2zM254.3 145.5h2v2h-2zM318.8 143.1h2v2h-2zM301.5 144.0h2v2h-2zM306.1 139.5h2v2h-2zM299.6 135.8h2v2h-2zM306.4 136.9h2v2h-2zM305.1 125.5h2v2h-2zM305.4 141.3h2v2h-2zM304.6 139.8h2v2h-2zM307.4 137.1h2v2h-2zM304.9 136.2h2v2h-2zM310.4 140.9h2v2h-2zM312.5 135.9h2v2h-2zM300.6 141.3h2v2h-2zM301.8 144.7h2v2h-2zM302.6 144.0h2v2h-2zM305.9 137.3h2v2h-2zM303.7 127.3h2v2h-2zM302.6 143.4h2v2h-2zM313.1 144.4h2v2h-2zM304.0 139.0h2v2h-2zM312.9 132.9h2v2h-2zM311.5 141.3h2v2h-2zM308.0 137.4h2v2h-2zM306.4 144.9h2v2h-2zM306.6 123.2h2v2h-2zM300.6 137.8h2v2h-2zM316.9 134.2h2v2h-2zM306.6 142.0h2v2h-2zM304.0 140.1h2v2h-2zM301.5 143.8h2v2h-2zM309.4 136.7h2v2h-2zM319.0 121.6h2v2h-2zM318.6 129.7h2v2h-2zM299.3 131.6h2v2h-2zM319.2 144.5h2v2h-2zM311.7 129.7h2v2h-2zM307.9 138.2h2v2h-2zM301.8 141.4h2v2h-2zM304.5 139.5h2v2h-2zM317.0 144.6h2v2h-2zM317.1 139.0h2v2h-2zM310.9 142.9h2v2h-2zM316.2 143.1h2v2h-2zM312.4 143.8h2v2h-2zM305.6 139.4h2v2h-2zM309.0 145.0h2v2h-2zM315.9 139.9h2v2h-2zM302.6 143.9h2v2h-2zM315.6 142.8h2v2h-2zM312.1 143.6h2v2h-2zM300.5 145.4h2v2h-2zM309.2 136.2h2v2h-2zM308.7 144.7h2v2h-2zM307.0 124.0h2v2h-2zM307.6 139.4h2v2h-2zM299.7 140.2h2v2h-2zM310.9 129.2h2v2h-2zM304.7 142.3h2v2h-2zM318.4 144.0h2v2h-2zM306.7 131.5h2v2h-2zM310.4 138.5h2v2h-2zM299.4 143.9h2v2h-2zM302.2 135.4h2v2h-2zM299.1 139.2h2v2h-2zM302.2 145.4h2v2h-2zM311.6 137.5h2v2h-2zM312.6 109.4h2v2h-2zM299.0 139.9h2v2h-2zM309.0 121.3h2v2h-2zM299.6 130.6h2v2h-2zM308.7 131.8h2v2h-2zM307.3 143.7h2v2h-2zM310.9 145.0h2v2h-2zM313.5 143.7h2v2h-2zM313.2 144.1h2v2h-2zM313.7 138.2h2v2h-2zM305.0 122.6h2v2h-2zM307.1 136.8h2v2h-2zM316.1 128.4h2v2h-2zM311.3 134.5h2v2h-2zM317.8 143.3h2v2h-2zM318.7 119.0h2v2h-2zM316.0 142.4h2v2h-2zM316.4 136.9h2v2h-2zM308.3 133.2h2v2h-2zM315.5 141.7h2v2h-2zM310.1 137.5h2v2h-2zM299.4 129.7h2v2h-2zM308.5 145.5h2v2h-2zM316.4 144.8h2v2h-2zM317.3 144.9h2v2h-2zM301.6 143.6h2v2h-2zM313.0 134.9h2v2h-2zM311.3 141.6h2v2h-2zM318.7 139.4h2v2h-2zM310.1 140.2h2v2h-2zM307.4 140.9h2v2h-2zM301.1 136.6h2v2h-2zM318.3 136.6h2v2h-2zM310.2 134.6h2v2h-2zM300.8 142.3h2v2h-2zM310.1 144.9h2v2h-2zM316.9 129.3h2v2h-2zM314.5 144.0h2v2h-2zM308.8 133.0h2v2h-2zM302.7 130.6h2v2h-2zM309.5 142.5h2v2h-2zM308.2 135.7h2v2h-2zM317.0 142.8h2v2h-2zM307.6 141.8h2v2h-2zM308.9 143.7h2v2h-2zM306.3 136.2h2v2h-2zM309.1 137.3h2v2h-2zM319.0 145.5h2v2h-2zM310.2 143.0h2v2h-2zM303.1 121.1h2v2h-2zM303.1 145.1h2v2h-2zM316.6 144.3h2v2h-2zM299.6 140.0h2v2h-2zM309.5 143.2h2v2h-2zM305.2 144.1h2v2h-2zM308.1 127.6h2v2h-2zM311.3 143.6h2v2h-2zM309.7 144.7h2v2h-2zM300.6 137.6h2v2h-2zM305.2 139.5h2v2h-2zM311.7 135.1h2v2h-2zM311.5 127.2h2v2h-2zM302.6 144.1h2v2h-2zM315.8 136.3h2v2h-2zM307.5 145.1h2v2h-2zM308.6 143.1h2v2h-2zM310.5 129.8h2v2h-2zM314.8 135.2h2v2h-2zM311.7 143.1h2v2h-2zM308.7 142.0h2v2h-2zM312.8 139.8h2v2h-2zM316.4 144.2h2v2h-2zM305.3 144.3h2v2h-2zM319.4 131.1h2v2h-2zM318.7 142.1h2v2h-2zM318.8 145.3h2v2h-2zM299.5 143.9h2v2h-2zM302.1 134.6h2v2h-2zM298.9 134.9h2v2h-2zM306.3 144.6h2v2h-2zM308.6 144.9h2v2h-2zM314.3 142.3h2v2h-2zM319.0 140.4h2v2h-2zM302.3 131.4h2v2h-2zM317.5 126.5h2v2h-2zM309.8 139.2h2v2h-2zM305.5 144.2h2v2h-2zM302.9 143.7h2v2h-2zM305.6 138.3h2v2h-2zM310.8 134.4h2v2h-2zM300.6 132.1h2v2h-2zM309.4 131.2h2v2h-2zM303.8 137.9h2v2h-2zM307.3 136.5h2v2h-2zM311.0 135.8h2v2h-2zM305.1 144.4h2v2h-2zM299.1 134.9h2v2h-2zM310.2 137.9h2v2h-2zM305.7 136.0h2v2h-2zM308.8 140.6h2v2h-2zM300.3 135.0h2v2h-2zM304.2 140.1h2v2h-2zM304.2 138.8h2v2h-2zM303.6 143.8h2v2h-2zM306.4 128.3h2v2h-2zM314.2 129.3h2v2h-2zM310.4 143.2h2v2h-2zM318.3 145.5h2v2h-2zM301.1 138.0h2v2h-2zM309.1 140.0h2v2h-2zM304.8 137.1h2v2h-2zM311.8 127.2h2v2h-2zM315.9 145.0h2v2h-2zM305.1 129.1h2v2h-2zM316.8 136.1h2v2h-2zM300.2 129.2h2v2h-2zM304.0 131.7h2v2h-2zM313.2 133.2h2v2h-2zM317.7 140.8h2v2h-2zM319.6 133.1h2v2h-2zM310.8 121.2h2v2h-2zM312.8 135.4h2v2h-2zM309.2 141.7h2v2h-2zM303.3 140.2h2v2h-2zM316.5 143.3h2v2h-2zM313.4 131.3h2v2h-2zM309.5 136.7h2v2h-2zM312.7 139.1h2v2h-2zM308.1 145.5h2v2h-2zM303.1 118.8h2v2h-2zM300.4 140.8h2v2h-2zM316.1 143.3h2v2h-2zM315.5 145.3h2v2h-2zM317.0 133.3h2v2h-2zM318.3 143.3h2v2h-2zM308.2 142.0h2v2h-2zM310.2 122.5h2v2h-2zM301.1 136.8h2v2h-2zM304.3 145.6h2v2h-2zM316.1 144.7h2v2h-2zM318.9 143.4h2v2h-2zM302.8 136.9h2v2h-2zM305.4 136.1h2v2h-2zM300.3 139.9h2v2h-2zM315.3 131.9h2v2h-2zM313.3 138.9h2v2h-2zM301.4 142.4h2v2h-2zM314.3 142.6h2v2h-2zM301.6 139.3h2v2h-2zM308.7 143.5h2v2h-2zM299.7 145.5h2v2h-2zM301.6 141.0h2v2h-2zM301.5 128.8h2v2h-2zM315.4 135.0h2v2h-2zM310.1 142.7h2v2h-2zM306.9 138.2h2v2h-2zM304.2 117.0h2v2h-2zM305.3 121.8h2v2h-2zM305.4 141.4h2v2h-2zM317.3 137.5h2v2h-2zM302.6 136.6h2v2h-2zM313.9 110.1h2v2h-2zM316.6 140.2h2v2h-2zM311.3 144.7h2v2h-2zM315.1 133.8h2v2h-2zM300.1 137.0h2v2h-2zM304.4 140.6h2v2h-2zM307.1 138.4h2v2h-2zM310.0 140.9h2v2h-2zM317.4 138.8h2v2h-2zM304.5 143.1h2v2h-2zM301.1 144.0h2v2h-2zM318.1 131.1h2v2h-2zM306.3 144.6h2v2h-2zM316.9 127.6h2v2h-2zM319.6 116.2h2v2h-2zM300.1 142.8h2v2h-2zM309.3 143.4h2v2h-2zM304.1 145.5h2v2h-2zM313.1 140.7h2v2h-2zM301.3 144.3h2v2h-2zM300.7 142.5h2v2h-2zM300.9 144.6h2v2h-2zM317.2 133.3h2v2h-2zM315.6 145.3h2v2h-2zM312.4 131.4h2v2h-2zM316.0 142.9h2v2h-2zM299.7 145.0h2v2h-2zM303.4 121.9h2v2h-2zM314.6 126.7h2v2h-2zM300.7 145.2h2v2h-2zM301.8 137.6h2v2h-2zM312.9 137.2h2v2h-2zM308.8 143.6h2v2h-2zM317.0 143.8h2v2h-2zM313.3 138.0h2v2h-2zM300.0 138.2h2v2h-2zM315.1 129.0h2v2h-2zM311.2 140.1h2v2h-2zM314.6 140.4h2v2h-2zM304.6 139.8h2v2h-2zM303.2 140.0h2v2h-2zM309.7 145.6h2v2h-2zM313.9 129.9h2v2h-2zM309.4 143.8h2v2h-2zM310.9 138.9h2v2h-2zM309.4 140.9h2v2h-2zM317.3 136.7h2v2h-2zM315.2 140.0h2v2h-2zM301.3 136.9h2v2h-2zM305.3 143.3h2v2h-2zM309.1 142.3h2v2h-2zM319.7 142.9h2v2h-2zM306.5 135.4h2v2h-2zM318.2 136.4h2v2h-2zM312.0 144.3h2v2h-2zM306.6 121.2h2v2h-2zM315.6 129.5h2v2h-2zM301.8 142.6h2v2h-2zM307.5 133.0h2v2h-2zM308.5 142.3h2v2h-2zM317.5 135.6h2v2h-2zM314.8 126.6h2v2h-2zM306.5 144.1h2v2h-2zM303.0 145.5h2v2h-2zM302.5 142.4h2v2h-2zM301.5 140.6h2v2h-2zM307.4 137.5h2v2h-2zM313.2 143.4h2v2h-2zM299.3 142.6h2v2h-2zM314.6 131.6h2v2h-2zM304.9 129.5h2v2h-2zM313.4 143.3h2v2h-2zM319.0 144.4h2v2h-2zM310.3 137.5h2v2h-2zM304.7 145.2h2v2h-2zM319.3 141.4h2v2h-2zM311.2 144.4h2v2h-2zM319.1 145.0h2v2h-2zM315.8 135.1h2v2h-2zM302.5 135.0h2v2h-2zM299.6 143.5h2v2h-2zM300.5 139.5h2v2h-2zM302.4 144.0h2v2h-2zM315.3 126.2h2v2h-2zM319.1 143.0h2v2h-2zM301.7 144.3h2v2h-2zM315.7 141.9h2v2h-2zM315.3 144.8h2v2h-2zM315.5 139.6h2v2h-2zM299.6 142.5h2v2h-2zM313.9 144.8h2v2h-2zM314.8 140.2h2v2h-2zM304.6 143.9h2v2h-2zM316.6 143.8h2v2h-2zM302.0 136.3h2v2h-2zM299.6 135.7h2v2h-2zM304.2 140.8h2v2h-2zM313.8 134.5h2v2h-2zM302.9 136.8h2v2h-2zM312.2 145.3h2v2h-2zM298.9 136.5h2v2h-2zM317.6 131.6h2v2h-2zM309.6 142.2h2v2h-2zM318.2 137.5h2v2h-2zM354.9 142.2h2v2h-2zM354.2 144.0h2v2h-2zM348.6 142.6h2v2h-2zM350.6 135.3h2v2h-2zM358.4 135.2h2v2h-2zM343.9 142.0h2v2h-2zM354.4 131.4h2v2h-2zM357.1 139.0h2v2h-2zM361.6 139.5h2v2h-2zM362.9 145.5h2v2h-2zM351.5 138.3h2v2h-2zM361.4 127.4h2v2h-2zM343.4 138.6h2v2h-2zM351.6 138.1h2v2h-2zM360.1 139.1h2v2h-2zM360.3 144.5h2v2h-2zM348.3 142.8h2v2h-2zM345.4 145.3h2v2h-2zM354.0 143.2h2v2h-2zM346.7 124.1h2v2h-2zM350.8 143.0h2v2h-2zM350.4 137.8h2v2h-2zM346.3 137.1h2v2h-2zM355.0 145.3h2v2h-2zM346.0 135.7h2v2h-2zM356.8 145.2h2v2h-2zM362.0 145.1h2v2h-2zM346.5 136.6h2v2h-2zM344.4 141.6h2v2h-2zM350.4 144.9h2v2h-2zM361.7 129.5h2v2h-2zM356.2 134.9h2v2h-2zM353.6 138.9h2v2h-2zM353.3 137.4h2v2h-2zM360.2 141.7h2v2h-2zM351.5 142.9h2v2h-2zM362.8 136.9h2v2h-2zM352.0 142.4h2v2h-2zM347.5 141.7h2v2h-2zM359.2 142.2h2v2h-2zM352.9 144.0h2v2h-2zM355.0 143.0h2v2h-2zM345.6 134.2h2v2h-2zM347.0 140.5h2v2h-2zM357.0 137.6h2v2h-2zM347.9 143.7h2v2h-2zM349.9 142.8h2v2h-2zM360.9 128.5h2v2h-2zM351.2 133.6h2v2h-2zM347.3 140.9h2v2h-2zM362.5 140.9h2v2h-2zM351.2 144.9h2v2h-2zM360.4 143.9h2v2h-2zM353.1 142.9h2v2h-2zM357.2 145.2h2v2h-2zM359.5 140.1h2v2h-2zM358.3 135.8h2v2h-2zM348.3 143.3h2v2h-2zM344.2 138.6h2v2h-2zM357.8 124.4h2v2h-2zM350.6 140.4h2v2h-2zM354.5 145.0h2v2h-2zM345.6 134.2h2v2h-2zM357.1 144.8h2v2h-2zM359.3 140.7h2v2h-2zM363.1 141.5h2v2h-2zM349.8 129.8h2v2h-2zM355.1 139.7h2v2h-2zM359.8 141.0h2v2h-2zM359.8 136.2h2v2h-2zM353.5 143.4h2v2h-2zM355.1 139.6h2v2h-2zM359.7 145.5h2v2h-2zM346.5 141.0h2v2h-2zM354.5 130.8h2v2h-2zM358.2 135.3h2v2h-2zM361.8 138.1h2v2h-2zM350.0 145.2h2v2h-2zM356.1 144.2h2v2h-2zM343.8 143.7h2v2h-2zM346.8 144.5h2v2h-2zM352.5 139.6h2v2h-2zM343.5 140.8h2v2h-2zM348.4 139.8h2v2h-2zM344.4 144.9h2v2h-2zM351.4 144.3h2v2h-2zM352.6 144.2h2v2h-2zM358.1 144.2h2v2h-2zM349.8 129.6h2v2h-2zM362.8 145.0h2v2h-2zM356.4 144.9h2v2h-2zM353.0 134.8h2v2h-2zM346.2 128.6h2v2h-2zM361.6 135.8h2v2h-2zM360.4 128.2h2v2h-2zM353.6 141.2h2v2h-2zM350.9 131.1h2v2h-2zM343.9 143.3h2v2h-2zM346.1 143.9h2v2h-2zM349.5 125.3h2v2h-2zM363.0 142.3h2v2h-2zM352.0 136.6h2v2h-2zM350.6 144.7h2v2h-2zM362.5 143.0h2v2h-2zM362.9 141.4h2v2h-2zM344.2 143.2h2v2h-2zM344.8 128.0h2v2h-2zM355.3 133.7h2v2h-2zM360.1 143.0h2v2h-2zM363.2 141.3h2v2h-2zM362.4 139.3h2v2h-2zM350.9 125.2h2v2h-2zM358.0 136.6h2v2h-2zM343.7 137.4h2v2h-2zM358.7 136.7h2v2h-2zM345.2 144.0h2v2h-2zM354.3 145.1h2v2h-2zM360.4 144.7h2v2h-2zM363.4 141.5h2v2h-2zM351.9 135.5h2v2h-2zM351.9 144.1h2v2h-2zM360.7 138.4h2v2h-2zM349.8 128.5h2v2h-2zM356.7 145.4h2v2h-2zM356.4 136.7h2v2h-2zM359.7 133.1h2v2h-2zM359.9 138.1h2v2h-2zM362.4 144.6h2v2h-2zM345.2 137.2h2v2h-2zM356.2 144.2h2v2h-2zM362.2 142.8h2v2h-2zM353.1 143.1h2v2h-2zM362.3 140.2h2v2h-2zM361.3 142.8h2v2h-2zM354.8 135.8h2v2h-2zM361.1 123.2h2v2h-2zM354.3 135.0h2v2h-2zM347.7 145.3h2v2h-2zM345.6 137.5h2v2h-2zM350.3 137.7h2v2h-2zM359.9 141.8h2v2h-2zM358.4 131.5h2v2h-2zM354.1 141.1h2v2h-2zM362.0 113.1h2v2h-2zM344.8 138.4h2v2h-2zM344.2 127.8h2v2h-2zM356.6 144.6h2v2h-2zM358.5 143.9h2v2h-2zM346.6 136.7h2v2h-2zM363.5 127.3h2v2h-2zM363.1 137.4h2v2h-2zM352.8 133.2h2v2h-2zM362.3 132.3h2v2h-2zM344.9 136.5h2v2h-2zM357.5 142.0h2v2h-2zM346.6 142.1h2v2h-2zM346.1 140.9h2v2h-2zM345.3 140.7h2v2h-2zM347.6 135.7h2v2h-2zM345.4 124.6h2v2h-2zM356.3 138.0h2v2h-2zM355.9 143.9h2v2h-2zM355.7 139.5h2v2h-2zM352.9 144.0h2v2h-2zM355.8 131.7h2v2h-2zM350.0 143.5h2v2h-2zM344.3 129.4h2v2h-2zM353.6 140.6h2v2h-2zM343.3 141.3h2v2h-2zM360.3 144.7h2v2h-2zM349.2 140.9h2v2h-2zM344.3 141.0h2v2h-2zM360.0 145.0h2v2h-2zM347.2 134.7h2v2h-2zM344.8 142.7h2v2h-2zM353.8 142.7h2v2h-2zM353.5 134.9h2v2h-2zM363.5 131.2h2v2h-2zM344.1 139.2h2v2h-2zM356.9 144.5h2v2h-2zM361.5 144.5h2v2h-2zM344.4 145.2h2v2h-2zM354.5 141.6h2v2h-2zM345.6 138.7h2v2h-2zM350.7 142.5h2v2h-2zM359.1 135.3h2v2h-2zM346.9 136.5h2v2h-2zM361.8 140.9h2v2h-2zM350.3 144.1h2v2h-2zM363.4 138.3h2v2h-2zM357.2 145.4h2v2h-2zM354.0 140.9h2v2h-2zM345.2 131.5h2v2h-2zM349.7 138.6h2v2h-2zM357.7 134.8h2v2h-2zM346.3 141.5h2v2h-2zM357.4 134.5h2v2h-2zM358.4 139.2h2v2h-2zM348.2 122.8h2v2h-2zM359.6 136.6h2v2h-2zM361.5 143.2h2v2h-2zM362.6 142.7h2v2h-2zM362.9 138.9h2v2h-2zM359.1 129.1h2v2h-2zM352.5 142.1h2v2h-2zM359.6 138.8h2v2h-2zM361.5 141.5h2v2h-2zM353.8 143.7h2v2h-2zM346.7 144.4h2v2h-2zM344.2 143.0h2v2h-2zM355.8 139.1h2v2h-2zM359.4 141.7h2v2h-2zM357.1 139.6h2v2h-2zM349.9 144.9h2v2h-2zM346.5 145.4h2v2h-2zM346.0 131.1h2v2h-2zM350.9 138.7h2v2h-2zM360.9 137.0h2v2h-2zM362.8 132.0h2v2h-2zM351.3 119.7h2v2h-2zM358.7 111.7h2v2h-2zM349.9 143.1h2v2h-2zM360.4 139.9h2v2h-2zM361.3 144.8h2v2h-2zM355.3 137.1h2v2h-2zM351.0 141.6h2v2h-2zM357.7 141.6h2v2h-2zM357.7 141.1h2v2h-2zM345.0 129.6h2v2h-2zM362.3 145.5h2v2h-2zM359.7 144.0h2v2h-2zM347.8 141.6h2v2h-2zM351.9 145.5h2v2h-2zM344.4 138.6h2v2h-2zM349.1 145.5h2v2h-2zM358.4 129.3h2v2h-2zM351.4 143.3h2v2h-2zM357.6 141.5h2v2h-2zM350.4 143.0h2v2h-2zM348.1 140.2h2v2h-2zM358.4 141.3h2v2h-2zM344.4 140.2h2v2h-2zM354.8 142.3h2v2h-2zM351.1 143.6h2v2h-2zM350.6 139.3h2v2h-2zM361.0 144.1h2v2h-2zM361.6 145.1h2v2h-2zM354.5 144.8h2v2h-2zM351.5 139.6h2v2h-2zM361.1 138.1h2v2h-2zM344.5 142.7h2v2h-2zM361.0 143.9h2v2h-2zM358.5 138.6h2v2h-2zM349.8 141.8h2v2h-2zM354.8 136.6h2v2h-2zM346.5 126.9h2v2h-2zM357.2 142.4h2v2h-2zM352.7 127.4h2v2h-2zM345.5 133.7h2v2h-2zM349.9 137.8h2v2h-2zM349.3 136.5h2v2h-2zM348.7 144.0h2v2h-2zM357.7 135.7h2v2h-2zM351.6 126.9h2v2h-2zM359.6 145.1h2v2h-2zM357.8 143.3h2v2h-2zM352.2 140.5h2v2h-2zM347.8 145.4h2v2h-2zM352.6 135.0h2v2h-2zM359.6 129.2h2v2h-2zM363.2 139.8h2v2h-2zM351.4 145.6h2v2h-2zM344.3 139.8h2v2h-2zM346.3 129.9h2v2h-2zM348.7 138.9h2v2h-2zM352.7 141.9h2v2h-2zM346.7 143.0h2v2h-2zM355.9 137.2h2v2h-2zM363.0 145.0h2v2h-2zM347.8 144.7h2v2h-2zM350.6 143.1h2v2h-2zM361.5 140.4h2v2h-2zM354.9 144.8h2v2h-2zM348.5 138.1h2v2h-2zM352.3 142.2h2v2h-2zM359.0 128.9h2v2h-2zM344.6 140.6h2v2h-2zM359.8 142.2h2v2h-2zM351.2 141.2h2v2h-2zM344.1 137.8h2v2h-2zM357.1 137.6h2v2h-2zM351.7 144.7h2v2h-2zM348.6 130.7h2v2h-2zM350.3 139.8h2v2h-2zM351.2 139.4h2v2h-2zM362.0 142.4h2v2h-2zM363.5 136.6h2v2h-2zM352.7 142.5h2v2h-2zM360.8 142.1h2v2h-2zM357.0 142.1h2v2h-2zM354.2 144.1h2v2h-2zM361.8 143.2h2v2h-2zM362.5 142.1h2v2h-2zM350.2 139.2h2v2h-2zM362.1 139.5h2v2h-2zM359.9 136.5h2v2h-2zM355.8 139.2h2v2h-2zM360.1 144.4h2v2h-2zM356.4 137.8h2v2h-2zM358.7 142.8h2v2h-2zM349.7 139.9h2v2h-2zM358.9 108.8h2v2h-2zM360.3 136.9h2v2h-2zM351.0 136.5h2v2h-2zM361.6 121.8h2v2h-2zM352.1 137.1h2v2h-2zM344.2 140.3h2v2h-2zM360.1 128.7h2v2h-2zM352.7 138.7h2v2h-2zM343.7 133.1h2v2h-2zM348.3 141.7h2v2h-2zM398.6 144.1h2v2h-2zM392.4 142.5h2v2h-2zM392.3 144.3h2v2h-2zM392.0 135.4h2v2h-2zM389.5 142.7h2v2h-2zM387.4 146.7h2v2h-2zM388.5 147.5h2v2h-2zM390.4 147.9h2v2h-2zM386.0 141.7h2v2h-2zM390.9 137.4h2v2h-2zM390.6 140.8h2v2h-2zM394.3 136.1h2v2h-2zM392.4 147.3h2v2h-2zM395.3 145.9h2v2h-2zM387.6 144.7h2v2h-2zM398.8 148.0h2v2h-2zM388.0 147.3h2v2h-2zM385.0 127.8h2v2h-2zM390.7 144.2h2v2h-2zM395.8 139.5h2v2h-2zM389.0 120.1h2v2h-2zM387.5 147.6h2v2h-2zM388.3 148.2h2v2h-2zM397.4 140.8h2v2h-2zM388.2 147.4h2v2h-2zM392.9 131.4h2v2h-2zM385.4 144.3h2v2h-2zM387.5 147.8h2v2h-2zM385.2 140.9h2v2h-2zM396.3 142.9h2v2h-2zM388.5 148.2h2v2h-2zM393.3 144.2h2v2h-2zM394.3 138.0h2v2h-2zM389.3 143.9h2v2h-2zM391.1 140.7h2v2h-2zM392.1 128.0h2v2h-2zM394.1 141.5h2v2h-2zM391.5 143.2h2v2h-2zM393.1 139.9h2v2h-2zM391.6 145.5h2v2h-2zM396.3 120.1h2v2h-2zM388.8 142.1h2v2h-2zM390.4 146.7h2v2h-2zM390.7 144.0h2v2h-2zM391.4 146.0h2v2h-2zM385.8 141.7h2v2h-2zM394.7 140.0h2v2h-2zM388.0 146.6h2v2h-2zM391.2 148.0h2v2h-2zM390.4 139.6h2v2h-2zM393.2 141.4h2v2h-2zM385.1 147.9h2v2h-2zM397.9 142.8h2v2h-2zM390.9 138.9h2v2h-2zM386.2 145.9h2v2h-2zM395.5 140.3h2v2h-2zM385.6 144.4h2v2h-2zM394.7 145.8h2v2h-2zM390.2 137.0h2v2h-2zM390.0 131.5h2v2h-2zM387.3 148.1h2v2h-2zM394.7 131.3h2v2h-2zM388.5 147.6h2v2h-2zM391.4 144.4h2v2h-2zM397.9 148.1h2v2h-2zM388.2 142.4h2v2h-2zM392.7 148.0h2v2h-2zM394.9 127.5h2v2h-2zM397.1 133.2h2v2h-2zM385.1 139.9h2v2h-2zM392.9 145.4h2v2h-2zM387.5 144.1h2v2h-2zM397.0 147.7h2v2h-2zM388.7 139.8h2v2h-2zM397.1 143.4h2v2h-2zM393.5 147.1h2v2h-2zM397.6 146.2h2v2h-2zM398.2 135.9h2v2h-2zM391.8 144.6h2v2h-2zM389.5 145.3h2v2h-2zM398.6 124.7h2v2h-2zM397.7 108.8h2v2h-2zM394.0 143.1h2v2h-2zM390.6 130.0h2v2h-2zM396.0 129.0h2v2h-2zM389.6 145.7h2v2h-2zM386.7 139.3h2v2h-2zM387.1 146.0h2v2h-2zM397.7 147.4h2v2h-2zM391.7 135.1h2v2h-2zM394.4 137.7h2v2h-2zM391.9 143.8h2v2h-2zM387.9 147.2h2v2h-2zM389.5 145.0h2v2h-2zM387.9 140.0h2v2h-2zM397.2 146.2h2v2h-2zM398.0 136.6h2v2h-2zM387.2 136.7h2v2h-2zM396.6 143.1h2v2h-2zM387.7 135.7h2v2h-2zM393.0 143.2h2v2h-2zM387.9 148.2h2v2h-2zM394.1 137.9h2v2h-2zM392.7 143.7h2v2h-2zM389.4 142.5h2v2h-2zM395.2 147.6h2v2h-2zM390.7 136.9h2v2h-2zM396.5 137.0h2v2h-2zM396.2 139.2h2v2h-2zM384.9 122.2h2v2h-2zM390.9 126.4h2v2h-2zM395.1 136.7h2v2h-2zM392.9 147.5h2v2h-2zM395.1 147.5h2v2h-2zM389.8 145.1h2v2h-2zM396.2 145.8h2v2h-2zM388.7 140.4h2v2h-2zM387.0 137.9h2v2h-2zM393.2 135.8h2v2h-2zM393.4 137.1h2v2h-2zM394.5 115.8h2v2h-2zM393.0 143.5h2v2h-2zM388.5 141.8h2v2h-2zM396.0 145.4h2v2h-2zM398.5 135.2h2v2h-2zM391.7 139.4h2v2h-2zM394.7 144.4h2v2h-2zM398.2 140.2h2v2h-2zM389.9 137.7h2v2h-2zM385.0 145.7h2v2h-2zM390.6 136.6h2v2h-2zM385.1 144.4h2v2h-2zM397.5 143.0h2v2h-2zM395.2 145.8h2v2h-2zM394.0 137.3h2v2h-2zM388.0 141.3h2v2h-2zM392.9 139.6h2v2h-2zM391.9 122.1h2v2h-2zM397.6 144.9h2v2h-2zM389.3 140.7h2v2h-2zM386.5 140.2h2v2h-2zM397.3 146.6h2v2h-2zM396.1 143.5h2v2h-2zM391.2 146.4h2v2h-2zM396.1 146.2h2v2h-2zM390.1 141.3h2v2h-2zM387.4 144.5h2v2h-2zM394.4 146.4h2v2h-2zM385.8 145.4h2v2h-2zM391.0 144.5h2v2h-2zM390.0 114.3h2v2h-2zM398.6 144.3h2v2h-2zM391.0 138.5h2v2h-2zM387.6 144.4h2v2h-2zM391.2 147.0h2v2h-2zM385.9 140.4h2v2h-2zM386.8 143.3h2v2h-2zM389.4 141.2h2v2h-2zM395.8 139.8h2v2h-2zM389.9 144.3h2v2h-2zM387.4 147.6h2v2h-2zM396.2 140.8h2v2h-2zM398.6 147.1h2v2h-2zM389.7 129.4h2v2h-2zM394.2 142.3h2v2h-2zM389.7 145.2h2v2h-2zM391.4 138.4h2v2h-2zM392.6 143.8h2v2h-2zM391.2 147.3h2v2h-2zM386.8 145.6h2v2h-2zM394.6 142.6h2v2h-2zM391.6 142.5h2v2h-2zM390.5 139.8h2v2h-2zM387.4 117.6h2v2h-2zM392.7 148.2h2v2h-2zM389.9 139.1h2v2h-2zM389.3 144.3h2v2h-2zM395.9 146.1h2v2h-2zM388.4 133.0h2v2h-2zM391.1 141.9h2v2h-2zM395.1 147.2h2v2h-2zM398.9 142.4h2v2h-2zM397.6 129.8h2v2h-2zM385.9 145.9h2v2h-2zM385.9 135.5h2v2h-2zM386.9 139.3h2v2h-2zM385.1 138.9h2v2h-2zM397.1 147.5h2v2h-2zM390.9 142.7h2v2h-2zM395.8 120.8h2v2h-2zM394.7 146.3h2v2h-2zM391.1 144.5h2v2h-2zM387.6 145.4h2v2h-2zM388.3 145.5h2v2h-2zM397.1 146.6h2v2h-2zM392.5 144.6h2v2h-2zM394.3 135.5h2v2h-2zM398.3 146.9h2v2h-2zM396.6 127.7h2v2h-2zM396.5 145.2h2v2h-2zM384.8 140.4h2v2h-2zM394.6 144.6h2v2h-2zM398.2 142.2h2v2h-2zM396.6 136.3h2v2h-2zM389.3 118.2h2v2h-2zM384.3 130.0h2v2h-2zM385.6 136.0h2v2h-2zM390.8 142.9h2v2h-2zM393.7 147.7h2v2h-2zM387.6 136.4h2v2h-2zM395.6 146.1h2v2h-2zM384.6 142.5h2v2h-2zM398.2 145.4h2v2h-2zM388.6 145.8h2v2h-2zM397.3 143.7h2v2h-2zM390.0 135.5h2v2h-2zM384.7 139.8h2v2h-2zM389.8 147.7h2v2h-2zM386.4 140.5h2v2h-2zM396.8 147.9h2v2h-2zM385.1 146.7h2v2h-2zM385.5 147.6h2v2h-2zM392.8 145.7h2v2h-2zM388.5 140.1h2v2h-2zM389.2 142.7h2v2h-2zM385.9 141.6h2v2h-2zM384.3 140.8h2v2h-2zM387.4 128.6h2v2h-2zM387.1 142.1h2v2h-2zM388.2 143.7h2v2h-2zM395.8 140.4h2v2h-2zM398.6 134.0h2v2h-2zM392.4 143.6h2v2h-2zM388.5 144.9h2v2h-2zM398.6 142.8h2v2h-2zM395.3 147.8h2v2h-2zM393.1 145.3h2v2h-2zM394.9 145.9h2v2h-2zM388.9 143.0h2v2h-2zM418.9 144.9h2v2h-2zM420.3 146.8h2v2h-2zM429.7 147.5h2v2h-2zM427.4 142.0h2v2h-2zM423.9 143.6h2v2h-2zM428.6 146.3h2v2h-2zM422.4 144.1h2v2h-2zM428.3 137.9h2v2h-2zM422.6 143.2h2v2h-2zM422.6 134.8h2v2h-2zM423.3 146.5h2v2h-2zM420.5 145.5h2v2h-2zM421.7 136.9h2v2h-2zM421.1 140.7h2v2h-2zM427.2 147.3h2v2h-2zM426.2 136.8h2v2h-2zM419.4 141.0h2v2h-2zM427.9 142.9h2v2h-2zM424.8 136.5h2v2h-2zM419.4 140.6h2v2h-2zM428.0 147.8h2v2h-2zM420.4 148.1h2v2h-2zM426.2 144.3h2v2h-2zM428.3 139.1h2v2h-2zM420.7 127.9h2v2h-2zM418.8 146.1h2v2h-2zM418.5 145.2h2v2h-2zM424.6 123.4h2v2h-2zM417.9 143.1h2v2h-2zM420.3 129.6h2v2h-2zM419.8 137.0h2v2h-2zM419.0 145.8h2v2h-2zM420.8 142.4h2v2h-2zM426.4 141.8h2v2h-2zM418.9 146.3h2v2h-2zM422.3 142.7h2v2h-2zM421.9 143.7h2v2h-2zM418.8 146.9h2v2h-2zM425.3 138.3h2v2h-2zM425.4 139.3h2v2h-2zM419.7 142.7h2v2h-2zM424.0 129.4h2v2h-2zM420.5 143.6h2v2h-2zM429.8 144.6h2v2h-2zM427.5 144.3h2v2h-2zM424.9 147.2h2v2h-2zM420.2 145.8h2v2h-2zM422.3 145.5h2v2h-2zM422.4 140.3h2v2h-2zM419.2 133.1h2v2h-2zM422.8 133.4h2v2h-2zM422.3 136.2h2v2h-2zM428.6 146.0h2v2h-2zM426.4 140.5h2v2h-2zM426.3 142.6h2v2h-2zM426.7 124.2h2v2h-2zM421.7 121.6h2v2h-2zM428.5 145.5h2v2h-2zM428.6 134.5h2v2h-2zM422.5 143.9h2v2h-2zM419.8 125.7h2v2h-2zM419.4 146.9h2v2h-2zM422.5 145.5h2v2h-2zM423.1 144.5h2v2h-2zM421.6 148.0h2v2h-2zM417.9 142.8h2v2h-2zM428.8 143.2h2v2h-2zM429.3 140.1h2v2h-2zM423.5 133.2h2v2h-2zM418.0 148.1h2v2h-2zM428.0 141.7h2v2h-2zM418.9 145.2h2v2h-2zM424.1 137.3h2v2h-2zM418.8 143.4h2v2h-2zM424.5 142.1h2v2h-2zM428.7 138.7h2v2h-2zM427.8 147.6h2v2h-2zM422.5 145.3h2v2h-2zM427.5 145.0h2v2h-2zM418.1 143.8h2v2h-2zM419.1 143.3h2v2h-2zM417.9 148.1h2v2h-2zM423.0 144.6h2v2h-2zM419.0 148.2h2v2h-2zM424.2 130.5h2v2h-2zM424.1 118.2h2v2h-2zM426.0 124.6h2v2h-2zM417.8 144.5h2v2h-2zM427.3 147.0h2v2h-2zM421.0 139.9h2v2h-2zM425.4 146.9h2v2h-2zM420.4 127.9h2v2h-2zM419.9 142.4h2v2h-2zM426.3 146.7h2v2h-2zM419.8 128.1h2v2h-2zM419.0 146.2h2v2h-2zM420.1 146.5h2v2h-2zM420.2 144.1h2v2h-2zM420.3 139.9h2v2h-2zM422.6 145.9h2v2h-2zM417.9 146.8h2v2h-2zM417.3 147.5h2v2h-2zM417.8 139.7h2v2h-2zM428.6 143.2h2v2h-2zM421.1 140.9h2v2h-2zM422.7 144.3h2v2h-2zM417.9 145.3h2v2h-2zM419.0 146.9h2v2h-2zM421.4 146.5h2v2h-2zM425.1 147.4h2v2h-2zM423.7 146.5h2v2h-2zM423.6 139.2h2v2h-2zM427.2 137.9h2v2h-2zM419.9 143.7h2v2h-2zM426.1 147.9h2v2h-2zM420.9 144.7h2v2h-2zM419.5 147.6h2v2h-2zM423.2 131.2h2v2h-2zM428.0 133.9h2v2h-2zM420.1 146.1h2v2h-2zM420.2 131.6h2v2h-2zM429.2 141.3h2v2h-2zM422.6 143.4h2v2h-2zM428.2 124.0h2v2h-2zM426.2 128.2h2v2h-2zM417.8 146.3h2v2h-2zM429.0 148.1h2v2h-2zM428.5 142.3h2v2h-2zM420.2 124.0h2v2h-2zM420.7 121.3h2v2h-2zM420.7 146.7h2v2h-2zM421.7 126.7h2v2h-2zM427.7 143.2h2v2h-2zM428.7 135.8h2v2h-2zM420.2 144.8h2v2h-2zM429.2 142.7h2v2h-2zM428.4 141.0h2v2h-2zM423.7 146.6h2v2h-2zM424.5 129.2h2v2h-2zM427.5 136.1h2v2h-2zM426.0 143.8h2v2h-2zM422.8 139.2h2v2h-2zM427.6 142.6h2v2h-2zM429.8 131.9h2v2h-2zM425.9 144.7h2v2h-2zM428.1 142.1h2v2h-2zM423.2 146.1h2v2h-2zM427.5 146.0h2v2h-2zM417.3 138.8h2v2h-2zM419.0 147.4h2v2h-2zM427.1 141.4h2v2h-2zM418.2 145.0h2v2h-2zM425.1 141.5h2v2h-2zM420.7 143.9h2v2h-2zM420.2 145.0h2v2h-2zM422.1 135.4h2v2h-2zM424.2 138.7h2v2h-2zM420.8 146.3h2v2h-2zM428.2 139.7h2v2h-2zM419.2 129.1h2v2h-2zM418.5 146.0h2v2h-2zM422.1 146.6h2v2h-2zM428.9 138.5h2v2h-2zM419.1 141.4h2v2h-2zM419.0 144.6h2v2h-2zM424.6 145.7h2v2h-2zM419.4 142.9h2v2h-2zM428.7 145.8h2v2h-2zM424.9 140.6h2v2h-2zM421.0 145.3h2v2h-2zM417.4 137.3h2v2h-2zM429.4 140.1h2v2h-2zM417.8 140.5h2v2h-2zM427.2 148.0h2v2h-2zM422.6 146.7h2v2h-2zM425.8 140.2h2v2h-2zM425.9 145.6h2v2h-2zM423.2 129.5h2v2h-2zM426.0 144.4h2v2h-2zM426.0 132.4h2v2h-2zM427.2 128.2h2v2h-2zM420.4 124.2h2v2h-2zM419.9 139.7h2v2h-2zM421.6 147.3h2v2h-2zM421.0 125.9h2v2h-2zM429.1 145.4h2v2h-2zM426.9 117.5h2v2h-2zM427.7 144.9h2v2h-2zM417.3 147.7h2v2h-2zM421.5 147.7h2v2h-2zM428.2 146.1h2v2h-2zM428.1 143.7h2v2h-2zM422.0 143.1h2v2h-2zM417.8 145.1h2v2h-2zM429.4 143.6h2v2h-2zM429.1 120.9h2v2h-2zM422.9 147.5h2v2h-2zM419.2 134.5h2v2h-2zM419.8 147.7h2v2h-2zM426.7 147.6h2v2h-2zM429.9 138.7h2v2h-2zM426.2 147.9h2v2h-2zM419.5 136.2h2v2h-2zM429.7 147.6h2v2h-2zM418.1 136.3h2v2h-2zM425.6 146.7h2v2h-2zM422.8 146.8h2v2h-2zM418.4 147.0h2v2h-2zM424.1 143.2h2v2h-2zM417.2 133.9h2v2h-2zM418.1 144.9h2v2h-2zM445.9 154.6h2v2h-2zM456.2 144.5h2v2h-2zM454.4 146.1h2v2h-2zM454.6 153.5h2v2h-2zM454.6 151.6h2v2h-2zM448.6 153.2h2v2h-2zM447.7 149.6h2v2h-2zM453.2 153.0h2v2h-2zM456.0 143.4h2v2h-2zM449.1 147.2h2v2h-2zM451.7 150.5h2v2h-2zM455.3 148.4h2v2h-2zM455.8 148.9h2v2h-2zM450.2 150.3h2v2h-2zM448.8 155.1h2v2h-2zM445.4 150.3h2v2h-2zM446.6 150.9h2v2h-2zM454.9 152.9h2v2h-2zM446.5 136.4h2v2h-2zM450.6 148.5h2v2h-2zM448.5 154.9h2v2h-2zM449.9 149.5h2v2h-2zM446.0 148.8h2v2h-2zM452.0 148.0h2v2h-2zM451.5 153.7h2v2h-2zM455.0 134.5h2v2h-2zM451.0 148.0h2v2h-2zM450.2 144.7h2v2h-2zM449.4 145.9h2v2h-2zM453.3 149.1h2v2h-2zM451.9 148.6h2v2h-2zM449.1 151.6h2v2h-2zM450.2 147.1h2v2h-2zM449.4 150.9h2v2h-2zM452.1 152.7h2v2h-2zM447.4 139.2h2v2h-2zM451.1 147.3h2v2h-2zM452.5 147.5h2v2h-2zM445.4 151.4h2v2h-2zM451.0 151.8h2v2h-2zM455.4 147.7h2v2h-2zM452.4 147.1h2v2h-2zM454.0 152.0h2v2h-2zM454.9 154.2h2v2h-2zM450.2 150.2h2v2h-2zM451.2 146.3h2v2h-2zM446.6 113.6h2v2h-2zM451.8 154.8h2v2h-2zM447.8 153.3h2v2h-2zM448.5 149.5h2v2h-2zM447.8 151.8h2v2h-2zM446.8 153.1h2v2h-2zM453.3 126.6h2v2h-2zM446.5 151.9h2v2h-2zM455.0 126.9h2v2h-2zM454.8 154.5h2v2h-2zM456.0 149.2h2v2h-2zM450.0 150.9h2v2h-2zM451.6 155.2h2v2h-2zM454.9 153.2h2v2h-2zM454.9 153.4h2v2h-2zM454.1 152.2h2v2h-2zM455.5 145.7h2v2h-2zM449.2 148.7h2v2h-2zM447.9 153.0h2v2h-2zM448.6 154.5h2v2h-2zM454.3 152.4h2v2h-2zM450.8 155.3h2v2h-2zM447.0 149.9h2v2h-2zM447.6 146.2h2v2h-2zM447.1 144.9h2v2h-2zM448.7 139.2h2v2h-2zM446.9 154.6h2v2h-2zM446.7 153.6h2v2h-2zM455.9 152.4h2v2h-2zM449.6 151.7h2v2h-2zM446.1 144.6h2v2h-2zM454.8 154.6h2v2h-2zM447.2 152.3h2v2h-2zM453.4 153.8h2v2h-2zM449.6 126.2h2v2h-2zM450.3 145.8h2v2h-2zM448.7 153.6h2v2h-2zM448.0 152.1h2v2h-2zM446.3 143.2h2v2h-2zM453.3 151.6h2v2h-2zM455.8 155.1h2v2h-2zM452.4 148.0h2v2h-2zM447.5 153.7h2v2h-2zM455.9 141.1h2v2h-2zM454.2 155.2h2v2h-2zM446.1 153.6h2v2h-2zM446.3 148.3h2v2h-2zM454.5 141.2h2v2h-2zM446.9 152.7h2v2h-2zM453.5 149.8h2v2h-2zM453.0 155.0h2v2h-2zM449.4 154.3h2v2h-2zM446.2 153.9h2v2h-2zM448.6 149.4h2v2h-2zM455.2 136.8h2v2h-2zM450.9 145.4h2v2h-2zM448.9 147.3h2v2h-2zM451.3 150.5h2v2h-2zM450.1 151.1h2v2h-2zM456.1 140.7h2v2h-2zM454.7 145.1h2v2h-2zM446.1 152.5h2v2h-2zM450.7 153.4h2v2h-2zM453.3 144.2h2v2h-2zM453.8 136.4h2v2h-2zM445.9 152.6h2v2h-2zM448.9 150.3h2v2h-2zM455.2 139.7h2v2h-2zM453.7 149.4h2v2h-2zM451.0 145.4h2v2h-2zM455.7 150.8h2v2h-2zM451.5 143.1h2v2h-2zM446.9 122.1h2v2h-2zM451.3 144.1h2v2h-2zM446.7 152.3h2v2h-2zM454.8 148.6h2v2h-2zM455.1 153.8h2v2h-2zM447.4 122.1h2v2h-2zM450.6 149.1h2v2h-2zM446.6 152.2h2v2h-2zM455.6 152.9h2v2h-2zM455.7 141.3h2v2h-2zM450.7 150.0h2v2h-2zM450.0 154.8h2v2h-2zM456.1 148.6h2v2h-2zM452.5 154.8h2v2h-2zM455.9 154.9h2v2h-2zM452.9 153.6h2v2h-2zM447.5 147.6h2v2h-2zM449.9 150.6h2v2h-2zM449.6 153.8h2v2h-2zM453.0 154.8h2v2h-2zM451.2 128.1h2v2h-2zM450.9 151.4h2v2h-2zM453.4 154.1h2v2h-2zM446.4 146.3h2v2h-2zM446.6 151.7h2v2h-2zM445.5 146.1h2v2h-2zM446.0 139.6h2v2h-2zM447.4 141.5h2v2h-2zM453.1 149.5h2v2h-2zM454.8 133.9h2v2h-2zM453.1 154.0h2v2h-2zM447.1 151.0h2v2h-2zM455.5 150.6h2v2h-2zM452.9 155.2h2v2h-2zM454.9 149.3h2v2h-2zM448.0 150.4h2v2h-2zM446.5 140.7h2v2h-2zM448.5 146.4h2v2h-2zM447.1 154.9h2v2h-2zM447.0 140.8h2v2h-2zM446.9 136.1h2v2h-2zM445.9 135.1h2v2h-2zM451.1 147.1h2v2h-2zM455.4 148.4h2v2h-2zM456.1 153.3h2v2h-2zM454.1 148.8h2v2h-2zM456.2 153.1h2v2h-2zM450.4 145.5h2v2h-2zM454.9 153.4h2v2h-2zM456.1 149.0h2v2h-2zM453.5 138.8h2v2h-2zM447.1 145.5h2v2h-2zM453.1 141.7h2v2h-2zM446.1 154.5h2v2h-2zM447.7 154.5h2v2h-2zM453.7 144.2h2v2h-2zM449.3 146.2h2v2h-2zM447.0 134.0h2v2h-2zM450.1 153.3h2v2h-2zM453.3 153.0h2v2h-2zM453.4 141.5h2v2h-2zM451.6 152.3h2v2h-2zM451.3 152.4h2v2h-2zM447.0 149.5h2v2h-2zM454.2 141.0h2v2h-2zM446.3 143.8h2v2h-2zM453.5 153.3h2v2h-2zM475.7 143.0h2v2h-2zM473.3 150.9h2v2h-2zM468.9 146.4h2v2h-2zM470.8 150.4h2v2h-2zM469.5 142.7h2v2h-2zM473.0 148.2h2v2h-2zM475.7 141.0h2v2h-2zM470.0 137.8h2v2h-2zM472.9 145.5h2v2h-2zM472.8 145.6h2v2h-2zM470.3 148.1h2v2h-2zM474.8 143.3h2v2h-2zM473.3 143.0h2v2h-2zM470.4 127.5h2v2h-2zM474.5 145.2h2v2h-2zM468.6 143.7h2v2h-2zM474.4 146.3h2v2h-2zM471.4 150.0h2v2h-2zM471.8 120.8h2v2h-2zM472.8 145.8h2v2h-2zM471.8 137.2h2v2h-2zM473.6 134.2h2v2h-2zM473.0 147.8h2v2h-2zM469.0 149.0h2v2h-2zM468.9 146.7h2v2h-2zM474.6 149.1h2v2h-2zM470.0 124.8h2v2h-2zM471.1 150.4h2v2h-2zM469.6 147.2h2v2h-2zM469.7 139.2h2v2h-2zM470.5 145.8h2v2h-2zM469.4 143.8h2v2h-2zM474.6 146.6h2v2h-2zM470.0 151.7h2v2h-2zM474.5 151.2h2v2h-2zM470.3 143.3h2v2h-2zM469.8 134.1h2v2h-2zM473.8 146.6h2v2h-2zM469.1 144.7h2v2h-2zM469.9 151.4h2v2h-2zM475.0 129.5h2v2h-2zM468.9 149.0h2v2h-2zM470.0 144.1h2v2h-2zM475.1 134.7h2v2h-2zM474.1 140.1h2v2h-2zM474.5 140.2h2v2h-2zM473.7 148.1h2v2h-2zM473.5 151.7h2v2h-2zM475.6 147.3h2v2h-2zM471.8 140.0h2v2h-2zM472.8 142.4h2v2h-2zM468.7 144.4h2v2h-2zM470.4 149.8h2v2h-2zM475.1 142.5h2v2h-2zM474.0 144.2h2v2h-2zM469.6 144.0h2v2h-2zM472.7 149.5h2v2h-2zM471.6 141.0h2v2h-2zM471.0 142.7h2v2h-2zM469.8 148.9h2v2h-2zM472.7 147.7h2v2h-2zM475.2 150.9h2v2h-2zM473.8 151.7h2v2h-2zM475.3 148.5h2v2h-2zM468.8 149.2h2v2h-2zM471.3 142.8h2v2h-2zM473.3 138.7h2v2h-2zM473.3 147.3h2v2h-2zM470.9 143.0h2v2h-2zM473.2 150.1h2v2h-2zM468.9 145.3h2v2h-2zM471.7 150.4h2v2h-2zM472.3 151.1h2v2h-2zM470.7 147.9h2v2h-2zM473.8 141.1h2v2h-2zM472.8 151.2h2v2h-2zM472.9 114.1h2v2h-2zM470.3 119.6h2v2h-2zM470.9 149.9h2v2h-2zM469.7 149.7h2v2h-2zM472.2 149.5h2v2h-2zM474.1 139.0h2v2h-2zM474.0 151.5h2v2h-2zM470.5 144.0h2v2h-2zM474.7 151.7h2v2h-2zM470.4 150.7h2v2h-2zM474.3 149.0h2v2h-2zM475.1 129.5h2v2h-2zM474.6 137.3h2v2h-2zM469.0 146.9h2v2h-2zM469.6 149.7h2v2h-2zM469.6 150.8h2v2h-2zM469.0 148.8h2v2h-2zM474.7 149.1h2v2h-2zM472.2 149.7h2v2h-2zM468.7 137.2h2v2h-2zM472.5 141.8h2v2h-2zM474.9 151.5h2v2h-2zM469.3 139.6h2v2h-2zM472.7 126.9h2v2h-2zM470.1 144.1h2v2h-2zM473.6 151.5h2v2h-2zM469.9 142.2h2v2h-2zM472.7 151.5h2v2h-2zM471.0 149.0h2v2h-2zM472.6 136.3h2v2h-2zM473.6 150.8h2v2h-2zM472.6 142.0h2v2h-2zM472.0 128.3h2v2h-2zM469.0 143.7h2v2h-2zM470.7 149.0h2v2h-2zM472.2 147.5h2v2h-2zM473.5 150.8h2v2h-2zM470.4 151.4h2v2h-2zM468.8 145.0h2v2h-2zM474.3 148.7h2v2h-2zM471.3 141.7h2v2h-2zM473.9 150.4h2v2h-2zM469.2 136.2h2v2h-2zM472.5 147.6h2v2h-2zM470.0 142.7h2v2h-2zM472.9 138.5h2v2h-2zM475.3 139.5h2v2h-2zM473.4 143.0h2v2h-2zM470.5 149.1h2v2h-2zM474.4 148.2h2v2h-2zM470.6 144.8h2v2h-2zM472.3 133.9h2v2h-2zM473.2 122.2h2v2h-2zM471.0 141.6h2v2h-2zM472.0 115.1h2v2h-2zM492.0 143.6h2v2h-2zM490.2 136.4h2v2h-2zM488.4 146.2h2v2h-2zM487.1 144.7h2v2h-2zM486.8 148.9h2v2h-2zM490.3 152.8h2v2h-2zM487.5 149.3h2v2h-2zM488.0 130.8h2v2h-2zM489.2 147.6h2v2h-2zM492.3 152.0h2v2h-2zM491.7 142.7h2v2h-2zM491.8 150.8h2v2h-2zM492.0 135.1h2v2h-2zM487.2 152.0h2v2h-2zM486.8 152.9h2v2h-2zM486.6 144.3h2v2h-2zM488.4 148.8h2v2h-2zM486.6 143.6h2v2h-2zM492.0 143.8h2v2h-2zM488.7 150.8h2v2h-2zM488.1 143.2h2v2h-2zM492.3 139.2h2v2h-2zM489.1 151.6h2v2h-2zM489.6 152.3h2v2h-2zM492.1 149.7h2v2h-2zM492.3 143.6h2v2h-2zM491.2 140.8h2v2h-2zM490.3 149.9h2v2h-2zM488.4 152.6h2v2h-2zM492.2 134.1h2v2h-2zM489.3 152.1h2v2h-2zM490.0 149.6h2v2h-2zM487.9 146.6h2v2h-2zM489.0 137.3h2v2h-2zM490.6 142.1h2v2h-2zM489.4 123.5h2v2h-2zM490.9 146.7h2v2h-2zM486.6 151.5h2v2h-2zM490.5 140.7h2v2h-2zM491.1 142.9h2v2h-2zM491.6 151.8h2v2h-2zM492.0 145.7h2v2h-2zM491.5 147.3h2v2h-2zM487.3 153.1h2v2h-2zM490.3 147.4h2v2h-2zM486.7 149.8h2v2h-2zM486.7 136.9h2v2h-2zM487.7 136.7h2v2h-2zM489.9 144.2h2v2h-2zM488.3 151.5h2v2h-2zM489.5 151.4h2v2h-2zM489.6 151.0h2v2h-2zM487.0 151.0h2v2h-2zM487.9 144.4h2v2h-2zM488.7 130.8h2v2h-2zM490.6 151.2h2v2h-2zM488.5 135.8h2v2h-2zM488.3 143.4h2v2h-2zM488.1 114.2h2v2h-2zM486.3 153.3h2v2h-2zM490.0 147.5h2v2h-2zM488.8 151.0h2v2h-2zM488.5 149.5h2v2h-2zM489.6 151.9h2v2h-2zM486.5 145.1h2v2h-2zM487.9 137.2h2v2h-2zM487.6 148.6h2v2h-2zM488.7 145.0h2v2h-2zM488.7 146.9h2v2h-2zM486.8 148.1h2v2h-2zM488.9 122.9h2v2h-2zM491.4 150.5h2v2h-2zM491.0 150.9h2v2h-2zM487.0 149.3h2v2h-2zM488.0 147.0h2v2h-2zM492.2 151.8h2v2h-2zM489.1 132.4h2v2h-2zM490.3 140.9h2v2h-2zM487.1 150.8h2v2h-2zM487.4 146.9h2v2h-2zM489.9 142.8h2v2h-2zM491.0 151.6h2v2h-2zM489.2 127.2h2v2h-2zM489.0 126.7h2v2h-2zM489.1 153.4h2v2h-2zM491.8 150.2h2v2h-2zM492.1 147.9h2v2h-2zM488.6 152.2h2v2h-2zM486.6 153.4h2v2h-2zM486.5 144.0h2v2h-2zM488.9 151.6h2v2h-2zM487.7 134.1h2v2h-2zM490.5 153.5h2v2h-2zM487.1 144.4h2v2h-2zM491.5 133.4h2v2h-2zM491.2 132.4h2v2h-2zM490.5 147.5h2v2h-2zM490.2 152.5h2v2h-2zM488.3 150.2h2v2h-2zM486.8 150.7h2v2h-2zM490.9 140.8h2v2h-2zM489.4 153.5h2v2h-2zM489.6 153.4h2v2h-2zM492.1 152.1h2v2h-2zM489.4 150.6h2v2h-2zM491.7 151.2h2v2h-2zM488.1 153.5h2v2h-2zM490.8 151.6h2v2h-2zM491.5 150.0h2v2h-2zM487.1 150.5h2v2h-2zM486.8 148.9h2v2h-2zM489.4 152.3h2v2h-2zM487.6 147.0h2v2h-2zM489.4 152.0h2v2h-2zM489.2 149.0h2v2h-2zM95.5 109.0h2v2h-2zM92.5 115.0h2v2h-2zM206.5 97.0h2v2h-2zM254.0 97.0h2v2h-2zM264.8 93.2h2v2h-2zM161.5 111.0h2v2h-2zM167.0 109.5h2v2h-2zM217.0 116.0h2v2h-2zM261.0 111.0h2v2h-2zM269.0 111.0h2v2h-2zM319.5 91.5h2v2h-2zM353.2 97.0h2v2h-2zM315.2 105.8h2v2h-2zM274.0 107.8h2v2h-2zM344.0 111.0h2v2h-2zM360.2 110.2h2v2h-2zM421.0 107.8h2v2h-2zM428.5 112.8h2v2h-2zM474.0 115.0h2v2h-2zM452.8 116.0h2v2h-2z" fill="#0b0b53"/>
<rect x="46.7" y="133.4" width="1.4" height="33.9" fill="#fff"/>
<rect x="281.2" y="138.7" width="4.3" height="28.6" fill="#fff"/>
<rect x="365.6" y="136.9" width="2.0" height="30.4" fill="#fff"/>
<rect x="384.5" y="138.7" width="1.6" height="28.6" fill="#fff"/>
<rect x="401.2" y="140.4" width="2.6" height="26.9" fill="#fff"/>
<rect x="416.6" y="144.0" width="1.0" height="23.3" fill="#fff"/>
<rect x="424.4" y="142.2" width="1.0" height="25.1" fill="#fff"/>
<rect x="478.2" y="142.2" width="2.0" height="25.1" fill="#fff"/>
<rect x="487.4" y="145.7" width="1.0" height="21.6" fill="#fff"/>
<rect x="493.6" y="145.7" width="0.9" height="21.6" fill="#fff"/>
<path d="M26.3 61.00H519.0" stroke="#cd8398" stroke-width="2"/>
<path d="M26.3 167.8H519.0" stroke="#b8b8c8" stroke-width="1"/>
<path d="M519.0 166.9V8.0H26.3V167.9" stroke="#4a4a4a" stroke-width="1.3" fill="none"/>
<path d="M46.52 167.8V169.70000000000002M86.50 167.8V169.70000000000002M122.62 167.8V169.70000000000002M154.50 167.8V169.70000000000002M184.25 167.8V169.70000000000002M212.75 167.8V169.70000000000002M240.12 167.8V169.70000000000002M264.75 167.8V169.70000000000002M287.50 167.8V169.70000000000002M310.25 167.8V169.70000000000002M332.50 167.8V169.70000000000002M354.38 167.8V169.70000000000002M374.90 167.8V169.70000000000002M392.65 167.8V169.70000000000002M409.10 167.8V169.70000000000002M424.60 167.8V169.70000000000002M438.65 167.8V169.70000000000002M451.75 167.8V169.70000000000002M463.40 167.8V169.70000000000002M473.15 167.8V169.70000000000002M482.00 167.8V169.70000000000002M490.30 167.8V169.70000000000002M506.65 167.8V169.70000000000002" stroke="#aaa" stroke-width="0.9"/>
<path d="M23.3 166.90H26.3M23.3 149.25H26.3M23.3 131.60H26.3M23.3 113.95H26.3M23.3 96.30H26.3M23.3 78.65H26.3M23.3 61.00H26.3M23.3 43.35H26.3M23.3 25.70H26.3M23.3 8.05H26.3" stroke="#9a9a9a" stroke-width="1"/>
<text x="18.9" y="169.50" class="ty">0</text>
<text x="18.9" y="151.85" class="ty">1</text>
<text x="18.9" y="134.20" class="ty">2</text>
<text x="18.9" y="116.55" class="ty">3</text>
<text x="18.9" y="98.90" class="ty">4</text>
<text x="18.9" y="81.25" class="ty">5</text>
<text x="18.9" y="63.60" class="ty">6</text>
<text x="18.9" y="45.95" class="ty">7</text>
<text x="18.9" y="28.30" class="ty">8</text>
<text x="18.9" y="10.65" class="ty">9</text>
<text x="46.52" y="178.4" class="tx">1</text>
<text x="86.50" y="178.4" class="tx">2</text>
<text x="122.62" y="178.4" class="tx">3</text>
<text x="154.50" y="178.4" class="tx">4</text>
<text x="184.25" y="178.4" class="tx">5</text>
<text x="212.75" y="178.4" class="tx">6</text>
<text x="240.12" y="178.4" class="tx">7</text>
<text x="264.75" y="178.4" class="tx">8</text>
<text x="287.50" y="178.4" class="tx">9</text>
<text x="310.25" y="178.4" class="tx">10</text>
<text x="332.50" y="178.4" class="tx">11</text>
<text x="354.38" y="178.4" class="tx">12</text>
<text x="374.90" y="178.4" class="tx">13</text>
<text x="392.65" y="178.4" class="tx">14</text>
<text x="409.10" y="178.4" class="tx">15</text>
<text x="424.60" y="178.4" class="tx">16</text>
<text x="438.65" y="178.4" class="tx">17</text>
<text x="451.75" y="178.4" class="tx">18</text>
<text x="463.40" y="178.4" class="tx">19</text>
<text x="473.15" y="178.4" class="tx">20</text>
<text x="482.00" y="178.4" class="tx">21</text>
<text x="490.30" y="178.4" class="tx">22</text>
<text x="506.65" y="178.4" class="tx">X</text>
<text x="210.8" y="191.5" textLength="126" style="font-size:10.6px;fill:#111;stroke:#111;stroke-width:0.25">Chromosomal Coordinates</text>
<text x="200.5" y="22.5" class="ser" style="font-size:12.3px;fill:#111;stroke:#111;stroke-width:0.25">rs6046 (FVII 353Arn&gt;Gln)</text>
<path d="M339.4 18.3L372 13.8" stroke="#1a1a55" stroke-width="1.3"/>
<path d="M378 13L370.5 10.6L371.8 16.6Z" fill="#1a1a55"/>
<rect x="382" y="11.9" width="2" height="2" fill="#d02020"/>
<rect x="226.8" y="29.6" width="80.6" height="15.2" fill="#ececec" stroke="#808080" stroke-width="1"/>
<text x="229.3" y="40.1" textLength="75.5" lengthAdjust="spacingAndGlyphs" class="ser" style="font-size:12px;fill:#111;stroke:#111;stroke-width:0.3">p-value = 2.1E-9</text>
<text x="111.4" y="213.6" style="font-size:13px;font-weight:bold;fill:#111">B.</text>
<rect x="152.9" y="205.0" width="237.5" height="352.9" fill="none" stroke="#555" stroke-width="1.2"/>
<path d="M147.8 547.80H152.9" stroke="#555" stroke-width="1"/>
<text transform="translate(144.2,547.80) rotate(-90)" style="font-size:12.8px;text-anchor:middle;fill:#222">0</text>
<path d="M147.8 475.75H152.9" stroke="#555" stroke-width="1"/>
<text transform="translate(144.2,475.75) rotate(-90)" style="font-size:12.8px;text-anchor:middle;fill:#222">100</text>
<path d="M147.8 403.70H152.9" stroke="#555" stroke-width="1"/>
<text transform="translate(144.2,403.70) rotate(-90)" style="font-size:12.8px;text-anchor:middle;fill:#222">200</text>
<path d="M147.8 331.65H152.9" stroke="#555" stroke-width="1"/>
<text transform="translate(144.2,331.65) rotate(-90)" style="font-size:12.8px;text-anchor:middle;fill:#222">300</text>
<path d="M147.8 259.60H152.9" stroke="#555" stroke-width="1"/>
<text transform="translate(144.2,259.60) rotate(-90)" style="font-size:12.8px;text-anchor:middle;fill:#222">400</text>
<path d="M199.5 557.9V563.6" stroke="#555" stroke-width="1"/>
<text x="199.5" y="576.2" style="font-size:12.6px;text-anchor:middle;fill:#222">GG</text>
<path d="M271.5 557.9V563.6" stroke="#555" stroke-width="1"/>
<text x="271.5" y="576.2" style="font-size:12.6px;text-anchor:middle;fill:#222">GA</text>
<path d="M343.3 557.9V563.6" stroke="#555" stroke-width="1"/>
<text x="343.3" y="576.2" style="font-size:12.6px;text-anchor:middle;fill:#222">AA</text>
<text x="212" y="594.3" textLength="123" style="font-size:12.6px;font-weight:bold;fill:#111"><tspan font-style="italic">F7 353R&gt;Q</tspan> (rs6046)</text>
<text transform="translate(123.4,460.2) rotate(-90)" textLength="132.5" style="font-size:13px;font-weight:bold;fill:#111">Factor VII activity (%)</text>
<path d="M199.5 436.2V398.5M199.5 464.4V500.5" stroke="#333" stroke-width="1" stroke-dasharray="3,2.5"/>
<path d="M185.8 398.5H213.2M185.8 500.5H213.2" stroke="#333" stroke-width="1"/>
<rect x="172.5" y="436.2" width="54" height="28.19999999999999" fill="#d3d3d3" stroke="#555" stroke-width="1.1"/>
<path d="M172.5 452.3H226.5" stroke="#e02020" stroke-width="2.6"/>
<path d="M271.3 450.7V424.5M271.3 478.1V509.5" stroke="#333" stroke-width="1" stroke-dasharray="3,2.5"/>
<path d="M257.6 424.5H285.0M257.6 509.5H285.0" stroke="#333" stroke-width="1"/>
<rect x="244.4" y="450.7" width="53.8" height="27.400000000000034" fill="#d3d3d3" stroke="#555" stroke-width="1.1"/>
<path d="M244.4 465.8H298.2" stroke="#e02020" stroke-width="2.6"/>
<path d="M343.2 479.9V479.9M343.2 493.3V493.4" stroke="#333" stroke-width="1" stroke-dasharray="3,2.5"/>
<path d="M329.5 479.9H356.9M329.5 493.4H356.9" stroke="#333" stroke-width="1"/>
<rect x="316.4" y="479.9" width="53.6" height="13.400000000000034" fill="#d3d3d3" stroke="#555" stroke-width="1.1"/>
<path d="M316.4 486.5H370.0" stroke="#e02020" stroke-width="2.6"/>
<circle cx="199.6" cy="217.9" r="3" fill="none" stroke="#2f9a2f" stroke-width="1.1"/>
<circle cx="199.6" cy="270.6" r="3" fill="none" stroke="#2f9a2f" stroke-width="1.1"/>
<circle cx="199.6" cy="280.75" r="3" fill="none" stroke="#2f9a2f" stroke-width="1.1"/>
<circle cx="199.6" cy="316.2" r="3" fill="none" stroke="#2f9a2f" stroke-width="1.1"/>
<circle cx="199.6" cy="347.7" r="3" fill="none" stroke="#2f9a2f" stroke-width="1.1"/>
<circle cx="199.6" cy="350.2" r="3" fill="none" stroke="#2f9a2f" stroke-width="1.1"/>
<circle cx="199.6" cy="353.5" r="3" fill="none" stroke="#2f9a2f" stroke-width="1.1"/>
<circle cx="199.6" cy="361" r="3" fill="none" stroke="#2f9a2f" stroke-width="1.1"/>
<circle cx="199.6" cy="368.2" r="3" fill="none" stroke="#2f9a2f" stroke-width="1.1"/>
<circle cx="199.6" cy="382" r="3" fill="none" stroke="#2f9a2f" stroke-width="1.1"/>
<circle cx="199.6" cy="385.3" r="3" fill="none" stroke="#2f9a2f" stroke-width="1.1"/>
<circle cx="199.6" cy="388.6" r="3" fill="none" stroke="#2f9a2f" stroke-width="1.1"/>
<circle cx="199.6" cy="392" r="3" fill="none" stroke="#2f9a2f" stroke-width="1.1"/>
<circle cx="199.6" cy="511.6" r="3" fill="none" stroke="#2f9a2f" stroke-width="1.1"/>
<circle cx="199.6" cy="514.5" r="3" fill="none" stroke="#2f9a2f" stroke-width="1.1"/>
<circle cx="199.6" cy="517.4" r="3" fill="none" stroke="#2f9a2f" stroke-width="1.1"/>
<circle cx="199.6" cy="520.3" r="3" fill="none" stroke="#2f9a2f" stroke-width="1.1"/>
<circle cx="199.6" cy="523.2" r="3" fill="none" stroke="#2f9a2f" stroke-width="1.1"/>
<circle cx="199.6" cy="526" r="3" fill="none" stroke="#2f9a2f" stroke-width="1.1"/>
<circle cx="199.6" cy="541.6" r="3" fill="none" stroke="#2f9a2f" stroke-width="1.1"/>
<circle cx="199.6" cy="543.6" r="3" fill="none" stroke="#2f9a2f" stroke-width="1.1"/>
<circle cx="199.6" cy="545.6" r="3" fill="none" stroke="#2f9a2f" stroke-width="1.1"/>
<circle cx="271.3" cy="386.4" r="3" fill="none" stroke="#2f9a2f" stroke-width="1.1"/>
<circle cx="271.3" cy="392.2" r="3" fill="none" stroke="#2f9a2f" stroke-width="1.1"/>
<circle cx="271.4" cy="544.7" r="3" fill="none" stroke="#2f9a2f" stroke-width="1.1"/>
</svg>
</body></html>
